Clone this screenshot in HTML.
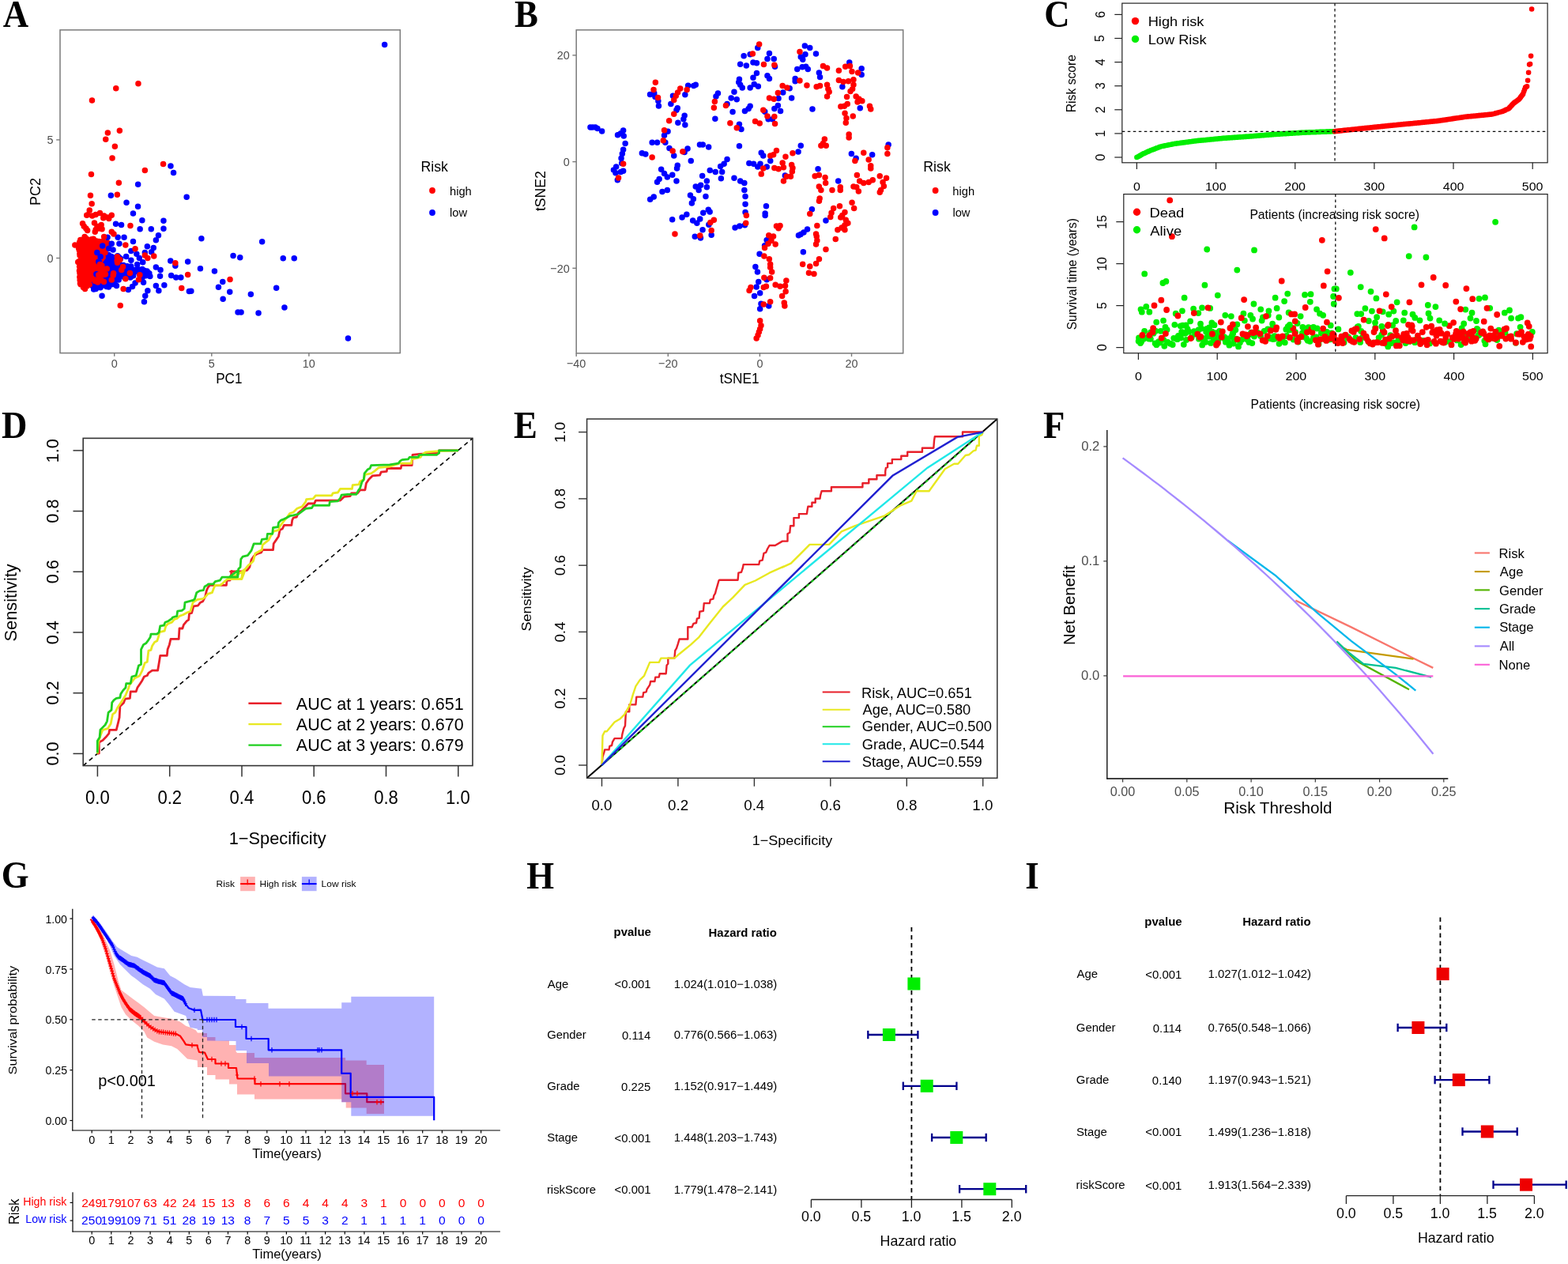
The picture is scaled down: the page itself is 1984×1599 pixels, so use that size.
<!DOCTYPE html>
<html><head><meta charset="utf-8"><title>Figure</title>
<style>html,body{margin:0;padding:0;background:#fff;overflow:hidden;} svg{display:block;} </style>
</head><body>
<svg width="1984" height="1599" viewBox="0 0 1984 1599" font-family="'Liberation Sans', Arial, sans-serif">
<rect width="1984" height="1599" fill="#fff"/>
<text transform="translate(3.65 33.90) scale(0.4480 0.4760)" font-size="100" font-weight="bold" font-family="'Liberation Serif', 'Times New Roman', serif">A</text>
<g id="A-pts">
<path d="M122.3,324.3a3.75,3.75 0 1,0 7.5,0a3.75,3.75 0 1,0 -7.5,0M126.3,351.5a3.75,3.75 0 1,0 7.5,0a3.75,3.75 0 1,0 -7.5,0M121.4,353.7a3.75,3.75 0 1,0 7.5,0a3.75,3.75 0 1,0 -7.5,0M132.3,342.3a3.75,3.75 0 1,0 7.5,0a3.75,3.75 0 1,0 -7.5,0M128.3,360.7a3.75,3.75 0 1,0 7.5,0a3.75,3.75 0 1,0 -7.5,0M145.8,324.5a3.75,3.75 0 1,0 7.5,0a3.75,3.75 0 1,0 -7.5,0M149.4,340.5a3.75,3.75 0 1,0 7.5,0a3.75,3.75 0 1,0 -7.5,0M137.1,355.8a3.75,3.75 0 1,0 7.5,0a3.75,3.75 0 1,0 -7.5,0M164.0,345.4a3.75,3.75 0 1,0 7.5,0a3.75,3.75 0 1,0 -7.5,0M120.2,321.1a3.75,3.75 0 1,0 7.5,0a3.75,3.75 0 1,0 -7.5,0M133.1,326.6a3.75,3.75 0 1,0 7.5,0a3.75,3.75 0 1,0 -7.5,0M176.3,340.6a3.75,3.75 0 1,0 7.5,0a3.75,3.75 0 1,0 -7.5,0M128.8,341.6a3.75,3.75 0 1,0 7.5,0a3.75,3.75 0 1,0 -7.5,0M119.6,354.4a3.75,3.75 0 1,0 7.5,0a3.75,3.75 0 1,0 -7.5,0M145.6,338.0a3.75,3.75 0 1,0 7.5,0a3.75,3.75 0 1,0 -7.5,0M183.1,344.4a3.75,3.75 0 1,0 7.5,0a3.75,3.75 0 1,0 -7.5,0M150.6,341.1a3.75,3.75 0 1,0 7.5,0a3.75,3.75 0 1,0 -7.5,0M120.2,357.7a3.75,3.75 0 1,0 7.5,0a3.75,3.75 0 1,0 -7.5,0M132.3,329.4a3.75,3.75 0 1,0 7.5,0a3.75,3.75 0 1,0 -7.5,0M144.6,351.4a3.75,3.75 0 1,0 7.5,0a3.75,3.75 0 1,0 -7.5,0M136.1,349.8a3.75,3.75 0 1,0 7.5,0a3.75,3.75 0 1,0 -7.5,0M173.2,348.0a3.75,3.75 0 1,0 7.5,0a3.75,3.75 0 1,0 -7.5,0M152.2,337.4a3.75,3.75 0 1,0 7.5,0a3.75,3.75 0 1,0 -7.5,0M137.4,341.8a3.75,3.75 0 1,0 7.5,0a3.75,3.75 0 1,0 -7.5,0M131.3,330.9a3.75,3.75 0 1,0 7.5,0a3.75,3.75 0 1,0 -7.5,0M138.7,348.7a3.75,3.75 0 1,0 7.5,0a3.75,3.75 0 1,0 -7.5,0M128.0,323.4a3.75,3.75 0 1,0 7.5,0a3.75,3.75 0 1,0 -7.5,0M182.3,343.1a3.75,3.75 0 1,0 7.5,0a3.75,3.75 0 1,0 -7.5,0M161.2,351.0a3.75,3.75 0 1,0 7.5,0a3.75,3.75 0 1,0 -7.5,0M173.7,344.7a3.75,3.75 0 1,0 7.5,0a3.75,3.75 0 1,0 -7.5,0M120.2,319.3a3.75,3.75 0 1,0 7.5,0a3.75,3.75 0 1,0 -7.5,0M148.1,347.7a3.75,3.75 0 1,0 7.5,0a3.75,3.75 0 1,0 -7.5,0M138.2,330.5a3.75,3.75 0 1,0 7.5,0a3.75,3.75 0 1,0 -7.5,0M139.4,350.5a3.75,3.75 0 1,0 7.5,0a3.75,3.75 0 1,0 -7.5,0M159.8,345.6a3.75,3.75 0 1,0 7.5,0a3.75,3.75 0 1,0 -7.5,0M134.7,347.9a3.75,3.75 0 1,0 7.5,0a3.75,3.75 0 1,0 -7.5,0M172.8,345.7a3.75,3.75 0 1,0 7.5,0a3.75,3.75 0 1,0 -7.5,0M120.3,354.2a3.75,3.75 0 1,0 7.5,0a3.75,3.75 0 1,0 -7.5,0M178.9,342.3a3.75,3.75 0 1,0 7.5,0a3.75,3.75 0 1,0 -7.5,0M135.6,339.7a3.75,3.75 0 1,0 7.5,0a3.75,3.75 0 1,0 -7.5,0M118.9,351.3a3.75,3.75 0 1,0 7.5,0a3.75,3.75 0 1,0 -7.5,0M123.3,363.8a3.75,3.75 0 1,0 7.5,0a3.75,3.75 0 1,0 -7.5,0M153.2,350.4a3.75,3.75 0 1,0 7.5,0a3.75,3.75 0 1,0 -7.5,0M133.7,363.0a3.75,3.75 0 1,0 7.5,0a3.75,3.75 0 1,0 -7.5,0M136.2,337.7a3.75,3.75 0 1,0 7.5,0a3.75,3.75 0 1,0 -7.5,0M117.5,365.4a3.75,3.75 0 1,0 7.5,0a3.75,3.75 0 1,0 -7.5,0M118.5,361.6a3.75,3.75 0 1,0 7.5,0a3.75,3.75 0 1,0 -7.5,0M150.6,343.0a3.75,3.75 0 1,0 7.5,0a3.75,3.75 0 1,0 -7.5,0M172.2,345.2a3.75,3.75 0 1,0 7.5,0a3.75,3.75 0 1,0 -7.5,0M117.4,357.3a3.75,3.75 0 1,0 7.5,0a3.75,3.75 0 1,0 -7.5,0M130.5,361.2a3.75,3.75 0 1,0 7.5,0a3.75,3.75 0 1,0 -7.5,0M126.8,343.7a3.75,3.75 0 1,0 7.5,0a3.75,3.75 0 1,0 -7.5,0M137.9,344.7a3.75,3.75 0 1,0 7.5,0a3.75,3.75 0 1,0 -7.5,0M148.7,326.9a3.75,3.75 0 1,0 7.5,0a3.75,3.75 0 1,0 -7.5,0M183.4,345.1a3.75,3.75 0 1,0 7.5,0a3.75,3.75 0 1,0 -7.5,0M144.8,334.9a3.75,3.75 0 1,0 7.5,0a3.75,3.75 0 1,0 -7.5,0M156.9,350.0a3.75,3.75 0 1,0 7.5,0a3.75,3.75 0 1,0 -7.5,0M140.0,336.1a3.75,3.75 0 1,0 7.5,0a3.75,3.75 0 1,0 -7.5,0M149.2,341.0a3.75,3.75 0 1,0 7.5,0a3.75,3.75 0 1,0 -7.5,0M165.5,345.0a3.75,3.75 0 1,0 7.5,0a3.75,3.75 0 1,0 -7.5,0M147.4,334.1a3.75,3.75 0 1,0 7.5,0a3.75,3.75 0 1,0 -7.5,0M131.9,334.0a3.75,3.75 0 1,0 7.5,0a3.75,3.75 0 1,0 -7.5,0M126.4,316.3a3.75,3.75 0 1,0 7.5,0a3.75,3.75 0 1,0 -7.5,0M141.0,356.3a3.75,3.75 0 1,0 7.5,0a3.75,3.75 0 1,0 -7.5,0M125.3,353.1a3.75,3.75 0 1,0 7.5,0a3.75,3.75 0 1,0 -7.5,0M115.5,355.6a3.75,3.75 0 1,0 7.5,0a3.75,3.75 0 1,0 -7.5,0M127.0,328.8a3.75,3.75 0 1,0 7.5,0a3.75,3.75 0 1,0 -7.5,0M139.1,331.9a3.75,3.75 0 1,0 7.5,0a3.75,3.75 0 1,0 -7.5,0M132.0,339.6a3.75,3.75 0 1,0 7.5,0a3.75,3.75 0 1,0 -7.5,0M145.0,323.8a3.75,3.75 0 1,0 7.5,0a3.75,3.75 0 1,0 -7.5,0M131.0,362.6a3.75,3.75 0 1,0 7.5,0a3.75,3.75 0 1,0 -7.5,0M123.7,346.9a3.75,3.75 0 1,0 7.5,0a3.75,3.75 0 1,0 -7.5,0M122.9,360.3a3.75,3.75 0 1,0 7.5,0a3.75,3.75 0 1,0 -7.5,0M125.4,329.2a3.75,3.75 0 1,0 7.5,0a3.75,3.75 0 1,0 -7.5,0M122.0,325.3a3.75,3.75 0 1,0 7.5,0a3.75,3.75 0 1,0 -7.5,0M137.1,348.5a3.75,3.75 0 1,0 7.5,0a3.75,3.75 0 1,0 -7.5,0M177.5,344.6a3.75,3.75 0 1,0 7.5,0a3.75,3.75 0 1,0 -7.5,0M125.8,328.9a3.75,3.75 0 1,0 7.5,0a3.75,3.75 0 1,0 -7.5,0M180.8,348.8a3.75,3.75 0 1,0 7.5,0a3.75,3.75 0 1,0 -7.5,0M129.6,347.3a3.75,3.75 0 1,0 7.5,0a3.75,3.75 0 1,0 -7.5,0M114.9,365.9a3.75,3.75 0 1,0 7.5,0a3.75,3.75 0 1,0 -7.5,0M142.5,341.2a3.75,3.75 0 1,0 7.5,0a3.75,3.75 0 1,0 -7.5,0M127.5,356.1a3.75,3.75 0 1,0 7.5,0a3.75,3.75 0 1,0 -7.5,0M129.8,342.3a3.75,3.75 0 1,0 7.5,0a3.75,3.75 0 1,0 -7.5,0M122.5,361.2a3.75,3.75 0 1,0 7.5,0a3.75,3.75 0 1,0 -7.5,0M144.2,353.3a3.75,3.75 0 1,0 7.5,0a3.75,3.75 0 1,0 -7.5,0M151.6,347.6a3.75,3.75 0 1,0 7.5,0a3.75,3.75 0 1,0 -7.5,0M136.1,348.3a3.75,3.75 0 1,0 7.5,0a3.75,3.75 0 1,0 -7.5,0M169.5,340.6a3.75,3.75 0 1,0 7.5,0a3.75,3.75 0 1,0 -7.5,0M161.7,340.8a3.75,3.75 0 1,0 7.5,0a3.75,3.75 0 1,0 -7.5,0M142.5,354.5a3.75,3.75 0 1,0 7.5,0a3.75,3.75 0 1,0 -7.5,0M154.8,351.3a3.75,3.75 0 1,0 7.5,0a3.75,3.75 0 1,0 -7.5,0M122.0,320.8a3.75,3.75 0 1,0 7.5,0a3.75,3.75 0 1,0 -7.5,0M142.0,336.5a3.75,3.75 0 1,0 7.5,0a3.75,3.75 0 1,0 -7.5,0M128.5,355.9a3.75,3.75 0 1,0 7.5,0a3.75,3.75 0 1,0 -7.5,0M113.5,361.8a3.75,3.75 0 1,0 7.5,0a3.75,3.75 0 1,0 -7.5,0M152.6,342.0a3.75,3.75 0 1,0 7.5,0a3.75,3.75 0 1,0 -7.5,0M156.7,341.1a3.75,3.75 0 1,0 7.5,0a3.75,3.75 0 1,0 -7.5,0M128.6,344.5a3.75,3.75 0 1,0 7.5,0a3.75,3.75 0 1,0 -7.5,0M114.7,357.1a3.75,3.75 0 1,0 7.5,0a3.75,3.75 0 1,0 -7.5,0M120.4,350.0a3.75,3.75 0 1,0 7.5,0a3.75,3.75 0 1,0 -7.5,0M136.5,324.3a3.75,3.75 0 1,0 7.5,0a3.75,3.75 0 1,0 -7.5,0M146.4,353.9a3.75,3.75 0 1,0 7.5,0a3.75,3.75 0 1,0 -7.5,0M143.7,353.0a3.75,3.75 0 1,0 7.5,0a3.75,3.75 0 1,0 -7.5,0M138.7,328.7a3.75,3.75 0 1,0 7.5,0a3.75,3.75 0 1,0 -7.5,0M125.9,326.3a3.75,3.75 0 1,0 7.5,0a3.75,3.75 0 1,0 -7.5,0M136.5,330.8a3.75,3.75 0 1,0 7.5,0a3.75,3.75 0 1,0 -7.5,0M185.1,345.7a3.75,3.75 0 1,0 7.5,0a3.75,3.75 0 1,0 -7.5,0M134.8,350.3a3.75,3.75 0 1,0 7.5,0a3.75,3.75 0 1,0 -7.5,0M175.9,344.6a3.75,3.75 0 1,0 7.5,0a3.75,3.75 0 1,0 -7.5,0M138.7,358.3a3.75,3.75 0 1,0 7.5,0a3.75,3.75 0 1,0 -7.5,0M137.8,355.0a3.75,3.75 0 1,0 7.5,0a3.75,3.75 0 1,0 -7.5,0M120.7,323.6a3.75,3.75 0 1,0 7.5,0a3.75,3.75 0 1,0 -7.5,0M132.1,336.8a3.75,3.75 0 1,0 7.5,0a3.75,3.75 0 1,0 -7.5,0M186.1,349.4a3.75,3.75 0 1,0 7.5,0a3.75,3.75 0 1,0 -7.5,0M133.2,333.4a3.75,3.75 0 1,0 7.5,0a3.75,3.75 0 1,0 -7.5,0M114.3,360.4a3.75,3.75 0 1,0 7.5,0a3.75,3.75 0 1,0 -7.5,0M133.4,354.4a3.75,3.75 0 1,0 7.5,0a3.75,3.75 0 1,0 -7.5,0M138.8,325.5a3.75,3.75 0 1,0 7.5,0a3.75,3.75 0 1,0 -7.5,0M132.4,335.6a3.75,3.75 0 1,0 7.5,0a3.75,3.75 0 1,0 -7.5,0M164.9,348.7a3.75,3.75 0 1,0 7.5,0a3.75,3.75 0 1,0 -7.5,0M129.9,351.2a3.75,3.75 0 1,0 7.5,0a3.75,3.75 0 1,0 -7.5,0M139.7,333.5a3.75,3.75 0 1,0 7.5,0a3.75,3.75 0 1,0 -7.5,0M130.8,331.3a3.75,3.75 0 1,0 7.5,0a3.75,3.75 0 1,0 -7.5,0M124.8,314.7a3.75,3.75 0 1,0 7.5,0a3.75,3.75 0 1,0 -7.5,0M124.8,350.0a3.75,3.75 0 1,0 7.5,0a3.75,3.75 0 1,0 -7.5,0M141.5,333.8a3.75,3.75 0 1,0 7.5,0a3.75,3.75 0 1,0 -7.5,0M133.6,339.5a3.75,3.75 0 1,0 7.5,0a3.75,3.75 0 1,0 -7.5,0M129.8,321.1a3.75,3.75 0 1,0 7.5,0a3.75,3.75 0 1,0 -7.5,0M139.5,338.3a3.75,3.75 0 1,0 7.5,0a3.75,3.75 0 1,0 -7.5,0M120.9,348.7a3.75,3.75 0 1,0 7.5,0a3.75,3.75 0 1,0 -7.5,0M126.7,317.6a3.75,3.75 0 1,0 7.5,0a3.75,3.75 0 1,0 -7.5,0M134.7,335.5a3.75,3.75 0 1,0 7.5,0a3.75,3.75 0 1,0 -7.5,0M163.0,342.6a3.75,3.75 0 1,0 7.5,0a3.75,3.75 0 1,0 -7.5,0M138.6,332.3a3.75,3.75 0 1,0 7.5,0a3.75,3.75 0 1,0 -7.5,0M153.9,338.0a3.75,3.75 0 1,0 7.5,0a3.75,3.75 0 1,0 -7.5,0M133.4,326.3a3.75,3.75 0 1,0 7.5,0a3.75,3.75 0 1,0 -7.5,0M178.1,343.3a3.75,3.75 0 1,0 7.5,0a3.75,3.75 0 1,0 -7.5,0M128.4,348.8a3.75,3.75 0 1,0 7.5,0a3.75,3.75 0 1,0 -7.5,0M136.4,343.8a3.75,3.75 0 1,0 7.5,0a3.75,3.75 0 1,0 -7.5,0M157.2,346.2a3.75,3.75 0 1,0 7.5,0a3.75,3.75 0 1,0 -7.5,0M140.2,335.1a3.75,3.75 0 1,0 7.5,0a3.75,3.75 0 1,0 -7.5,0M129.5,357.6a3.75,3.75 0 1,0 7.5,0a3.75,3.75 0 1,0 -7.5,0M132.1,332.1a3.75,3.75 0 1,0 7.5,0a3.75,3.75 0 1,0 -7.5,0M122.9,324.9a3.75,3.75 0 1,0 7.5,0a3.75,3.75 0 1,0 -7.5,0M138.8,325.5a3.75,3.75 0 1,0 7.5,0a3.75,3.75 0 1,0 -7.5,0M146.7,347.8a3.75,3.75 0 1,0 7.5,0a3.75,3.75 0 1,0 -7.5,0M151.0,346.4a3.75,3.75 0 1,0 7.5,0a3.75,3.75 0 1,0 -7.5,0M135.1,360.7a3.75,3.75 0 1,0 7.5,0a3.75,3.75 0 1,0 -7.5,0M132.5,351.4a3.75,3.75 0 1,0 7.5,0a3.75,3.75 0 1,0 -7.5,0M162.6,349.8a3.75,3.75 0 1,0 7.5,0a3.75,3.75 0 1,0 -7.5,0M146.4,343.1a3.75,3.75 0 1,0 7.5,0a3.75,3.75 0 1,0 -7.5,0M136.9,328.1a3.75,3.75 0 1,0 7.5,0a3.75,3.75 0 1,0 -7.5,0M166.8,341.5a3.75,3.75 0 1,0 7.5,0a3.75,3.75 0 1,0 -7.5,0M126.5,326.1a3.75,3.75 0 1,0 7.5,0a3.75,3.75 0 1,0 -7.5,0M133.4,322.2a3.75,3.75 0 1,0 7.5,0a3.75,3.75 0 1,0 -7.5,0M115.8,350.8a3.75,3.75 0 1,0 7.5,0a3.75,3.75 0 1,0 -7.5,0M120.6,359.6a3.75,3.75 0 1,0 7.5,0a3.75,3.75 0 1,0 -7.5,0M134.1,353.8a3.75,3.75 0 1,0 7.5,0a3.75,3.75 0 1,0 -7.5,0M152.5,335.4a3.75,3.75 0 1,0 7.5,0a3.75,3.75 0 1,0 -7.5,0M163.5,346.4a3.75,3.75 0 1,0 7.5,0a3.75,3.75 0 1,0 -7.5,0M111.6,351.3a3.75,3.75 0 1,0 7.5,0a3.75,3.75 0 1,0 -7.5,0M130.3,352.2a3.75,3.75 0 1,0 7.5,0a3.75,3.75 0 1,0 -7.5,0M150.5,338.8a3.75,3.75 0 1,0 7.5,0a3.75,3.75 0 1,0 -7.5,0M137.2,329.3a3.75,3.75 0 1,0 7.5,0a3.75,3.75 0 1,0 -7.5,0M130.1,333.8a3.75,3.75 0 1,0 7.5,0a3.75,3.75 0 1,0 -7.5,0M162.5,342.2a3.75,3.75 0 1,0 7.5,0a3.75,3.75 0 1,0 -7.5,0M121.6,318.4a3.75,3.75 0 1,0 7.5,0a3.75,3.75 0 1,0 -7.5,0M136.6,326.6a3.75,3.75 0 1,0 7.5,0a3.75,3.75 0 1,0 -7.5,0M123.7,359.6a3.75,3.75 0 1,0 7.5,0a3.75,3.75 0 1,0 -7.5,0M145.9,335.0a3.75,3.75 0 1,0 7.5,0a3.75,3.75 0 1,0 -7.5,0M159.5,346.4a3.75,3.75 0 1,0 7.5,0a3.75,3.75 0 1,0 -7.5,0M136.1,353.5a3.75,3.75 0 1,0 7.5,0a3.75,3.75 0 1,0 -7.5,0M132.2,340.5a3.75,3.75 0 1,0 7.5,0a3.75,3.75 0 1,0 -7.5,0M139.2,356.1a3.75,3.75 0 1,0 7.5,0a3.75,3.75 0 1,0 -7.5,0M138.4,332.6a3.75,3.75 0 1,0 7.5,0a3.75,3.75 0 1,0 -7.5,0M136.5,347.2a3.75,3.75 0 1,0 7.5,0a3.75,3.75 0 1,0 -7.5,0M135.7,327.7a3.75,3.75 0 1,0 7.5,0a3.75,3.75 0 1,0 -7.5,0M166.3,342.2a3.75,3.75 0 1,0 7.5,0a3.75,3.75 0 1,0 -7.5,0M135.4,335.9a3.75,3.75 0 1,0 7.5,0a3.75,3.75 0 1,0 -7.5,0M139.6,330.0a3.75,3.75 0 1,0 7.5,0a3.75,3.75 0 1,0 -7.5,0M123.9,360.3a3.75,3.75 0 1,0 7.5,0a3.75,3.75 0 1,0 -7.5,0M133.1,353.5a3.75,3.75 0 1,0 7.5,0a3.75,3.75 0 1,0 -7.5,0M129.3,349.3a3.75,3.75 0 1,0 7.5,0a3.75,3.75 0 1,0 -7.5,0M175.3,346.7a3.75,3.75 0 1,0 7.5,0a3.75,3.75 0 1,0 -7.5,0M147.6,343.4a3.75,3.75 0 1,0 7.5,0a3.75,3.75 0 1,0 -7.5,0M116.8,358.0a3.75,3.75 0 1,0 7.5,0a3.75,3.75 0 1,0 -7.5,0M162.1,337.1a3.75,3.75 0 1,0 7.5,0a3.75,3.75 0 1,0 -7.5,0M138.1,325.0a3.75,3.75 0 1,0 7.5,0a3.75,3.75 0 1,0 -7.5,0M155.1,343.6a3.75,3.75 0 1,0 7.5,0a3.75,3.75 0 1,0 -7.5,0M157.2,336.8a3.75,3.75 0 1,0 7.5,0a3.75,3.75 0 1,0 -7.5,0M154.5,344.8a3.75,3.75 0 1,0 7.5,0a3.75,3.75 0 1,0 -7.5,0M139.5,359.6a3.75,3.75 0 1,0 7.5,0a3.75,3.75 0 1,0 -7.5,0M146.5,325.2a3.75,3.75 0 1,0 7.5,0a3.75,3.75 0 1,0 -7.5,0M174.0,347.8a3.75,3.75 0 1,0 7.5,0a3.75,3.75 0 1,0 -7.5,0M170.6,340.3a3.75,3.75 0 1,0 7.5,0a3.75,3.75 0 1,0 -7.5,0M176.3,351.2a3.75,3.75 0 1,0 7.5,0a3.75,3.75 0 1,0 -7.5,0M127.5,356.4a3.75,3.75 0 1,0 7.5,0a3.75,3.75 0 1,0 -7.5,0M143.6,341.7a3.75,3.75 0 1,0 7.5,0a3.75,3.75 0 1,0 -7.5,0M129.8,347.5a3.75,3.75 0 1,0 7.5,0a3.75,3.75 0 1,0 -7.5,0" fill="#0000ff"/>
<path d="M112.0,337.9a3.75,3.75 0 1,0 7.5,0a3.75,3.75 0 1,0 -7.5,0M114.2,339.7a3.75,3.75 0 1,0 7.5,0a3.75,3.75 0 1,0 -7.5,0M101.2,334.8a3.75,3.75 0 1,0 7.5,0a3.75,3.75 0 1,0 -7.5,0M97.6,321.1a3.75,3.75 0 1,0 7.5,0a3.75,3.75 0 1,0 -7.5,0M97.4,354.3a3.75,3.75 0 1,0 7.5,0a3.75,3.75 0 1,0 -7.5,0M120.1,341.6a3.75,3.75 0 1,0 7.5,0a3.75,3.75 0 1,0 -7.5,0M115.0,305.1a3.75,3.75 0 1,0 7.5,0a3.75,3.75 0 1,0 -7.5,0M101.4,317.0a3.75,3.75 0 1,0 7.5,0a3.75,3.75 0 1,0 -7.5,0M95.0,331.6a3.75,3.75 0 1,0 7.5,0a3.75,3.75 0 1,0 -7.5,0M114.7,343.2a3.75,3.75 0 1,0 7.5,0a3.75,3.75 0 1,0 -7.5,0M113.9,344.7a3.75,3.75 0 1,0 7.5,0a3.75,3.75 0 1,0 -7.5,0M112.2,319.4a3.75,3.75 0 1,0 7.5,0a3.75,3.75 0 1,0 -7.5,0M127.6,347.6a3.75,3.75 0 1,0 7.5,0a3.75,3.75 0 1,0 -7.5,0M106.5,316.2a3.75,3.75 0 1,0 7.5,0a3.75,3.75 0 1,0 -7.5,0M105.4,305.8a3.75,3.75 0 1,0 7.5,0a3.75,3.75 0 1,0 -7.5,0M124.6,327.5a3.75,3.75 0 1,0 7.5,0a3.75,3.75 0 1,0 -7.5,0M96.7,342.5a3.75,3.75 0 1,0 7.5,0a3.75,3.75 0 1,0 -7.5,0M125.1,318.9a3.75,3.75 0 1,0 7.5,0a3.75,3.75 0 1,0 -7.5,0M97.3,323.0a3.75,3.75 0 1,0 7.5,0a3.75,3.75 0 1,0 -7.5,0M98.5,317.3a3.75,3.75 0 1,0 7.5,0a3.75,3.75 0 1,0 -7.5,0M97.8,305.1a3.75,3.75 0 1,0 7.5,0a3.75,3.75 0 1,0 -7.5,0M125.9,312.8a3.75,3.75 0 1,0 7.5,0a3.75,3.75 0 1,0 -7.5,0M116.3,330.5a3.75,3.75 0 1,0 7.5,0a3.75,3.75 0 1,0 -7.5,0M101.4,349.2a3.75,3.75 0 1,0 7.5,0a3.75,3.75 0 1,0 -7.5,0M99.0,343.4a3.75,3.75 0 1,0 7.5,0a3.75,3.75 0 1,0 -7.5,0M98.5,328.8a3.75,3.75 0 1,0 7.5,0a3.75,3.75 0 1,0 -7.5,0M102.3,318.9a3.75,3.75 0 1,0 7.5,0a3.75,3.75 0 1,0 -7.5,0M106.0,359.3a3.75,3.75 0 1,0 7.5,0a3.75,3.75 0 1,0 -7.5,0M102.3,327.0a3.75,3.75 0 1,0 7.5,0a3.75,3.75 0 1,0 -7.5,0M102.4,318.1a3.75,3.75 0 1,0 7.5,0a3.75,3.75 0 1,0 -7.5,0M124.9,322.8a3.75,3.75 0 1,0 7.5,0a3.75,3.75 0 1,0 -7.5,0M105.7,306.0a3.75,3.75 0 1,0 7.5,0a3.75,3.75 0 1,0 -7.5,0M97.4,339.4a3.75,3.75 0 1,0 7.5,0a3.75,3.75 0 1,0 -7.5,0M103.6,340.6a3.75,3.75 0 1,0 7.5,0a3.75,3.75 0 1,0 -7.5,0M108.7,330.9a3.75,3.75 0 1,0 7.5,0a3.75,3.75 0 1,0 -7.5,0M101.1,311.3a3.75,3.75 0 1,0 7.5,0a3.75,3.75 0 1,0 -7.5,0M103.8,313.6a3.75,3.75 0 1,0 7.5,0a3.75,3.75 0 1,0 -7.5,0M101.7,363.6a3.75,3.75 0 1,0 7.5,0a3.75,3.75 0 1,0 -7.5,0M110.7,308.0a3.75,3.75 0 1,0 7.5,0a3.75,3.75 0 1,0 -7.5,0M103.4,347.4a3.75,3.75 0 1,0 7.5,0a3.75,3.75 0 1,0 -7.5,0M104.1,355.3a3.75,3.75 0 1,0 7.5,0a3.75,3.75 0 1,0 -7.5,0M117.8,320.4a3.75,3.75 0 1,0 7.5,0a3.75,3.75 0 1,0 -7.5,0M100.8,348.5a3.75,3.75 0 1,0 7.5,0a3.75,3.75 0 1,0 -7.5,0M96.5,316.2a3.75,3.75 0 1,0 7.5,0a3.75,3.75 0 1,0 -7.5,0M118.5,319.6a3.75,3.75 0 1,0 7.5,0a3.75,3.75 0 1,0 -7.5,0M130.7,314.6a3.75,3.75 0 1,0 7.5,0a3.75,3.75 0 1,0 -7.5,0M111.7,305.1a3.75,3.75 0 1,0 7.5,0a3.75,3.75 0 1,0 -7.5,0M100.9,325.4a3.75,3.75 0 1,0 7.5,0a3.75,3.75 0 1,0 -7.5,0M116.8,309.8a3.75,3.75 0 1,0 7.5,0a3.75,3.75 0 1,0 -7.5,0M108.4,359.7a3.75,3.75 0 1,0 7.5,0a3.75,3.75 0 1,0 -7.5,0M121.6,339.5a3.75,3.75 0 1,0 7.5,0a3.75,3.75 0 1,0 -7.5,0M99.4,303.5a3.75,3.75 0 1,0 7.5,0a3.75,3.75 0 1,0 -7.5,0M113.2,349.1a3.75,3.75 0 1,0 7.5,0a3.75,3.75 0 1,0 -7.5,0M96.8,337.0a3.75,3.75 0 1,0 7.5,0a3.75,3.75 0 1,0 -7.5,0M123.5,347.4a3.75,3.75 0 1,0 7.5,0a3.75,3.75 0 1,0 -7.5,0M107.9,346.2a3.75,3.75 0 1,0 7.5,0a3.75,3.75 0 1,0 -7.5,0M110.6,353.1a3.75,3.75 0 1,0 7.5,0a3.75,3.75 0 1,0 -7.5,0M118.9,326.3a3.75,3.75 0 1,0 7.5,0a3.75,3.75 0 1,0 -7.5,0M117.2,341.1a3.75,3.75 0 1,0 7.5,0a3.75,3.75 0 1,0 -7.5,0M97.0,343.1a3.75,3.75 0 1,0 7.5,0a3.75,3.75 0 1,0 -7.5,0M123.1,326.7a3.75,3.75 0 1,0 7.5,0a3.75,3.75 0 1,0 -7.5,0M123.4,339.3a3.75,3.75 0 1,0 7.5,0a3.75,3.75 0 1,0 -7.5,0M97.1,350.4a3.75,3.75 0 1,0 7.5,0a3.75,3.75 0 1,0 -7.5,0M113.1,316.3a3.75,3.75 0 1,0 7.5,0a3.75,3.75 0 1,0 -7.5,0M121.9,333.8a3.75,3.75 0 1,0 7.5,0a3.75,3.75 0 1,0 -7.5,0M104.1,301.9a3.75,3.75 0 1,0 7.5,0a3.75,3.75 0 1,0 -7.5,0M105.9,345.7a3.75,3.75 0 1,0 7.5,0a3.75,3.75 0 1,0 -7.5,0M101.9,312.3a3.75,3.75 0 1,0 7.5,0a3.75,3.75 0 1,0 -7.5,0M106.9,344.9a3.75,3.75 0 1,0 7.5,0a3.75,3.75 0 1,0 -7.5,0M101.8,329.5a3.75,3.75 0 1,0 7.5,0a3.75,3.75 0 1,0 -7.5,0M117.3,321.9a3.75,3.75 0 1,0 7.5,0a3.75,3.75 0 1,0 -7.5,0M99.2,333.8a3.75,3.75 0 1,0 7.5,0a3.75,3.75 0 1,0 -7.5,0M104.9,312.3a3.75,3.75 0 1,0 7.5,0a3.75,3.75 0 1,0 -7.5,0M111.9,319.2a3.75,3.75 0 1,0 7.5,0a3.75,3.75 0 1,0 -7.5,0M102.4,328.3a3.75,3.75 0 1,0 7.5,0a3.75,3.75 0 1,0 -7.5,0M119.0,333.6a3.75,3.75 0 1,0 7.5,0a3.75,3.75 0 1,0 -7.5,0M106.5,356.3a3.75,3.75 0 1,0 7.5,0a3.75,3.75 0 1,0 -7.5,0M122.3,338.6a3.75,3.75 0 1,0 7.5,0a3.75,3.75 0 1,0 -7.5,0M106.2,353.1a3.75,3.75 0 1,0 7.5,0a3.75,3.75 0 1,0 -7.5,0M112.1,302.8a3.75,3.75 0 1,0 7.5,0a3.75,3.75 0 1,0 -7.5,0M127.2,316.7a3.75,3.75 0 1,0 7.5,0a3.75,3.75 0 1,0 -7.5,0M99.4,304.2a3.75,3.75 0 1,0 7.5,0a3.75,3.75 0 1,0 -7.5,0M119.1,330.5a3.75,3.75 0 1,0 7.5,0a3.75,3.75 0 1,0 -7.5,0M119.1,344.2a3.75,3.75 0 1,0 7.5,0a3.75,3.75 0 1,0 -7.5,0M121.3,314.2a3.75,3.75 0 1,0 7.5,0a3.75,3.75 0 1,0 -7.5,0M112.9,312.9a3.75,3.75 0 1,0 7.5,0a3.75,3.75 0 1,0 -7.5,0M122.5,312.9a3.75,3.75 0 1,0 7.5,0a3.75,3.75 0 1,0 -7.5,0M104.7,323.9a3.75,3.75 0 1,0 7.5,0a3.75,3.75 0 1,0 -7.5,0M121.9,335.3a3.75,3.75 0 1,0 7.5,0a3.75,3.75 0 1,0 -7.5,0M118.5,350.8a3.75,3.75 0 1,0 7.5,0a3.75,3.75 0 1,0 -7.5,0M109.6,353.2a3.75,3.75 0 1,0 7.5,0a3.75,3.75 0 1,0 -7.5,0M130.3,306.9a3.75,3.75 0 1,0 7.5,0a3.75,3.75 0 1,0 -7.5,0M99.0,330.9a3.75,3.75 0 1,0 7.5,0a3.75,3.75 0 1,0 -7.5,0M108.9,338.5a3.75,3.75 0 1,0 7.5,0a3.75,3.75 0 1,0 -7.5,0M120.0,314.6a3.75,3.75 0 1,0 7.5,0a3.75,3.75 0 1,0 -7.5,0M119.6,348.3a3.75,3.75 0 1,0 7.5,0a3.75,3.75 0 1,0 -7.5,0M102.4,360.3a3.75,3.75 0 1,0 7.5,0a3.75,3.75 0 1,0 -7.5,0M115.4,353.1a3.75,3.75 0 1,0 7.5,0a3.75,3.75 0 1,0 -7.5,0M106.7,360.9a3.75,3.75 0 1,0 7.5,0a3.75,3.75 0 1,0 -7.5,0M97.1,330.1a3.75,3.75 0 1,0 7.5,0a3.75,3.75 0 1,0 -7.5,0M115.9,351.6a3.75,3.75 0 1,0 7.5,0a3.75,3.75 0 1,0 -7.5,0M113.4,303.0a3.75,3.75 0 1,0 7.5,0a3.75,3.75 0 1,0 -7.5,0M126.4,305.4a3.75,3.75 0 1,0 7.5,0a3.75,3.75 0 1,0 -7.5,0M126.0,312.5a3.75,3.75 0 1,0 7.5,0a3.75,3.75 0 1,0 -7.5,0M107.3,352.9a3.75,3.75 0 1,0 7.5,0a3.75,3.75 0 1,0 -7.5,0M99.4,310.9a3.75,3.75 0 1,0 7.5,0a3.75,3.75 0 1,0 -7.5,0M114.6,348.7a3.75,3.75 0 1,0 7.5,0a3.75,3.75 0 1,0 -7.5,0M127.6,346.4a3.75,3.75 0 1,0 7.5,0a3.75,3.75 0 1,0 -7.5,0M132.0,306.8a3.75,3.75 0 1,0 7.5,0a3.75,3.75 0 1,0 -7.5,0M102.7,335.7a3.75,3.75 0 1,0 7.5,0a3.75,3.75 0 1,0 -7.5,0M105.5,349.0a3.75,3.75 0 1,0 7.5,0a3.75,3.75 0 1,0 -7.5,0M119.5,335.5a3.75,3.75 0 1,0 7.5,0a3.75,3.75 0 1,0 -7.5,0M106.3,326.2a3.75,3.75 0 1,0 7.5,0a3.75,3.75 0 1,0 -7.5,0M102.2,357.0a3.75,3.75 0 1,0 7.5,0a3.75,3.75 0 1,0 -7.5,0M116.8,314.4a3.75,3.75 0 1,0 7.5,0a3.75,3.75 0 1,0 -7.5,0M115.3,334.2a3.75,3.75 0 1,0 7.5,0a3.75,3.75 0 1,0 -7.5,0M109.9,353.8a3.75,3.75 0 1,0 7.5,0a3.75,3.75 0 1,0 -7.5,0M116.4,333.4a3.75,3.75 0 1,0 7.5,0a3.75,3.75 0 1,0 -7.5,0M121.6,305.5a3.75,3.75 0 1,0 7.5,0a3.75,3.75 0 1,0 -7.5,0M115.5,328.3a3.75,3.75 0 1,0 7.5,0a3.75,3.75 0 1,0 -7.5,0M104.6,332.2a3.75,3.75 0 1,0 7.5,0a3.75,3.75 0 1,0 -7.5,0M98.9,329.6a3.75,3.75 0 1,0 7.5,0a3.75,3.75 0 1,0 -7.5,0M113.0,322.0a3.75,3.75 0 1,0 7.5,0a3.75,3.75 0 1,0 -7.5,0M101.5,341.7a3.75,3.75 0 1,0 7.5,0a3.75,3.75 0 1,0 -7.5,0M131.0,309.7a3.75,3.75 0 1,0 7.5,0a3.75,3.75 0 1,0 -7.5,0M101.6,316.1a3.75,3.75 0 1,0 7.5,0a3.75,3.75 0 1,0 -7.5,0M121.4,322.3a3.75,3.75 0 1,0 7.5,0a3.75,3.75 0 1,0 -7.5,0M108.1,341.9a3.75,3.75 0 1,0 7.5,0a3.75,3.75 0 1,0 -7.5,0M98.0,349.2a3.75,3.75 0 1,0 7.5,0a3.75,3.75 0 1,0 -7.5,0M98.7,334.7a3.75,3.75 0 1,0 7.5,0a3.75,3.75 0 1,0 -7.5,0M103.9,314.1a3.75,3.75 0 1,0 7.5,0a3.75,3.75 0 1,0 -7.5,0M115.1,329.8a3.75,3.75 0 1,0 7.5,0a3.75,3.75 0 1,0 -7.5,0M108.9,328.3a3.75,3.75 0 1,0 7.5,0a3.75,3.75 0 1,0 -7.5,0M115.1,311.6a3.75,3.75 0 1,0 7.5,0a3.75,3.75 0 1,0 -7.5,0M102.0,342.6a3.75,3.75 0 1,0 7.5,0a3.75,3.75 0 1,0 -7.5,0M119.5,335.9a3.75,3.75 0 1,0 7.5,0a3.75,3.75 0 1,0 -7.5,0M128.3,316.4a3.75,3.75 0 1,0 7.5,0a3.75,3.75 0 1,0 -7.5,0M106.5,361.8a3.75,3.75 0 1,0 7.5,0a3.75,3.75 0 1,0 -7.5,0M129.5,310.0a3.75,3.75 0 1,0 7.5,0a3.75,3.75 0 1,0 -7.5,0M103.4,348.9a3.75,3.75 0 1,0 7.5,0a3.75,3.75 0 1,0 -7.5,0M104.2,307.5a3.75,3.75 0 1,0 7.5,0a3.75,3.75 0 1,0 -7.5,0M125.6,309.4a3.75,3.75 0 1,0 7.5,0a3.75,3.75 0 1,0 -7.5,0M110.0,346.2a3.75,3.75 0 1,0 7.5,0a3.75,3.75 0 1,0 -7.5,0M132.8,308.7a3.75,3.75 0 1,0 7.5,0a3.75,3.75 0 1,0 -7.5,0M114.1,350.9a3.75,3.75 0 1,0 7.5,0a3.75,3.75 0 1,0 -7.5,0M114.0,346.2a3.75,3.75 0 1,0 7.5,0a3.75,3.75 0 1,0 -7.5,0M101.4,305.8a3.75,3.75 0 1,0 7.5,0a3.75,3.75 0 1,0 -7.5,0M98.0,303.6a3.75,3.75 0 1,0 7.5,0a3.75,3.75 0 1,0 -7.5,0M116.0,335.0a3.75,3.75 0 1,0 7.5,0a3.75,3.75 0 1,0 -7.5,0M116.7,310.8a3.75,3.75 0 1,0 7.5,0a3.75,3.75 0 1,0 -7.5,0M101.2,314.5a3.75,3.75 0 1,0 7.5,0a3.75,3.75 0 1,0 -7.5,0M131.1,307.4a3.75,3.75 0 1,0 7.5,0a3.75,3.75 0 1,0 -7.5,0M112.4,351.4a3.75,3.75 0 1,0 7.5,0a3.75,3.75 0 1,0 -7.5,0M106.9,331.8a3.75,3.75 0 1,0 7.5,0a3.75,3.75 0 1,0 -7.5,0M114.5,329.4a3.75,3.75 0 1,0 7.5,0a3.75,3.75 0 1,0 -7.5,0M101.1,331.0a3.75,3.75 0 1,0 7.5,0a3.75,3.75 0 1,0 -7.5,0M123.5,327.8a3.75,3.75 0 1,0 7.5,0a3.75,3.75 0 1,0 -7.5,0M101.6,312.0a3.75,3.75 0 1,0 7.5,0a3.75,3.75 0 1,0 -7.5,0M114.4,302.2a3.75,3.75 0 1,0 7.5,0a3.75,3.75 0 1,0 -7.5,0M119.1,327.7a3.75,3.75 0 1,0 7.5,0a3.75,3.75 0 1,0 -7.5,0M117.9,334.3a3.75,3.75 0 1,0 7.5,0a3.75,3.75 0 1,0 -7.5,0M104.2,361.0a3.75,3.75 0 1,0 7.5,0a3.75,3.75 0 1,0 -7.5,0M121.7,351.5a3.75,3.75 0 1,0 7.5,0a3.75,3.75 0 1,0 -7.5,0M124.6,327.8a3.75,3.75 0 1,0 7.5,0a3.75,3.75 0 1,0 -7.5,0M122.9,305.8a3.75,3.75 0 1,0 7.5,0a3.75,3.75 0 1,0 -7.5,0M107.5,331.9a3.75,3.75 0 1,0 7.5,0a3.75,3.75 0 1,0 -7.5,0M119.5,342.1a3.75,3.75 0 1,0 7.5,0a3.75,3.75 0 1,0 -7.5,0M103.1,363.2a3.75,3.75 0 1,0 7.5,0a3.75,3.75 0 1,0 -7.5,0M120.6,323.3a3.75,3.75 0 1,0 7.5,0a3.75,3.75 0 1,0 -7.5,0M120.3,338.6a3.75,3.75 0 1,0 7.5,0a3.75,3.75 0 1,0 -7.5,0M115.2,326.7a3.75,3.75 0 1,0 7.5,0a3.75,3.75 0 1,0 -7.5,0M122.0,351.2a3.75,3.75 0 1,0 7.5,0a3.75,3.75 0 1,0 -7.5,0M118.6,349.7a3.75,3.75 0 1,0 7.5,0a3.75,3.75 0 1,0 -7.5,0M104.1,327.5a3.75,3.75 0 1,0 7.5,0a3.75,3.75 0 1,0 -7.5,0M95.8,314.0a3.75,3.75 0 1,0 7.5,0a3.75,3.75 0 1,0 -7.5,0M108.9,307.6a3.75,3.75 0 1,0 7.5,0a3.75,3.75 0 1,0 -7.5,0M103.9,360.6a3.75,3.75 0 1,0 7.5,0a3.75,3.75 0 1,0 -7.5,0M115.9,334.5a3.75,3.75 0 1,0 7.5,0a3.75,3.75 0 1,0 -7.5,0M126.4,306.2a3.75,3.75 0 1,0 7.5,0a3.75,3.75 0 1,0 -7.5,0M117.8,351.0a3.75,3.75 0 1,0 7.5,0a3.75,3.75 0 1,0 -7.5,0M100.2,332.1a3.75,3.75 0 1,0 7.5,0a3.75,3.75 0 1,0 -7.5,0M100.6,333.7a3.75,3.75 0 1,0 7.5,0a3.75,3.75 0 1,0 -7.5,0M118.4,305.0a3.75,3.75 0 1,0 7.5,0a3.75,3.75 0 1,0 -7.5,0M115.0,340.4a3.75,3.75 0 1,0 7.5,0a3.75,3.75 0 1,0 -7.5,0M108.5,319.9a3.75,3.75 0 1,0 7.5,0a3.75,3.75 0 1,0 -7.5,0M120.2,338.0a3.75,3.75 0 1,0 7.5,0a3.75,3.75 0 1,0 -7.5,0M105.2,348.2a3.75,3.75 0 1,0 7.5,0a3.75,3.75 0 1,0 -7.5,0M105.7,302.1a3.75,3.75 0 1,0 7.5,0a3.75,3.75 0 1,0 -7.5,0M103.6,304.0a3.75,3.75 0 1,0 7.5,0a3.75,3.75 0 1,0 -7.5,0M100.1,350.7a3.75,3.75 0 1,0 7.5,0a3.75,3.75 0 1,0 -7.5,0M109.5,360.1a3.75,3.75 0 1,0 7.5,0a3.75,3.75 0 1,0 -7.5,0M111.1,332.5a3.75,3.75 0 1,0 7.5,0a3.75,3.75 0 1,0 -7.5,0M122.9,331.9a3.75,3.75 0 1,0 7.5,0a3.75,3.75 0 1,0 -7.5,0M118.1,308.7a3.75,3.75 0 1,0 7.5,0a3.75,3.75 0 1,0 -7.5,0M118.9,331.1a3.75,3.75 0 1,0 7.5,0a3.75,3.75 0 1,0 -7.5,0M102.0,304.6a3.75,3.75 0 1,0 7.5,0a3.75,3.75 0 1,0 -7.5,0M115.0,309.3a3.75,3.75 0 1,0 7.5,0a3.75,3.75 0 1,0 -7.5,0M111.6,345.0a3.75,3.75 0 1,0 7.5,0a3.75,3.75 0 1,0 -7.5,0M112.1,318.4a3.75,3.75 0 1,0 7.5,0a3.75,3.75 0 1,0 -7.5,0M117.2,328.7a3.75,3.75 0 1,0 7.5,0a3.75,3.75 0 1,0 -7.5,0M125.1,336.0a3.75,3.75 0 1,0 7.5,0a3.75,3.75 0 1,0 -7.5,0M123.3,316.8a3.75,3.75 0 1,0 7.5,0a3.75,3.75 0 1,0 -7.5,0M98.3,359.8a3.75,3.75 0 1,0 7.5,0a3.75,3.75 0 1,0 -7.5,0M125.4,342.2a3.75,3.75 0 1,0 7.5,0a3.75,3.75 0 1,0 -7.5,0M108.2,319.0a3.75,3.75 0 1,0 7.5,0a3.75,3.75 0 1,0 -7.5,0M121.4,338.3a3.75,3.75 0 1,0 7.5,0a3.75,3.75 0 1,0 -7.5,0M117.6,342.7a3.75,3.75 0 1,0 7.5,0a3.75,3.75 0 1,0 -7.5,0M124.1,313.6a3.75,3.75 0 1,0 7.5,0a3.75,3.75 0 1,0 -7.5,0M103.8,365.5a3.75,3.75 0 1,0 7.5,0a3.75,3.75 0 1,0 -7.5,0M104.7,329.1a3.75,3.75 0 1,0 7.5,0a3.75,3.75 0 1,0 -7.5,0M118.9,307.9a3.75,3.75 0 1,0 7.5,0a3.75,3.75 0 1,0 -7.5,0M115.6,305.9a3.75,3.75 0 1,0 7.5,0a3.75,3.75 0 1,0 -7.5,0M97.2,345.6a3.75,3.75 0 1,0 7.5,0a3.75,3.75 0 1,0 -7.5,0M115.9,342.6a3.75,3.75 0 1,0 7.5,0a3.75,3.75 0 1,0 -7.5,0M108.8,332.6a3.75,3.75 0 1,0 7.5,0a3.75,3.75 0 1,0 -7.5,0M102.2,323.7a3.75,3.75 0 1,0 7.5,0a3.75,3.75 0 1,0 -7.5,0M96.8,309.0a3.75,3.75 0 1,0 7.5,0a3.75,3.75 0 1,0 -7.5,0M126.4,342.1a3.75,3.75 0 1,0 7.5,0a3.75,3.75 0 1,0 -7.5,0M124.7,315.2a3.75,3.75 0 1,0 7.5,0a3.75,3.75 0 1,0 -7.5,0M110.9,318.1a3.75,3.75 0 1,0 7.5,0a3.75,3.75 0 1,0 -7.5,0M126.4,325.4a3.75,3.75 0 1,0 7.5,0a3.75,3.75 0 1,0 -7.5,0M106.9,337.2a3.75,3.75 0 1,0 7.5,0a3.75,3.75 0 1,0 -7.5,0M111.0,325.4a3.75,3.75 0 1,0 7.5,0a3.75,3.75 0 1,0 -7.5,0M97.7,358.6a3.75,3.75 0 1,0 7.5,0a3.75,3.75 0 1,0 -7.5,0M96.9,306.6a3.75,3.75 0 1,0 7.5,0a3.75,3.75 0 1,0 -7.5,0M116.5,333.0a3.75,3.75 0 1,0 7.5,0a3.75,3.75 0 1,0 -7.5,0M121.4,320.8a3.75,3.75 0 1,0 7.5,0a3.75,3.75 0 1,0 -7.5,0M125.0,306.2a3.75,3.75 0 1,0 7.5,0a3.75,3.75 0 1,0 -7.5,0M102.4,344.6a3.75,3.75 0 1,0 7.5,0a3.75,3.75 0 1,0 -7.5,0M97.1,321.1a3.75,3.75 0 1,0 7.5,0a3.75,3.75 0 1,0 -7.5,0M123.0,346.7a3.75,3.75 0 1,0 7.5,0a3.75,3.75 0 1,0 -7.5,0M105.2,310.5a3.75,3.75 0 1,0 7.5,0a3.75,3.75 0 1,0 -7.5,0M108.2,348.8a3.75,3.75 0 1,0 7.5,0a3.75,3.75 0 1,0 -7.5,0M108.5,308.9a3.75,3.75 0 1,0 7.5,0a3.75,3.75 0 1,0 -7.5,0M122.3,338.5a3.75,3.75 0 1,0 7.5,0a3.75,3.75 0 1,0 -7.5,0M126.1,321.2a3.75,3.75 0 1,0 7.5,0a3.75,3.75 0 1,0 -7.5,0M106.6,327.4a3.75,3.75 0 1,0 7.5,0a3.75,3.75 0 1,0 -7.5,0M103.8,324.9a3.75,3.75 0 1,0 7.5,0a3.75,3.75 0 1,0 -7.5,0M108.5,325.0a3.75,3.75 0 1,0 7.5,0a3.75,3.75 0 1,0 -7.5,0M109.7,326.6a3.75,3.75 0 1,0 7.5,0a3.75,3.75 0 1,0 -7.5,0M101.6,338.2a3.75,3.75 0 1,0 7.5,0a3.75,3.75 0 1,0 -7.5,0M100.9,351.0a3.75,3.75 0 1,0 7.5,0a3.75,3.75 0 1,0 -7.5,0M129.2,319.6a3.75,3.75 0 1,0 7.5,0a3.75,3.75 0 1,0 -7.5,0M115.7,338.4a3.75,3.75 0 1,0 7.5,0a3.75,3.75 0 1,0 -7.5,0M126.2,305.4a3.75,3.75 0 1,0 7.5,0a3.75,3.75 0 1,0 -7.5,0M115.8,352.9a3.75,3.75 0 1,0 7.5,0a3.75,3.75 0 1,0 -7.5,0M97.1,306.5a3.75,3.75 0 1,0 7.5,0a3.75,3.75 0 1,0 -7.5,0M97.2,342.8a3.75,3.75 0 1,0 7.5,0a3.75,3.75 0 1,0 -7.5,0M99.6,350.1a3.75,3.75 0 1,0 7.5,0a3.75,3.75 0 1,0 -7.5,0M119.9,317.3a3.75,3.75 0 1,0 7.5,0a3.75,3.75 0 1,0 -7.5,0M102.6,351.4a3.75,3.75 0 1,0 7.5,0a3.75,3.75 0 1,0 -7.5,0M114.8,351.4a3.75,3.75 0 1,0 7.5,0a3.75,3.75 0 1,0 -7.5,0M109.6,323.3a3.75,3.75 0 1,0 7.5,0a3.75,3.75 0 1,0 -7.5,0M113.6,336.4a3.75,3.75 0 1,0 7.5,0a3.75,3.75 0 1,0 -7.5,0M122.8,347.7a3.75,3.75 0 1,0 7.5,0a3.75,3.75 0 1,0 -7.5,0M127.0,344.9a3.75,3.75 0 1,0 7.5,0a3.75,3.75 0 1,0 -7.5,0M114.9,347.8a3.75,3.75 0 1,0 7.5,0a3.75,3.75 0 1,0 -7.5,0M110.7,310.8a3.75,3.75 0 1,0 7.5,0a3.75,3.75 0 1,0 -7.5,0M108.9,312.2a3.75,3.75 0 1,0 7.5,0a3.75,3.75 0 1,0 -7.5,0M102.0,329.1a3.75,3.75 0 1,0 7.5,0a3.75,3.75 0 1,0 -7.5,0" fill="#ff0000"/>
<path d="M125.9,311.1a3.75,3.75 0 1,0 7.5,0a3.75,3.75 0 1,0 -7.5,0M119.1,319.4a3.75,3.75 0 1,0 7.5,0a3.75,3.75 0 1,0 -7.5,0M118.1,346.8a3.75,3.75 0 1,0 7.5,0a3.75,3.75 0 1,0 -7.5,0M121.7,331.8a3.75,3.75 0 1,0 7.5,0a3.75,3.75 0 1,0 -7.5,0M123.4,324.8a3.75,3.75 0 1,0 7.5,0a3.75,3.75 0 1,0 -7.5,0M121.0,331.0a3.75,3.75 0 1,0 7.5,0a3.75,3.75 0 1,0 -7.5,0" fill="#0000ff"/>
<path d="M144.8,332.2a3.75,3.75 0 1,0 7.5,0a3.75,3.75 0 1,0 -7.5,0M144.4,329.7a3.75,3.75 0 1,0 7.5,0a3.75,3.75 0 1,0 -7.5,0M160.6,345.4a3.75,3.75 0 1,0 7.5,0a3.75,3.75 0 1,0 -7.5,0M173.1,347.8a3.75,3.75 0 1,0 7.5,0a3.75,3.75 0 1,0 -7.5,0M139.4,348.2a3.75,3.75 0 1,0 7.5,0a3.75,3.75 0 1,0 -7.5,0M120.9,347.8a3.75,3.75 0 1,0 7.5,0a3.75,3.75 0 1,0 -7.5,0M127.7,356.6a3.75,3.75 0 1,0 7.5,0a3.75,3.75 0 1,0 -7.5,0M150.0,341.5a3.75,3.75 0 1,0 7.5,0a3.75,3.75 0 1,0 -7.5,0M116.5,355.4a3.75,3.75 0 1,0 7.5,0a3.75,3.75 0 1,0 -7.5,0M131.5,340.1a3.75,3.75 0 1,0 7.5,0a3.75,3.75 0 1,0 -7.5,0M148.1,328.5a3.75,3.75 0 1,0 7.5,0a3.75,3.75 0 1,0 -7.5,0M151.8,337.5a3.75,3.75 0 1,0 7.5,0a3.75,3.75 0 1,0 -7.5,0M139.8,345.8a3.75,3.75 0 1,0 7.5,0a3.75,3.75 0 1,0 -7.5,0M119.9,357.0a3.75,3.75 0 1,0 7.5,0a3.75,3.75 0 1,0 -7.5,0" fill="#ff0000"/>
<path d="M482.9,56.6a3.75,3.75 0 1,0 7.5,0a3.75,3.75 0 1,0 -7.5,0M212.2,209.9a3.75,3.75 0 1,0 7.5,0a3.75,3.75 0 1,0 -7.5,0M215.8,218.6a3.75,3.75 0 1,0 7.5,0a3.75,3.75 0 1,0 -7.5,0M170.9,233.2a3.75,3.75 0 1,0 7.5,0a3.75,3.75 0 1,0 -7.5,0M136.6,247.2a3.75,3.75 0 1,0 7.5,0a3.75,3.75 0 1,0 -7.5,0M232.4,249.2a3.75,3.75 0 1,0 7.5,0a3.75,3.75 0 1,0 -7.5,0M156.3,256.2a3.75,3.75 0 1,0 7.5,0a3.75,3.75 0 1,0 -7.5,0M251.1,301.7a3.75,3.75 0 1,0 7.5,0a3.75,3.75 0 1,0 -7.5,0M327.9,305.7a3.75,3.75 0 1,0 7.5,0a3.75,3.75 0 1,0 -7.5,0M291.3,323.4a3.75,3.75 0 1,0 7.5,0a3.75,3.75 0 1,0 -7.5,0M300.0,325.7a3.75,3.75 0 1,0 7.5,0a3.75,3.75 0 1,0 -7.5,0M354.5,326.7a3.75,3.75 0 1,0 7.5,0a3.75,3.75 0 1,0 -7.5,0M368.5,326.7a3.75,3.75 0 1,0 7.5,0a3.75,3.75 0 1,0 -7.5,0M249.7,339.7a3.75,3.75 0 1,0 7.5,0a3.75,3.75 0 1,0 -7.5,0M267.7,343.0a3.75,3.75 0 1,0 7.5,0a3.75,3.75 0 1,0 -7.5,0M278.0,356.6a3.75,3.75 0 1,0 7.5,0a3.75,3.75 0 1,0 -7.5,0M272.7,363.3a3.75,3.75 0 1,0 7.5,0a3.75,3.75 0 1,0 -7.5,0M287.0,369.3a3.75,3.75 0 1,0 7.5,0a3.75,3.75 0 1,0 -7.5,0M278.4,378.2a3.75,3.75 0 1,0 7.5,0a3.75,3.75 0 1,0 -7.5,0M313.6,372.3a3.75,3.75 0 1,0 7.5,0a3.75,3.75 0 1,0 -7.5,0M345.9,364.3a3.75,3.75 0 1,0 7.5,0a3.75,3.75 0 1,0 -7.5,0M356.2,388.9a3.75,3.75 0 1,0 7.5,0a3.75,3.75 0 1,0 -7.5,0M238.1,368.3a3.75,3.75 0 1,0 7.5,0a3.75,3.75 0 1,0 -7.5,0M297.3,394.9a3.75,3.75 0 1,0 7.5,0a3.75,3.75 0 1,0 -7.5,0M301.3,394.9a3.75,3.75 0 1,0 7.5,0a3.75,3.75 0 1,0 -7.5,0M323.3,395.9a3.75,3.75 0 1,0 7.5,0a3.75,3.75 0 1,0 -7.5,0M436.7,428.1a3.75,3.75 0 1,0 7.5,0a3.75,3.75 0 1,0 -7.5,0M170.8,261.3a3.75,3.75 0 1,0 7.5,0a3.75,3.75 0 1,0 -7.5,0M164.7,270.1a3.75,3.75 0 1,0 7.5,0a3.75,3.75 0 1,0 -7.5,0M176.1,278.8a3.75,3.75 0 1,0 7.5,0a3.75,3.75 0 1,0 -7.5,0M203.2,279.3a3.75,3.75 0 1,0 7.5,0a3.75,3.75 0 1,0 -7.5,0M142.8,283.2a3.75,3.75 0 1,0 7.5,0a3.75,3.75 0 1,0 -7.5,0M149.8,284.5a3.75,3.75 0 1,0 7.5,0a3.75,3.75 0 1,0 -7.5,0M173.4,289.8a3.75,3.75 0 1,0 7.5,0a3.75,3.75 0 1,0 -7.5,0M187.5,289.8a3.75,3.75 0 1,0 7.5,0a3.75,3.75 0 1,0 -7.5,0M203.2,289.3a3.75,3.75 0 1,0 7.5,0a3.75,3.75 0 1,0 -7.5,0M196.7,297.7a3.75,3.75 0 1,0 7.5,0a3.75,3.75 0 1,0 -7.5,0M193.6,303.8a3.75,3.75 0 1,0 7.5,0a3.75,3.75 0 1,0 -7.5,0M145.4,300.3a3.75,3.75 0 1,0 7.5,0a3.75,3.75 0 1,0 -7.5,0M153.3,300.3a3.75,3.75 0 1,0 7.5,0a3.75,3.75 0 1,0 -7.5,0M164.7,305.5a3.75,3.75 0 1,0 7.5,0a3.75,3.75 0 1,0 -7.5,0M147.2,308.2a3.75,3.75 0 1,0 7.5,0a3.75,3.75 0 1,0 -7.5,0M182.6,311.7a3.75,3.75 0 1,0 7.5,0a3.75,3.75 0 1,0 -7.5,0M190.5,313.4a3.75,3.75 0 1,0 7.5,0a3.75,3.75 0 1,0 -7.5,0M162.1,317.4a3.75,3.75 0 1,0 7.5,0a3.75,3.75 0 1,0 -7.5,0M179.6,319.5a3.75,3.75 0 1,0 7.5,0a3.75,3.75 0 1,0 -7.5,0M187.9,318.7a3.75,3.75 0 1,0 7.5,0a3.75,3.75 0 1,0 -7.5,0M155.9,324.4a3.75,3.75 0 1,0 7.5,0a3.75,3.75 0 1,0 -7.5,0M162.1,329.2a3.75,3.75 0 1,0 7.5,0a3.75,3.75 0 1,0 -7.5,0M212.0,330.1a3.75,3.75 0 1,0 7.5,0a3.75,3.75 0 1,0 -7.5,0M218.1,336.2a3.75,3.75 0 1,0 7.5,0a3.75,3.75 0 1,0 -7.5,0M233.9,330.9a3.75,3.75 0 1,0 7.5,0a3.75,3.75 0 1,0 -7.5,0M193.6,337.9a3.75,3.75 0 1,0 7.5,0a3.75,3.75 0 1,0 -7.5,0M199.3,341.4a3.75,3.75 0 1,0 7.5,0a3.75,3.75 0 1,0 -7.5,0M198.8,349.3a3.75,3.75 0 1,0 7.5,0a3.75,3.75 0 1,0 -7.5,0M212.9,348.4a3.75,3.75 0 1,0 7.5,0a3.75,3.75 0 1,0 -7.5,0M219.0,351.1a3.75,3.75 0 1,0 7.5,0a3.75,3.75 0 1,0 -7.5,0M225.1,351.1a3.75,3.75 0 1,0 7.5,0a3.75,3.75 0 1,0 -7.5,0M204.1,360.7a3.75,3.75 0 1,0 7.5,0a3.75,3.75 0 1,0 -7.5,0M193.6,361.6a3.75,3.75 0 1,0 7.5,0a3.75,3.75 0 1,0 -7.5,0M197.1,367.7a3.75,3.75 0 1,0 7.5,0a3.75,3.75 0 1,0 -7.5,0M183.1,367.7a3.75,3.75 0 1,0 7.5,0a3.75,3.75 0 1,0 -7.5,0M180.0,374.3a3.75,3.75 0 1,0 7.5,0a3.75,3.75 0 1,0 -7.5,0M178.7,381.7a3.75,3.75 0 1,0 7.5,0a3.75,3.75 0 1,0 -7.5,0M167.3,358.1a3.75,3.75 0 1,0 7.5,0a3.75,3.75 0 1,0 -7.5,0M158.6,366.4a3.75,3.75 0 1,0 7.5,0a3.75,3.75 0 1,0 -7.5,0M163.8,362.5a3.75,3.75 0 1,0 7.5,0a3.75,3.75 0 1,0 -7.5,0M125.3,374.3a3.75,3.75 0 1,0 7.5,0a3.75,3.75 0 1,0 -7.5,0M143.7,361.6a3.75,3.75 0 1,0 7.5,0a3.75,3.75 0 1,0 -7.5,0M177.8,357.2a3.75,3.75 0 1,0 7.5,0a3.75,3.75 0 1,0 -7.5,0M235.6,368.6a3.75,3.75 0 1,0 7.5,0a3.75,3.75 0 1,0 -7.5,0M132.3,300.3a3.75,3.75 0 1,0 7.5,0a3.75,3.75 0 1,0 -7.5,0M137.5,308.2a3.75,3.75 0 1,0 7.5,0a3.75,3.75 0 1,0 -7.5,0M139.3,316.0a3.75,3.75 0 1,0 7.5,0a3.75,3.75 0 1,0 -7.5,0M134.0,314.3a3.75,3.75 0 1,0 7.5,0a3.75,3.75 0 1,0 -7.5,0M169.1,321.3a3.75,3.75 0 1,0 7.5,0a3.75,3.75 0 1,0 -7.5,0M172.6,326.5a3.75,3.75 0 1,0 7.5,0a3.75,3.75 0 1,0 -7.5,0M177.0,331.8a3.75,3.75 0 1,0 7.5,0a3.75,3.75 0 1,0 -7.5,0M169.9,334.4a3.75,3.75 0 1,0 7.5,0a3.75,3.75 0 1,0 -7.5,0" fill="#0000ff"/>
<path d="M112.7,127.1a3.75,3.75 0 1,0 7.5,0a3.75,3.75 0 1,0 -7.5,0M143.0,111.8a3.75,3.75 0 1,0 7.5,0a3.75,3.75 0 1,0 -7.5,0M171.2,105.8a3.75,3.75 0 1,0 7.5,0a3.75,3.75 0 1,0 -7.5,0M132.6,168.0a3.75,3.75 0 1,0 7.5,0a3.75,3.75 0 1,0 -7.5,0M147.6,165.3a3.75,3.75 0 1,0 7.5,0a3.75,3.75 0 1,0 -7.5,0M130.0,176.3a3.75,3.75 0 1,0 7.5,0a3.75,3.75 0 1,0 -7.5,0M141.6,185.3a3.75,3.75 0 1,0 7.5,0a3.75,3.75 0 1,0 -7.5,0M138.3,199.9a3.75,3.75 0 1,0 7.5,0a3.75,3.75 0 1,0 -7.5,0M202.8,207.6a3.75,3.75 0 1,0 7.5,0a3.75,3.75 0 1,0 -7.5,0M179.6,215.6a3.75,3.75 0 1,0 7.5,0a3.75,3.75 0 1,0 -7.5,0M111.7,220.6a3.75,3.75 0 1,0 7.5,0a3.75,3.75 0 1,0 -7.5,0M146.6,231.2a3.75,3.75 0 1,0 7.5,0a3.75,3.75 0 1,0 -7.5,0M144.6,246.2a3.75,3.75 0 1,0 7.5,0a3.75,3.75 0 1,0 -7.5,0M110.7,247.2a3.75,3.75 0 1,0 7.5,0a3.75,3.75 0 1,0 -7.5,0M112.4,257.8a3.75,3.75 0 1,0 7.5,0a3.75,3.75 0 1,0 -7.5,0M287.3,353.6a3.75,3.75 0 1,0 7.5,0a3.75,3.75 0 1,0 -7.5,0M109.5,266.1a3.75,3.75 0 1,0 7.5,0a3.75,3.75 0 1,0 -7.5,0M107.8,271.4a3.75,3.75 0 1,0 7.5,0a3.75,3.75 0 1,0 -7.5,0M117.4,271.4a3.75,3.75 0 1,0 7.5,0a3.75,3.75 0 1,0 -7.5,0M122.7,269.6a3.75,3.75 0 1,0 7.5,0a3.75,3.75 0 1,0 -7.5,0M127.9,273.1a3.75,3.75 0 1,0 7.5,0a3.75,3.75 0 1,0 -7.5,0M127.0,275.8a3.75,3.75 0 1,0 7.5,0a3.75,3.75 0 1,0 -7.5,0M134.0,276.6a3.75,3.75 0 1,0 7.5,0a3.75,3.75 0 1,0 -7.5,0M137.5,272.3a3.75,3.75 0 1,0 7.5,0a3.75,3.75 0 1,0 -7.5,0M100.8,282.8a3.75,3.75 0 1,0 7.5,0a3.75,3.75 0 1,0 -7.5,0M115.7,281.9a3.75,3.75 0 1,0 7.5,0a3.75,3.75 0 1,0 -7.5,0M124.4,284.5a3.75,3.75 0 1,0 7.5,0a3.75,3.75 0 1,0 -7.5,0M105.1,288.9a3.75,3.75 0 1,0 7.5,0a3.75,3.75 0 1,0 -7.5,0M117.4,290.6a3.75,3.75 0 1,0 7.5,0a3.75,3.75 0 1,0 -7.5,0M116.5,293.3a3.75,3.75 0 1,0 7.5,0a3.75,3.75 0 1,0 -7.5,0M125.3,289.8a3.75,3.75 0 1,0 7.5,0a3.75,3.75 0 1,0 -7.5,0M137.5,293.3a3.75,3.75 0 1,0 7.5,0a3.75,3.75 0 1,0 -7.5,0M140.2,295.9a3.75,3.75 0 1,0 7.5,0a3.75,3.75 0 1,0 -7.5,0M161.2,285.4a3.75,3.75 0 1,0 7.5,0a3.75,3.75 0 1,0 -7.5,0M103.4,299.4a3.75,3.75 0 1,0 7.5,0a3.75,3.75 0 1,0 -7.5,0M127.9,299.4a3.75,3.75 0 1,0 7.5,0a3.75,3.75 0 1,0 -7.5,0M91.1,309.9a3.75,3.75 0 1,0 7.5,0a3.75,3.75 0 1,0 -7.5,0M155.1,309.9a3.75,3.75 0 1,0 7.5,0a3.75,3.75 0 1,0 -7.5,0M167.3,314.7a3.75,3.75 0 1,0 7.5,0a3.75,3.75 0 1,0 -7.5,0M144.6,324.8a3.75,3.75 0 1,0 7.5,0a3.75,3.75 0 1,0 -7.5,0M179.6,323.0a3.75,3.75 0 1,0 7.5,0a3.75,3.75 0 1,0 -7.5,0M183.1,326.5a3.75,3.75 0 1,0 7.5,0a3.75,3.75 0 1,0 -7.5,0M191.0,323.9a3.75,3.75 0 1,0 7.5,0a3.75,3.75 0 1,0 -7.5,0M218.1,332.7a3.75,3.75 0 1,0 7.5,0a3.75,3.75 0 1,0 -7.5,0M233.9,347.6a3.75,3.75 0 1,0 7.5,0a3.75,3.75 0 1,0 -7.5,0M226.0,364.6a3.75,3.75 0 1,0 7.5,0a3.75,3.75 0 1,0 -7.5,0M152.4,365.5a3.75,3.75 0 1,0 7.5,0a3.75,3.75 0 1,0 -7.5,0M148.5,386.5a3.75,3.75 0 1,0 7.5,0a3.75,3.75 0 1,0 -7.5,0M155.1,352.8a3.75,3.75 0 1,0 7.5,0a3.75,3.75 0 1,0 -7.5,0M171.7,353.7a3.75,3.75 0 1,0 7.5,0a3.75,3.75 0 1,0 -7.5,0M124.4,354.6a3.75,3.75 0 1,0 7.5,0a3.75,3.75 0 1,0 -7.5,0M137.5,354.1a3.75,3.75 0 1,0 7.5,0a3.75,3.75 0 1,0 -7.5,0M129.7,347.1a3.75,3.75 0 1,0 7.5,0a3.75,3.75 0 1,0 -7.5,0M122.7,334.4a3.75,3.75 0 1,0 7.5,0a3.75,3.75 0 1,0 -7.5,0M106.0,272.3a3.75,3.75 0 1,0 7.5,0a3.75,3.75 0 1,0 -7.5,0M113.0,273.1a3.75,3.75 0 1,0 7.5,0a3.75,3.75 0 1,0 -7.5,0M132.3,274.9a3.75,3.75 0 1,0 7.5,0a3.75,3.75 0 1,0 -7.5,0M102.5,286.3a3.75,3.75 0 1,0 7.5,0a3.75,3.75 0 1,0 -7.5,0M106.9,291.5a3.75,3.75 0 1,0 7.5,0a3.75,3.75 0 1,0 -7.5,0M121.8,288.9a3.75,3.75 0 1,0 7.5,0a3.75,3.75 0 1,0 -7.5,0M119.2,286.3a3.75,3.75 0 1,0 7.5,0a3.75,3.75 0 1,0 -7.5,0" fill="#ff0000"/>
</g>
<rect x="76.0" y="37.9" width="430.3" height="408.7" fill="none" stroke="#7a7a7a" stroke-width="1.5"/>
<line x1="71.2" y1="326.5" x2="76.0" y2="326.5" stroke="#7a7a7a" stroke-width="1.4"/>
<text transform="translate(59.55 331.73) scale(0.1440 0.1520)" font-size="100" fill="#4d4d4d">0</text>
<line x1="71.2" y1="176.9" x2="76.0" y2="176.9" stroke="#7a7a7a" stroke-width="1.4"/>
<text transform="translate(59.58 182.05) scale(0.1440 0.1520)" font-size="100" fill="#4d4d4d">5</text>
<line x1="144.7" y1="446.6" x2="144.7" y2="450.8" stroke="#7a7a7a" stroke-width="1.4"/>
<text transform="translate(140.69 464.90) scale(0.1440 0.1520)" font-size="100" fill="#4d4d4d">0</text>
<line x1="267.8" y1="446.6" x2="267.8" y2="450.8" stroke="#7a7a7a" stroke-width="1.4"/>
<text transform="translate(263.80 464.90) scale(0.1440 0.1520)" font-size="100" fill="#4d4d4d">5</text>
<line x1="390.9" y1="446.6" x2="390.9" y2="450.8" stroke="#7a7a7a" stroke-width="1.4"/>
<text transform="translate(382.64 464.90) scale(0.1440 0.1520)" font-size="100" fill="#4d4d4d">10</text>
<text transform="translate(273.17 485.20) scale(0.1710 0.1790)" font-size="100">PC1</text>
<text transform="translate(51.43 260.00) rotate(-90) scale(0.1800 0.1900)" font-size="100">PC2</text>
<text transform="translate(532.54 216.70) scale(0.1770 0.1810)" font-size="100">Risk</text>
<circle cx="547.0" cy="241.0" r="3.9" fill="#ff0000"/>
<circle cx="547.0" cy="269.0" r="3.9" fill="#0000ff"/>
<text transform="translate(568.97 246.50) scale(0.1470 0.1420)" font-size="100">high</text>
<text transform="translate(569.01 273.50) scale(0.1470 0.1420)" font-size="100">low</text>
<text transform="translate(651.12 33.90) scale(0.4480 0.4760)" font-size="100" font-weight="bold" font-family="'Liberation Serif', 'Times New Roman', serif">B</text>
<g id="B-pts">
<path d="M937.4,70.7a3.75,3.75 0 1,0 7.5,0a3.75,3.75 0 1,0 -7.5,0M932.9,81.3a3.75,3.75 0 1,0 7.5,0a3.75,3.75 0 1,0 -7.5,0M940.6,82.9a3.75,3.75 0 1,0 7.5,0a3.75,3.75 0 1,0 -7.5,0M931.7,100.2a3.75,3.75 0 1,0 7.5,0a3.75,3.75 0 1,0 -7.5,0M931.0,104.0a3.75,3.75 0 1,0 7.5,0a3.75,3.75 0 1,0 -7.5,0M935.5,111.1a3.75,3.75 0 1,0 7.5,0a3.75,3.75 0 1,0 -7.5,0M932.9,107.2a3.75,3.75 0 1,0 7.5,0a3.75,3.75 0 1,0 -7.5,0M904.7,118.1a3.75,3.75 0 1,0 7.5,0a3.75,3.75 0 1,0 -7.5,0M902.2,122.0a3.75,3.75 0 1,0 7.5,0a3.75,3.75 0 1,0 -7.5,0M925.2,116.2a3.75,3.75 0 1,0 7.5,0a3.75,3.75 0 1,0 -7.5,0M921.4,123.9a3.75,3.75 0 1,0 7.5,0a3.75,3.75 0 1,0 -7.5,0M928.5,125.8a3.75,3.75 0 1,0 7.5,0a3.75,3.75 0 1,0 -7.5,0M916.3,131.6a3.75,3.75 0 1,0 7.5,0a3.75,3.75 0 1,0 -7.5,0M923.3,141.5a3.75,3.75 0 1,0 7.5,0a3.75,3.75 0 1,0 -7.5,0M938.7,140.6a3.75,3.75 0 1,0 7.5,0a3.75,3.75 0 1,0 -7.5,0M901.1,150.2a3.75,3.75 0 1,0 7.5,0a3.75,3.75 0 1,0 -7.5,0M931.7,157.2a3.75,3.75 0 1,0 7.5,0a3.75,3.75 0 1,0 -7.5,0M934.2,163.6a3.75,3.75 0 1,0 7.5,0a3.75,3.75 0 1,0 -7.5,0M931.7,184.8a3.75,3.75 0 1,0 7.5,0a3.75,3.75 0 1,0 -7.5,0M866.9,108.3a3.75,3.75 0 1,0 7.5,0a3.75,3.75 0 1,0 -7.5,0M876.5,107.2a3.75,3.75 0 1,0 7.5,0a3.75,3.75 0 1,0 -7.5,0M874.0,108.5a3.75,3.75 0 1,0 7.5,0a3.75,3.75 0 1,0 -7.5,0M863.1,119.7a3.75,3.75 0 1,0 7.5,0a3.75,3.75 0 1,0 -7.5,0M847.7,121.3a3.75,3.75 0 1,0 7.5,0a3.75,3.75 0 1,0 -7.5,0M845.1,131.6a3.75,3.75 0 1,0 7.5,0a3.75,3.75 0 1,0 -7.5,0M853.5,136.7a3.75,3.75 0 1,0 7.5,0a3.75,3.75 0 1,0 -7.5,0M852.2,139.3a3.75,3.75 0 1,0 7.5,0a3.75,3.75 0 1,0 -7.5,0M862.4,146.3a3.75,3.75 0 1,0 7.5,0a3.75,3.75 0 1,0 -7.5,0M861.1,150.8a3.75,3.75 0 1,0 7.5,0a3.75,3.75 0 1,0 -7.5,0M863.1,157.9a3.75,3.75 0 1,0 7.5,0a3.75,3.75 0 1,0 -7.5,0M854.1,155.3a3.75,3.75 0 1,0 7.5,0a3.75,3.75 0 1,0 -7.5,0M818.8,119.4a3.75,3.75 0 1,0 7.5,0a3.75,3.75 0 1,0 -7.5,0M824.0,118.1a3.75,3.75 0 1,0 7.5,0a3.75,3.75 0 1,0 -7.5,0M825.2,122.6a3.75,3.75 0 1,0 7.5,0a3.75,3.75 0 1,0 -7.5,0M829.1,127.7a3.75,3.75 0 1,0 7.5,0a3.75,3.75 0 1,0 -7.5,0M829.7,133.9a3.75,3.75 0 1,0 7.5,0a3.75,3.75 0 1,0 -7.5,0M745.8,161.1a3.75,3.75 0 1,0 7.5,0a3.75,3.75 0 1,0 -7.5,0M749.6,161.1a3.75,3.75 0 1,0 7.5,0a3.75,3.75 0 1,0 -7.5,0M752.2,162.4a3.75,3.75 0 1,0 7.5,0a3.75,3.75 0 1,0 -7.5,0M757.9,165.9a3.75,3.75 0 1,0 7.5,0a3.75,3.75 0 1,0 -7.5,0M743.2,161.1a3.75,3.75 0 1,0 7.5,0a3.75,3.75 0 1,0 -7.5,0M777.8,170.7a3.75,3.75 0 1,0 7.5,0a3.75,3.75 0 1,0 -7.5,0M784.9,164.9a3.75,3.75 0 1,0 7.5,0a3.75,3.75 0 1,0 -7.5,0M785.5,172.0a3.75,3.75 0 1,0 7.5,0a3.75,3.75 0 1,0 -7.5,0M781.7,168.8a3.75,3.75 0 1,0 7.5,0a3.75,3.75 0 1,0 -7.5,0M787.4,181.6a3.75,3.75 0 1,0 7.5,0a3.75,3.75 0 1,0 -7.5,0M784.9,189.3a3.75,3.75 0 1,0 7.5,0a3.75,3.75 0 1,0 -7.5,0M783.6,194.4a3.75,3.75 0 1,0 7.5,0a3.75,3.75 0 1,0 -7.5,0M782.3,200.2a3.75,3.75 0 1,0 7.5,0a3.75,3.75 0 1,0 -7.5,0M782.9,206.6a3.75,3.75 0 1,0 7.5,0a3.75,3.75 0 1,0 -7.5,0M775.9,211.1a3.75,3.75 0 1,0 7.5,0a3.75,3.75 0 1,0 -7.5,0M772.7,214.9a3.75,3.75 0 1,0 7.5,0a3.75,3.75 0 1,0 -7.5,0M775.2,218.8a3.75,3.75 0 1,0 7.5,0a3.75,3.75 0 1,0 -7.5,0M781.7,217.5a3.75,3.75 0 1,0 7.5,0a3.75,3.75 0 1,0 -7.5,0M784.9,216.2a3.75,3.75 0 1,0 7.5,0a3.75,3.75 0 1,0 -7.5,0M777.6,227.7a3.75,3.75 0 1,0 7.5,0a3.75,3.75 0 1,0 -7.5,0M841.3,166.2a3.75,3.75 0 1,0 7.5,0a3.75,3.75 0 1,0 -7.5,0M836.8,171.3a3.75,3.75 0 1,0 7.5,0a3.75,3.75 0 1,0 -7.5,0M838.1,180.3a3.75,3.75 0 1,0 7.5,0a3.75,3.75 0 1,0 -7.5,0M821.4,180.3a3.75,3.75 0 1,0 7.5,0a3.75,3.75 0 1,0 -7.5,0M827.8,180.3a3.75,3.75 0 1,0 7.5,0a3.75,3.75 0 1,0 -7.5,0M843.2,187.4a3.75,3.75 0 1,0 7.5,0a3.75,3.75 0 1,0 -7.5,0M849.0,197.0a3.75,3.75 0 1,0 7.5,0a3.75,3.75 0 1,0 -7.5,0M866.3,188.0a3.75,3.75 0 1,0 7.5,0a3.75,3.75 0 1,0 -7.5,0M862.4,192.5a3.75,3.75 0 1,0 7.5,0a3.75,3.75 0 1,0 -7.5,0M808.6,193.8a3.75,3.75 0 1,0 7.5,0a3.75,3.75 0 1,0 -7.5,0M813.1,195.1a3.75,3.75 0 1,0 7.5,0a3.75,3.75 0 1,0 -7.5,0M881.7,182.9a3.75,3.75 0 1,0 7.5,0a3.75,3.75 0 1,0 -7.5,0M885.5,182.9a3.75,3.75 0 1,0 7.5,0a3.75,3.75 0 1,0 -7.5,0M892.9,186.1a3.75,3.75 0 1,0 7.5,0a3.75,3.75 0 1,0 -7.5,0M870.5,203.4a3.75,3.75 0 1,0 7.5,0a3.75,3.75 0 1,0 -7.5,0M853.5,209.2a3.75,3.75 0 1,0 7.5,0a3.75,3.75 0 1,0 -7.5,0M852.8,213.0a3.75,3.75 0 1,0 7.5,0a3.75,3.75 0 1,0 -7.5,0M832.9,214.3a3.75,3.75 0 1,0 7.5,0a3.75,3.75 0 1,0 -7.5,0M836.8,219.4a3.75,3.75 0 1,0 7.5,0a3.75,3.75 0 1,0 -7.5,0M840.6,223.9a3.75,3.75 0 1,0 7.5,0a3.75,3.75 0 1,0 -7.5,0M847.0,221.3a3.75,3.75 0 1,0 7.5,0a3.75,3.75 0 1,0 -7.5,0M830.4,226.5a3.75,3.75 0 1,0 7.5,0a3.75,3.75 0 1,0 -7.5,0M827.8,230.3a3.75,3.75 0 1,0 7.5,0a3.75,3.75 0 1,0 -7.5,0M852.2,229.0a3.75,3.75 0 1,0 7.5,0a3.75,3.75 0 1,0 -7.5,0M884.9,222.6a3.75,3.75 0 1,0 7.5,0a3.75,3.75 0 1,0 -7.5,0M894.5,215.6a3.75,3.75 0 1,0 7.5,0a3.75,3.75 0 1,0 -7.5,0M901.5,217.5a3.75,3.75 0 1,0 7.5,0a3.75,3.75 0 1,0 -7.5,0M907.9,210.4a3.75,3.75 0 1,0 7.5,0a3.75,3.75 0 1,0 -7.5,0M912.4,207.2a3.75,3.75 0 1,0 7.5,0a3.75,3.75 0 1,0 -7.5,0M916.3,201.5a3.75,3.75 0 1,0 7.5,0a3.75,3.75 0 1,0 -7.5,0M909.9,217.5a3.75,3.75 0 1,0 7.5,0a3.75,3.75 0 1,0 -7.5,0M908.6,225.8a3.75,3.75 0 1,0 7.5,0a3.75,3.75 0 1,0 -7.5,0M925.2,225.2a3.75,3.75 0 1,0 7.5,0a3.75,3.75 0 1,0 -7.5,0M932.9,229.0a3.75,3.75 0 1,0 7.5,0a3.75,3.75 0 1,0 -7.5,0M938.1,231.6a3.75,3.75 0 1,0 7.5,0a3.75,3.75 0 1,0 -7.5,0M890.6,229.0a3.75,3.75 0 1,0 7.5,0a3.75,3.75 0 1,0 -7.5,0M890.6,236.7a3.75,3.75 0 1,0 7.5,0a3.75,3.75 0 1,0 -7.5,0M882.9,234.2a3.75,3.75 0 1,0 7.5,0a3.75,3.75 0 1,0 -7.5,0M876.5,236.1a3.75,3.75 0 1,0 7.5,0a3.75,3.75 0 1,0 -7.5,0M880.4,240.6a3.75,3.75 0 1,0 7.5,0a3.75,3.75 0 1,0 -7.5,0M938.1,240.6a3.75,3.75 0 1,0 7.5,0a3.75,3.75 0 1,0 -7.5,0M840.6,240.6a3.75,3.75 0 1,0 7.5,0a3.75,3.75 0 1,0 -7.5,0M834.2,242.5a3.75,3.75 0 1,0 7.5,0a3.75,3.75 0 1,0 -7.5,0M955.0,60.4a3.75,3.75 0 1,0 7.5,0a3.75,3.75 0 1,0 -7.5,0M945.4,68.8a3.75,3.75 0 1,0 7.5,0a3.75,3.75 0 1,0 -7.5,0M949.2,79.0a3.75,3.75 0 1,0 7.5,0a3.75,3.75 0 1,0 -7.5,0M953.7,79.7a3.75,3.75 0 1,0 7.5,0a3.75,3.75 0 1,0 -7.5,0M969.7,67.5a3.75,3.75 0 1,0 7.5,0a3.75,3.75 0 1,0 -7.5,0M967.2,74.5a3.75,3.75 0 1,0 7.5,0a3.75,3.75 0 1,0 -7.5,0M975.5,74.5a3.75,3.75 0 1,0 7.5,0a3.75,3.75 0 1,0 -7.5,0M976.8,84.2a3.75,3.75 0 1,0 7.5,0a3.75,3.75 0 1,0 -7.5,0M953.7,92.5a3.75,3.75 0 1,0 7.5,0a3.75,3.75 0 1,0 -7.5,0M949.2,98.3a3.75,3.75 0 1,0 7.5,0a3.75,3.75 0 1,0 -7.5,0M967.2,95.7a3.75,3.75 0 1,0 7.5,0a3.75,3.75 0 1,0 -7.5,0M969.7,99.6a3.75,3.75 0 1,0 7.5,0a3.75,3.75 0 1,0 -7.5,0M945.4,111.1a3.75,3.75 0 1,0 7.5,0a3.75,3.75 0 1,0 -7.5,0M950.5,106.6a3.75,3.75 0 1,0 7.5,0a3.75,3.75 0 1,0 -7.5,0M955.6,109.2a3.75,3.75 0 1,0 7.5,0a3.75,3.75 0 1,0 -7.5,0M1014.6,57.9a3.75,3.75 0 1,0 7.5,0a3.75,3.75 0 1,0 -7.5,0M1021.0,60.4a3.75,3.75 0 1,0 7.5,0a3.75,3.75 0 1,0 -7.5,0M1028.7,68.1a3.75,3.75 0 1,0 7.5,0a3.75,3.75 0 1,0 -7.5,0M1015.2,68.8a3.75,3.75 0 1,0 7.5,0a3.75,3.75 0 1,0 -7.5,0M1009.5,72.0a3.75,3.75 0 1,0 7.5,0a3.75,3.75 0 1,0 -7.5,0M1012.0,75.2a3.75,3.75 0 1,0 7.5,0a3.75,3.75 0 1,0 -7.5,0M1005.0,87.4a3.75,3.75 0 1,0 7.5,0a3.75,3.75 0 1,0 -7.5,0M1011.4,84.8a3.75,3.75 0 1,0 7.5,0a3.75,3.75 0 1,0 -7.5,0M1015.9,84.2a3.75,3.75 0 1,0 7.5,0a3.75,3.75 0 1,0 -7.5,0M1018.5,87.4a3.75,3.75 0 1,0 7.5,0a3.75,3.75 0 1,0 -7.5,0M1002.4,99.6a3.75,3.75 0 1,0 7.5,0a3.75,3.75 0 1,0 -7.5,0M1002.4,102.8a3.75,3.75 0 1,0 7.5,0a3.75,3.75 0 1,0 -7.5,0M1032.6,91.9a3.75,3.75 0 1,0 7.5,0a3.75,3.75 0 1,0 -7.5,0M1033.8,97.6a3.75,3.75 0 1,0 7.5,0a3.75,3.75 0 1,0 -7.5,0M995.4,111.7a3.75,3.75 0 1,0 7.5,0a3.75,3.75 0 1,0 -7.5,0M987.0,116.9a3.75,3.75 0 1,0 7.5,0a3.75,3.75 0 1,0 -7.5,0M981.3,124.6a3.75,3.75 0 1,0 7.5,0a3.75,3.75 0 1,0 -7.5,0M997.9,123.9a3.75,3.75 0 1,0 7.5,0a3.75,3.75 0 1,0 -7.5,0M1071.0,79.0a3.75,3.75 0 1,0 7.5,0a3.75,3.75 0 1,0 -7.5,0M1086.4,86.7a3.75,3.75 0 1,0 7.5,0a3.75,3.75 0 1,0 -7.5,0M1086.4,94.4a3.75,3.75 0 1,0 7.5,0a3.75,3.75 0 1,0 -7.5,0M1062.1,109.8a3.75,3.75 0 1,0 7.5,0a3.75,3.75 0 1,0 -7.5,0M945.4,134.2a3.75,3.75 0 1,0 7.5,0a3.75,3.75 0 1,0 -7.5,0M943.4,137.4a3.75,3.75 0 1,0 7.5,0a3.75,3.75 0 1,0 -7.5,0M976.1,137.4a3.75,3.75 0 1,0 7.5,0a3.75,3.75 0 1,0 -7.5,0M980.6,133.5a3.75,3.75 0 1,0 7.5,0a3.75,3.75 0 1,0 -7.5,0M983.8,140.6a3.75,3.75 0 1,0 7.5,0a3.75,3.75 0 1,0 -7.5,0M964.0,141.2a3.75,3.75 0 1,0 7.5,0a3.75,3.75 0 1,0 -7.5,0M968.4,150.8a3.75,3.75 0 1,0 7.5,0a3.75,3.75 0 1,0 -7.5,0M973.6,150.8a3.75,3.75 0 1,0 7.5,0a3.75,3.75 0 1,0 -7.5,0M1024.2,138.0a3.75,3.75 0 1,0 7.5,0a3.75,3.75 0 1,0 -7.5,0M1084.5,136.7a3.75,3.75 0 1,0 7.5,0a3.75,3.75 0 1,0 -7.5,0M1009.5,184.2a3.75,3.75 0 1,0 7.5,0a3.75,3.75 0 1,0 -7.5,0M1006.3,191.9a3.75,3.75 0 1,0 7.5,0a3.75,3.75 0 1,0 -7.5,0M959.5,193.2a3.75,3.75 0 1,0 7.5,0a3.75,3.75 0 1,0 -7.5,0M962.0,197.0a3.75,3.75 0 1,0 7.5,0a3.75,3.75 0 1,0 -7.5,0M971.0,203.4a3.75,3.75 0 1,0 7.5,0a3.75,3.75 0 1,0 -7.5,0M944.1,206.6a3.75,3.75 0 1,0 7.5,0a3.75,3.75 0 1,0 -7.5,0M949.8,207.3a3.75,3.75 0 1,0 7.5,0a3.75,3.75 0 1,0 -7.5,0M955.0,211.1a3.75,3.75 0 1,0 7.5,0a3.75,3.75 0 1,0 -7.5,0M958.2,207.3a3.75,3.75 0 1,0 7.5,0a3.75,3.75 0 1,0 -7.5,0M966.5,211.1a3.75,3.75 0 1,0 7.5,0a3.75,3.75 0 1,0 -7.5,0M989.6,222.0a3.75,3.75 0 1,0 7.5,0a3.75,3.75 0 1,0 -7.5,0M1031.3,213.7a3.75,3.75 0 1,0 7.5,0a3.75,3.75 0 1,0 -7.5,0M1056.9,229.1a3.75,3.75 0 1,0 7.5,0a3.75,3.75 0 1,0 -7.5,0M1073.6,194.5a3.75,3.75 0 1,0 7.5,0a3.75,3.75 0 1,0 -7.5,0M1079.4,200.2a3.75,3.75 0 1,0 7.5,0a3.75,3.75 0 1,0 -7.5,0M1099.9,195.7a3.75,3.75 0 1,0 7.5,0a3.75,3.75 0 1,0 -7.5,0M1120.4,182.9a3.75,3.75 0 1,0 7.5,0a3.75,3.75 0 1,0 -7.5,0M818.9,252.3a3.75,3.75 0 1,0 7.5,0a3.75,3.75 0 1,0 -7.5,0M823.5,249.1a3.75,3.75 0 1,0 7.5,0a3.75,3.75 0 1,0 -7.5,0M869.7,247.1a3.75,3.75 0 1,0 7.5,0a3.75,3.75 0 1,0 -7.5,0M873.6,251.7a3.75,3.75 0 1,0 7.5,0a3.75,3.75 0 1,0 -7.5,0M871.6,256.9a3.75,3.75 0 1,0 7.5,0a3.75,3.75 0 1,0 -7.5,0M889.2,248.4a3.75,3.75 0 1,0 7.5,0a3.75,3.75 0 1,0 -7.5,0M846.9,277.7a3.75,3.75 0 1,0 7.5,0a3.75,3.75 0 1,0 -7.5,0M859.3,275.1a3.75,3.75 0 1,0 7.5,0a3.75,3.75 0 1,0 -7.5,0M865.1,271.2a3.75,3.75 0 1,0 7.5,0a3.75,3.75 0 1,0 -7.5,0M872.9,279.0a3.75,3.75 0 1,0 7.5,0a3.75,3.75 0 1,0 -7.5,0M878.1,282.2a3.75,3.75 0 1,0 7.5,0a3.75,3.75 0 1,0 -7.5,0M882.0,277.0a3.75,3.75 0 1,0 7.5,0a3.75,3.75 0 1,0 -7.5,0M886.0,269.2a3.75,3.75 0 1,0 7.5,0a3.75,3.75 0 1,0 -7.5,0M892.5,265.3a3.75,3.75 0 1,0 7.5,0a3.75,3.75 0 1,0 -7.5,0M894.4,267.9a3.75,3.75 0 1,0 7.5,0a3.75,3.75 0 1,0 -7.5,0M893.1,284.2a3.75,3.75 0 1,0 7.5,0a3.75,3.75 0 1,0 -7.5,0M885.3,290.7a3.75,3.75 0 1,0 7.5,0a3.75,3.75 0 1,0 -7.5,0M875.5,299.2a3.75,3.75 0 1,0 7.5,0a3.75,3.75 0 1,0 -7.5,0M882.7,301.1a3.75,3.75 0 1,0 7.5,0a3.75,3.75 0 1,0 -7.5,0M896.4,297.2a3.75,3.75 0 1,0 7.5,0a3.75,3.75 0 1,0 -7.5,0M926.3,288.1a3.75,3.75 0 1,0 7.5,0a3.75,3.75 0 1,0 -7.5,0M932.1,286.1a3.75,3.75 0 1,0 7.5,0a3.75,3.75 0 1,0 -7.5,0M938.7,284.8a3.75,3.75 0 1,0 7.5,0a3.75,3.75 0 1,0 -7.5,0M939.3,248.4a3.75,3.75 0 1,0 7.5,0a3.75,3.75 0 1,0 -7.5,0M939.3,258.2a3.75,3.75 0 1,0 7.5,0a3.75,3.75 0 1,0 -7.5,0M939.3,268.6a3.75,3.75 0 1,0 7.5,0a3.75,3.75 0 1,0 -7.5,0M965.7,260.8a3.75,3.75 0 1,0 7.5,0a3.75,3.75 0 1,0 -7.5,0M964.4,269.9a3.75,3.75 0 1,0 7.5,0a3.75,3.75 0 1,0 -7.5,0M964.4,272.5a3.75,3.75 0 1,0 7.5,0a3.75,3.75 0 1,0 -7.5,0M1023.6,264.7a3.75,3.75 0 1,0 7.5,0a3.75,3.75 0 1,0 -7.5,0M1041.2,279.0a3.75,3.75 0 1,0 7.5,0a3.75,3.75 0 1,0 -7.5,0M1017.8,290.0a3.75,3.75 0 1,0 7.5,0a3.75,3.75 0 1,0 -7.5,0M1013.2,293.9a3.75,3.75 0 1,0 7.5,0a3.75,3.75 0 1,0 -7.5,0M1006.7,297.8a3.75,3.75 0 1,0 7.5,0a3.75,3.75 0 1,0 -7.5,0M1009.3,296.5a3.75,3.75 0 1,0 7.5,0a3.75,3.75 0 1,0 -7.5,0M966.4,303.7a3.75,3.75 0 1,0 7.5,0a3.75,3.75 0 1,0 -7.5,0M963.8,310.8a3.75,3.75 0 1,0 7.5,0a3.75,3.75 0 1,0 -7.5,0M957.3,321.3a3.75,3.75 0 1,0 7.5,0a3.75,3.75 0 1,0 -7.5,0M1012.6,318.7a3.75,3.75 0 1,0 7.5,0a3.75,3.75 0 1,0 -7.5,0M952.1,337.5a3.75,3.75 0 1,0 7.5,0a3.75,3.75 0 1,0 -7.5,0M954.7,344.0a3.75,3.75 0 1,0 7.5,0a3.75,3.75 0 1,0 -7.5,0M956.0,356.4a3.75,3.75 0 1,0 7.5,0a3.75,3.75 0 1,0 -7.5,0M966.4,353.8a3.75,3.75 0 1,0 7.5,0a3.75,3.75 0 1,0 -7.5,0M953.4,362.9a3.75,3.75 0 1,0 7.5,0a3.75,3.75 0 1,0 -7.5,0M957.9,370.7a3.75,3.75 0 1,0 7.5,0a3.75,3.75 0 1,0 -7.5,0M950.8,374.6a3.75,3.75 0 1,0 7.5,0a3.75,3.75 0 1,0 -7.5,0M959.2,384.3a3.75,3.75 0 1,0 7.5,0a3.75,3.75 0 1,0 -7.5,0M969.0,386.9a3.75,3.75 0 1,0 7.5,0a3.75,3.75 0 1,0 -7.5,0M957.9,390.8a3.75,3.75 0 1,0 7.5,0a3.75,3.75 0 1,0 -7.5,0" fill="#0000ff"/>
<path d="M825.6,104.3a3.75,3.75 0 1,0 7.5,0a3.75,3.75 0 1,0 -7.5,0M823.3,113.6a3.75,3.75 0 1,0 7.5,0a3.75,3.75 0 1,0 -7.5,0M828.8,123.6a3.75,3.75 0 1,0 7.5,0a3.75,3.75 0 1,0 -7.5,0M849.0,126.5a3.75,3.75 0 1,0 7.5,0a3.75,3.75 0 1,0 -7.5,0M853.8,117.1a3.75,3.75 0 1,0 7.5,0a3.75,3.75 0 1,0 -7.5,0M857.0,112.1a3.75,3.75 0 1,0 7.5,0a3.75,3.75 0 1,0 -7.5,0M865.4,113.6a3.75,3.75 0 1,0 7.5,0a3.75,3.75 0 1,0 -7.5,0M849.0,144.2a3.75,3.75 0 1,0 7.5,0a3.75,3.75 0 1,0 -7.5,0M842.9,152.7a3.75,3.75 0 1,0 7.5,0a3.75,3.75 0 1,0 -7.5,0M836.8,164.7a3.75,3.75 0 1,0 7.5,0a3.75,3.75 0 1,0 -7.5,0M835.5,177.7a3.75,3.75 0 1,0 7.5,0a3.75,3.75 0 1,0 -7.5,0M847.4,190.9a3.75,3.75 0 1,0 7.5,0a3.75,3.75 0 1,0 -7.5,0M860.1,191.8a3.75,3.75 0 1,0 7.5,0a3.75,3.75 0 1,0 -7.5,0M821.4,198.9a3.75,3.75 0 1,0 7.5,0a3.75,3.75 0 1,0 -7.5,0M784.9,207.2a3.75,3.75 0 1,0 7.5,0a3.75,3.75 0 1,0 -7.5,0M778.8,224.9a3.75,3.75 0 1,0 7.5,0a3.75,3.75 0 1,0 -7.5,0M900.6,128.4a3.75,3.75 0 1,0 7.5,0a3.75,3.75 0 1,0 -7.5,0M899.6,136.2a3.75,3.75 0 1,0 7.5,0a3.75,3.75 0 1,0 -7.5,0M914.7,133.5a3.75,3.75 0 1,0 7.5,0a3.75,3.75 0 1,0 -7.5,0M920.1,155.7a3.75,3.75 0 1,0 7.5,0a3.75,3.75 0 1,0 -7.5,0M928.5,161.7a3.75,3.75 0 1,0 7.5,0a3.75,3.75 0 1,0 -7.5,0M851.5,121.3a3.75,3.75 0 1,0 7.5,0a3.75,3.75 0 1,0 -7.5,0M956.9,56.0a3.75,3.75 0 1,0 7.5,0a3.75,3.75 0 1,0 -7.5,0M948.6,68.1a3.75,3.75 0 1,0 7.5,0a3.75,3.75 0 1,0 -7.5,0M962.7,81.6a3.75,3.75 0 1,0 7.5,0a3.75,3.75 0 1,0 -7.5,0M976.1,82.2a3.75,3.75 0 1,0 7.5,0a3.75,3.75 0 1,0 -7.5,0M1008.2,65.6a3.75,3.75 0 1,0 7.5,0a3.75,3.75 0 1,0 -7.5,0M1008.2,102.1a3.75,3.75 0 1,0 7.5,0a3.75,3.75 0 1,0 -7.5,0M1017.2,107.9a3.75,3.75 0 1,0 7.5,0a3.75,3.75 0 1,0 -7.5,0M986.4,108.5a3.75,3.75 0 1,0 7.5,0a3.75,3.75 0 1,0 -7.5,0M992.2,111.1a3.75,3.75 0 1,0 7.5,0a3.75,3.75 0 1,0 -7.5,0M980.6,117.5a3.75,3.75 0 1,0 7.5,0a3.75,3.75 0 1,0 -7.5,0M969.7,123.9a3.75,3.75 0 1,0 7.5,0a3.75,3.75 0 1,0 -7.5,0M975.5,125.2a3.75,3.75 0 1,0 7.5,0a3.75,3.75 0 1,0 -7.5,0M962.0,139.3a3.75,3.75 0 1,0 7.5,0a3.75,3.75 0 1,0 -7.5,0M967.2,147.0a3.75,3.75 0 1,0 7.5,0a3.75,3.75 0 1,0 -7.5,0M976.1,147.6a3.75,3.75 0 1,0 7.5,0a3.75,3.75 0 1,0 -7.5,0M976.8,156.6a3.75,3.75 0 1,0 7.5,0a3.75,3.75 0 1,0 -7.5,0M951.8,153.4a3.75,3.75 0 1,0 7.5,0a3.75,3.75 0 1,0 -7.5,0M957.5,156.0a3.75,3.75 0 1,0 7.5,0a3.75,3.75 0 1,0 -7.5,0M1037.7,83.5a3.75,3.75 0 1,0 7.5,0a3.75,3.75 0 1,0 -7.5,0M1042.8,86.1a3.75,3.75 0 1,0 7.5,0a3.75,3.75 0 1,0 -7.5,0M1057.6,89.3a3.75,3.75 0 1,0 7.5,0a3.75,3.75 0 1,0 -7.5,0M1065.9,84.2a3.75,3.75 0 1,0 7.5,0a3.75,3.75 0 1,0 -7.5,0M1071.7,83.5a3.75,3.75 0 1,0 7.5,0a3.75,3.75 0 1,0 -7.5,0M1074.2,90.6a3.75,3.75 0 1,0 7.5,0a3.75,3.75 0 1,0 -7.5,0M1081.9,91.9a3.75,3.75 0 1,0 7.5,0a3.75,3.75 0 1,0 -7.5,0M1057.6,101.5a3.75,3.75 0 1,0 7.5,0a3.75,3.75 0 1,0 -7.5,0M1063.3,103.4a3.75,3.75 0 1,0 7.5,0a3.75,3.75 0 1,0 -7.5,0M1069.7,102.8a3.75,3.75 0 1,0 7.5,0a3.75,3.75 0 1,0 -7.5,0M1076.2,100.8a3.75,3.75 0 1,0 7.5,0a3.75,3.75 0 1,0 -7.5,0M1076.2,107.2a3.75,3.75 0 1,0 7.5,0a3.75,3.75 0 1,0 -7.5,0M1074.9,112.4a3.75,3.75 0 1,0 7.5,0a3.75,3.75 0 1,0 -7.5,0M1072.3,115.6a3.75,3.75 0 1,0 7.5,0a3.75,3.75 0 1,0 -7.5,0M1029.4,109.8a3.75,3.75 0 1,0 7.5,0a3.75,3.75 0 1,0 -7.5,0M1033.8,108.5a3.75,3.75 0 1,0 7.5,0a3.75,3.75 0 1,0 -7.5,0M1042.8,107.2a3.75,3.75 0 1,0 7.5,0a3.75,3.75 0 1,0 -7.5,0M1044.1,112.4a3.75,3.75 0 1,0 7.5,0a3.75,3.75 0 1,0 -7.5,0M1045.4,116.2a3.75,3.75 0 1,0 7.5,0a3.75,3.75 0 1,0 -7.5,0M1042.8,122.0a3.75,3.75 0 1,0 7.5,0a3.75,3.75 0 1,0 -7.5,0M1067.8,122.6a3.75,3.75 0 1,0 7.5,0a3.75,3.75 0 1,0 -7.5,0M1079.4,122.0a3.75,3.75 0 1,0 7.5,0a3.75,3.75 0 1,0 -7.5,0M1083.2,125.2a3.75,3.75 0 1,0 7.5,0a3.75,3.75 0 1,0 -7.5,0M1087.1,127.8a3.75,3.75 0 1,0 7.5,0a3.75,3.75 0 1,0 -7.5,0M1081.3,129.0a3.75,3.75 0 1,0 7.5,0a3.75,3.75 0 1,0 -7.5,0M1068.5,131.6a3.75,3.75 0 1,0 7.5,0a3.75,3.75 0 1,0 -7.5,0M1060.1,134.8a3.75,3.75 0 1,0 7.5,0a3.75,3.75 0 1,0 -7.5,0M1064.6,134.2a3.75,3.75 0 1,0 7.5,0a3.75,3.75 0 1,0 -7.5,0M1065.3,143.2a3.75,3.75 0 1,0 7.5,0a3.75,3.75 0 1,0 -7.5,0M1067.2,149.6a3.75,3.75 0 1,0 7.5,0a3.75,3.75 0 1,0 -7.5,0M1066.5,155.3a3.75,3.75 0 1,0 7.5,0a3.75,3.75 0 1,0 -7.5,0M1075.5,147.0a3.75,3.75 0 1,0 7.5,0a3.75,3.75 0 1,0 -7.5,0M1096.7,134.2a3.75,3.75 0 1,0 7.5,0a3.75,3.75 0 1,0 -7.5,0M1098.0,138.0a3.75,3.75 0 1,0 7.5,0a3.75,3.75 0 1,0 -7.5,0M1070.4,170.1a3.75,3.75 0 1,0 7.5,0a3.75,3.75 0 1,0 -7.5,0M1070.4,173.9a3.75,3.75 0 1,0 7.5,0a3.75,3.75 0 1,0 -7.5,0M1039.6,175.9a3.75,3.75 0 1,0 7.5,0a3.75,3.75 0 1,0 -7.5,0M1037.7,181.6a3.75,3.75 0 1,0 7.5,0a3.75,3.75 0 1,0 -7.5,0M1041.5,184.2a3.75,3.75 0 1,0 7.5,0a3.75,3.75 0 1,0 -7.5,0M1035.1,184.2a3.75,3.75 0 1,0 7.5,0a3.75,3.75 0 1,0 -7.5,0M1119.1,186.8a3.75,3.75 0 1,0 7.5,0a3.75,3.75 0 1,0 -7.5,0M1119.1,194.5a3.75,3.75 0 1,0 7.5,0a3.75,3.75 0 1,0 -7.5,0M1089.0,193.2a3.75,3.75 0 1,0 7.5,0a3.75,3.75 0 1,0 -7.5,0M1078.1,203.4a3.75,3.75 0 1,0 7.5,0a3.75,3.75 0 1,0 -7.5,0M1095.4,202.1a3.75,3.75 0 1,0 7.5,0a3.75,3.75 0 1,0 -7.5,0M1098.0,209.8a3.75,3.75 0 1,0 7.5,0a3.75,3.75 0 1,0 -7.5,0M1098.0,213.0a3.75,3.75 0 1,0 7.5,0a3.75,3.75 0 1,0 -7.5,0M978.7,190.6a3.75,3.75 0 1,0 7.5,0a3.75,3.75 0 1,0 -7.5,0M974.9,195.7a3.75,3.75 0 1,0 7.5,0a3.75,3.75 0 1,0 -7.5,0M971.0,197.0a3.75,3.75 0 1,0 7.5,0a3.75,3.75 0 1,0 -7.5,0M990.2,198.3a3.75,3.75 0 1,0 7.5,0a3.75,3.75 0 1,0 -7.5,0M999.2,193.8a3.75,3.75 0 1,0 7.5,0a3.75,3.75 0 1,0 -7.5,0M986.4,206.0a3.75,3.75 0 1,0 7.5,0a3.75,3.75 0 1,0 -7.5,0M987.7,211.8a3.75,3.75 0 1,0 7.5,0a3.75,3.75 0 1,0 -7.5,0M997.9,208.6a3.75,3.75 0 1,0 7.5,0a3.75,3.75 0 1,0 -7.5,0M999.2,212.4a3.75,3.75 0 1,0 7.5,0a3.75,3.75 0 1,0 -7.5,0M998.6,216.9a3.75,3.75 0 1,0 7.5,0a3.75,3.75 0 1,0 -7.5,0M996.7,223.3a3.75,3.75 0 1,0 7.5,0a3.75,3.75 0 1,0 -7.5,0M991.5,223.3a3.75,3.75 0 1,0 7.5,0a3.75,3.75 0 1,0 -7.5,0M987.7,229.1a3.75,3.75 0 1,0 7.5,0a3.75,3.75 0 1,0 -7.5,0M976.1,212.4a3.75,3.75 0 1,0 7.5,0a3.75,3.75 0 1,0 -7.5,0M981.3,213.7a3.75,3.75 0 1,0 7.5,0a3.75,3.75 0 1,0 -7.5,0M962.0,213.0a3.75,3.75 0 1,0 7.5,0a3.75,3.75 0 1,0 -7.5,0M959.5,220.1a3.75,3.75 0 1,0 7.5,0a3.75,3.75 0 1,0 -7.5,0M1027.4,222.7a3.75,3.75 0 1,0 7.5,0a3.75,3.75 0 1,0 -7.5,0M1032.6,221.4a3.75,3.75 0 1,0 7.5,0a3.75,3.75 0 1,0 -7.5,0M1040.3,224.6a3.75,3.75 0 1,0 7.5,0a3.75,3.75 0 1,0 -7.5,0M1040.9,231.6a3.75,3.75 0 1,0 7.5,0a3.75,3.75 0 1,0 -7.5,0M1032.6,236.1a3.75,3.75 0 1,0 7.5,0a3.75,3.75 0 1,0 -7.5,0M1035.1,240.6a3.75,3.75 0 1,0 7.5,0a3.75,3.75 0 1,0 -7.5,0M1049.2,240.6a3.75,3.75 0 1,0 7.5,0a3.75,3.75 0 1,0 -7.5,0M1059.5,236.8a3.75,3.75 0 1,0 7.5,0a3.75,3.75 0 1,0 -7.5,0M1080.6,221.4a3.75,3.75 0 1,0 7.5,0a3.75,3.75 0 1,0 -7.5,0M1083.9,229.1a3.75,3.75 0 1,0 7.5,0a3.75,3.75 0 1,0 -7.5,0M1089.0,231.6a3.75,3.75 0 1,0 7.5,0a3.75,3.75 0 1,0 -7.5,0M1095.4,230.4a3.75,3.75 0 1,0 7.5,0a3.75,3.75 0 1,0 -7.5,0M1100.5,227.8a3.75,3.75 0 1,0 7.5,0a3.75,3.75 0 1,0 -7.5,0M1109.5,222.7a3.75,3.75 0 1,0 7.5,0a3.75,3.75 0 1,0 -7.5,0M1117.8,225.2a3.75,3.75 0 1,0 7.5,0a3.75,3.75 0 1,0 -7.5,0M1113.3,230.4a3.75,3.75 0 1,0 7.5,0a3.75,3.75 0 1,0 -7.5,0M1114.6,235.5a3.75,3.75 0 1,0 7.5,0a3.75,3.75 0 1,0 -7.5,0M1110.8,240.6a3.75,3.75 0 1,0 7.5,0a3.75,3.75 0 1,0 -7.5,0M1076.2,236.1a3.75,3.75 0 1,0 7.5,0a3.75,3.75 0 1,0 -7.5,0M1082.6,241.9a3.75,3.75 0 1,0 7.5,0a3.75,3.75 0 1,0 -7.5,0M1080.0,236.8a3.75,3.75 0 1,0 7.5,0a3.75,3.75 0 1,0 -7.5,0M1059.5,240.6a3.75,3.75 0 1,0 7.5,0a3.75,3.75 0 1,0 -7.5,0M1109.5,243.2a3.75,3.75 0 1,0 7.5,0a3.75,3.75 0 1,0 -7.5,0M850.2,295.9a3.75,3.75 0 1,0 7.5,0a3.75,3.75 0 1,0 -7.5,0M895.1,281.6a3.75,3.75 0 1,0 7.5,0a3.75,3.75 0 1,0 -7.5,0M899.6,278.3a3.75,3.75 0 1,0 7.5,0a3.75,3.75 0 1,0 -7.5,0M896.4,291.4a3.75,3.75 0 1,0 7.5,0a3.75,3.75 0 1,0 -7.5,0M882.0,297.9a3.75,3.75 0 1,0 7.5,0a3.75,3.75 0 1,0 -7.5,0M940.6,272.5a3.75,3.75 0 1,0 7.5,0a3.75,3.75 0 1,0 -7.5,0M940.0,282.2a3.75,3.75 0 1,0 7.5,0a3.75,3.75 0 1,0 -7.5,0M978.7,286.1a3.75,3.75 0 1,0 7.5,0a3.75,3.75 0 1,0 -7.5,0M983.3,285.5a3.75,3.75 0 1,0 7.5,0a3.75,3.75 0 1,0 -7.5,0M981.3,288.7a3.75,3.75 0 1,0 7.5,0a3.75,3.75 0 1,0 -7.5,0M969.0,297.8a3.75,3.75 0 1,0 7.5,0a3.75,3.75 0 1,0 -7.5,0M974.8,299.1a3.75,3.75 0 1,0 7.5,0a3.75,3.75 0 1,0 -7.5,0M972.2,304.3a3.75,3.75 0 1,0 7.5,0a3.75,3.75 0 1,0 -7.5,0M977.4,308.9a3.75,3.75 0 1,0 7.5,0a3.75,3.75 0 1,0 -7.5,0M968.3,308.2a3.75,3.75 0 1,0 7.5,0a3.75,3.75 0 1,0 -7.5,0M963.8,313.4a3.75,3.75 0 1,0 7.5,0a3.75,3.75 0 1,0 -7.5,0M963.1,323.9a3.75,3.75 0 1,0 7.5,0a3.75,3.75 0 1,0 -7.5,0M969.6,327.8a3.75,3.75 0 1,0 7.5,0a3.75,3.75 0 1,0 -7.5,0M970.9,334.3a3.75,3.75 0 1,0 7.5,0a3.75,3.75 0 1,0 -7.5,0M970.9,338.2a3.75,3.75 0 1,0 7.5,0a3.75,3.75 0 1,0 -7.5,0M972.9,344.0a3.75,3.75 0 1,0 7.5,0a3.75,3.75 0 1,0 -7.5,0M963.1,351.2a3.75,3.75 0 1,0 7.5,0a3.75,3.75 0 1,0 -7.5,0M970.9,351.8a3.75,3.75 0 1,0 7.5,0a3.75,3.75 0 1,0 -7.5,0M946.2,363.5a3.75,3.75 0 1,0 7.5,0a3.75,3.75 0 1,0 -7.5,0M944.3,367.4a3.75,3.75 0 1,0 7.5,0a3.75,3.75 0 1,0 -7.5,0M962.5,363.5a3.75,3.75 0 1,0 7.5,0a3.75,3.75 0 1,0 -7.5,0M965.7,362.2a3.75,3.75 0 1,0 7.5,0a3.75,3.75 0 1,0 -7.5,0M977.4,360.3a3.75,3.75 0 1,0 7.5,0a3.75,3.75 0 1,0 -7.5,0M983.3,362.2a3.75,3.75 0 1,0 7.5,0a3.75,3.75 0 1,0 -7.5,0M991.1,355.1a3.75,3.75 0 1,0 7.5,0a3.75,3.75 0 1,0 -7.5,0M989.8,361.6a3.75,3.75 0 1,0 7.5,0a3.75,3.75 0 1,0 -7.5,0M990.4,368.7a3.75,3.75 0 1,0 7.5,0a3.75,3.75 0 1,0 -7.5,0M985.9,374.6a3.75,3.75 0 1,0 7.5,0a3.75,3.75 0 1,0 -7.5,0M988.5,383.0a3.75,3.75 0 1,0 7.5,0a3.75,3.75 0 1,0 -7.5,0M989.1,386.9a3.75,3.75 0 1,0 7.5,0a3.75,3.75 0 1,0 -7.5,0M970.9,381.7a3.75,3.75 0 1,0 7.5,0a3.75,3.75 0 1,0 -7.5,0M962.5,385.0a3.75,3.75 0 1,0 7.5,0a3.75,3.75 0 1,0 -7.5,0M957.9,405.8a3.75,3.75 0 1,0 7.5,0a3.75,3.75 0 1,0 -7.5,0M959.2,411.7a3.75,3.75 0 1,0 7.5,0a3.75,3.75 0 1,0 -7.5,0M957.9,416.2a3.75,3.75 0 1,0 7.5,0a3.75,3.75 0 1,0 -7.5,0M956.6,420.1a3.75,3.75 0 1,0 7.5,0a3.75,3.75 0 1,0 -7.5,0M955.3,424.0a3.75,3.75 0 1,0 7.5,0a3.75,3.75 0 1,0 -7.5,0M953.4,427.9a3.75,3.75 0 1,0 7.5,0a3.75,3.75 0 1,0 -7.5,0M1033.4,251.0a3.75,3.75 0 1,0 7.5,0a3.75,3.75 0 1,0 -7.5,0M1032.7,254.3a3.75,3.75 0 1,0 7.5,0a3.75,3.75 0 1,0 -7.5,0M1021.0,270.5a3.75,3.75 0 1,0 7.5,0a3.75,3.75 0 1,0 -7.5,0M1074.3,256.2a3.75,3.75 0 1,0 7.5,0a3.75,3.75 0 1,0 -7.5,0M1076.9,263.4a3.75,3.75 0 1,0 7.5,0a3.75,3.75 0 1,0 -7.5,0M1058.7,260.8a3.75,3.75 0 1,0 7.5,0a3.75,3.75 0 1,0 -7.5,0M1050.9,263.4a3.75,3.75 0 1,0 7.5,0a3.75,3.75 0 1,0 -7.5,0M1048.3,269.2a3.75,3.75 0 1,0 7.5,0a3.75,3.75 0 1,0 -7.5,0M1047.0,274.4a3.75,3.75 0 1,0 7.5,0a3.75,3.75 0 1,0 -7.5,0M1065.2,268.6a3.75,3.75 0 1,0 7.5,0a3.75,3.75 0 1,0 -7.5,0M1062.0,272.5a3.75,3.75 0 1,0 7.5,0a3.75,3.75 0 1,0 -7.5,0M1060.0,275.1a3.75,3.75 0 1,0 7.5,0a3.75,3.75 0 1,0 -7.5,0M1066.5,278.3a3.75,3.75 0 1,0 7.5,0a3.75,3.75 0 1,0 -7.5,0M1069.1,282.2a3.75,3.75 0 1,0 7.5,0a3.75,3.75 0 1,0 -7.5,0M1065.2,284.8a3.75,3.75 0 1,0 7.5,0a3.75,3.75 0 1,0 -7.5,0M1061.3,288.1a3.75,3.75 0 1,0 7.5,0a3.75,3.75 0 1,0 -7.5,0M1056.1,290.7a3.75,3.75 0 1,0 7.5,0a3.75,3.75 0 1,0 -7.5,0M1065.2,290.7a3.75,3.75 0 1,0 7.5,0a3.75,3.75 0 1,0 -7.5,0M1030.1,285.5a3.75,3.75 0 1,0 7.5,0a3.75,3.75 0 1,0 -7.5,0M1028.8,295.9a3.75,3.75 0 1,0 7.5,0a3.75,3.75 0 1,0 -7.5,0M1029.5,299.1a3.75,3.75 0 1,0 7.5,0a3.75,3.75 0 1,0 -7.5,0M1030.1,304.3a3.75,3.75 0 1,0 7.5,0a3.75,3.75 0 1,0 -7.5,0M1028.8,308.9a3.75,3.75 0 1,0 7.5,0a3.75,3.75 0 1,0 -7.5,0M1053.5,302.4a3.75,3.75 0 1,0 7.5,0a3.75,3.75 0 1,0 -7.5,0M1041.2,315.4a3.75,3.75 0 1,0 7.5,0a3.75,3.75 0 1,0 -7.5,0M1032.7,327.8a3.75,3.75 0 1,0 7.5,0a3.75,3.75 0 1,0 -7.5,0M1028.8,333.6a3.75,3.75 0 1,0 7.5,0a3.75,3.75 0 1,0 -7.5,0M1011.9,334.3a3.75,3.75 0 1,0 7.5,0a3.75,3.75 0 1,0 -7.5,0M1021.0,336.9a3.75,3.75 0 1,0 7.5,0a3.75,3.75 0 1,0 -7.5,0M1019.7,345.3a3.75,3.75 0 1,0 7.5,0a3.75,3.75 0 1,0 -7.5,0M1026.2,346.6a3.75,3.75 0 1,0 7.5,0a3.75,3.75 0 1,0 -7.5,0" fill="#ff0000"/>
</g>
<rect x="729.2" y="37.9" width="413.5" height="409.0" fill="none" stroke="#7a7a7a" stroke-width="1.5"/>
<line x1="724.4" y1="339.3" x2="729.2" y2="339.3" stroke="#7a7a7a" stroke-width="1.4"/>
<text transform="translate(696.33 344.53) scale(0.1440 0.1520)" font-size="100" fill="#4d4d4d">−20</text>
<line x1="724.4" y1="204.6" x2="729.2" y2="204.6" stroke="#7a7a7a" stroke-width="1.4"/>
<text transform="translate(712.75 209.82) scale(0.1440 0.1520)" font-size="100" fill="#4d4d4d">0</text>
<line x1="724.4" y1="69.9" x2="729.2" y2="69.9" stroke="#7a7a7a" stroke-width="1.4"/>
<text transform="translate(704.76 75.12) scale(0.1440 0.1520)" font-size="100" fill="#4d4d4d">20</text>
<line x1="729.2" y1="446.9" x2="729.2" y2="451.1" stroke="#7a7a7a" stroke-width="1.4"/>
<text transform="translate(716.91 465.40) scale(0.1440 0.1520)" font-size="100" fill="#4d4d4d">−40</text>
<line x1="845.3" y1="446.9" x2="845.3" y2="451.1" stroke="#7a7a7a" stroke-width="1.4"/>
<text transform="translate(833.01 465.40) scale(0.1440 0.1520)" font-size="100" fill="#4d4d4d">−20</text>
<line x1="961.4" y1="446.9" x2="961.4" y2="451.1" stroke="#7a7a7a" stroke-width="1.4"/>
<text transform="translate(957.39 465.40) scale(0.1440 0.1520)" font-size="100" fill="#4d4d4d">0</text>
<line x1="1077.5" y1="446.9" x2="1077.5" y2="451.1" stroke="#7a7a7a" stroke-width="1.4"/>
<text transform="translate(1069.42 465.40) scale(0.1440 0.1520)" font-size="100" fill="#4d4d4d">20</text>
<text transform="translate(910.78 485.40) scale(0.1730 0.1810)" font-size="100">tSNE1</text>
<text transform="translate(689.69 267.12) rotate(-90) scale(0.1760 0.1860)" font-size="100">tSNE2</text>
<text transform="translate(1168.34 216.70) scale(0.1770 0.1810)" font-size="100">Risk</text>
<circle cx="1183.6" cy="241.0" r="3.9" fill="#ff0000"/>
<circle cx="1183.6" cy="269.0" r="3.9" fill="#0000ff"/>
<text transform="translate(1205.37 246.50) scale(0.1470 0.1420)" font-size="100">high</text>
<text transform="translate(1205.41 273.50) scale(0.1470 0.1420)" font-size="100">low</text>
<text transform="translate(1321.36 33.90) scale(0.4480 0.4760)" font-size="100" font-weight="bold" font-family="'Liberation Serif', 'Times New Roman', serif">C</text>
<g id="C1-pts">
<path d="M1435.1,199.0a3.3,3.3 0 1,0 6.6,0a3.3,3.3 0 1,0 -6.6,0M1436.1,198.5a3.3,3.3 0 1,0 6.6,0a3.3,3.3 0 1,0 -6.6,0M1437.1,198.0a3.3,3.3 0 1,0 6.6,0a3.3,3.3 0 1,0 -6.6,0M1438.1,197.5a3.3,3.3 0 1,0 6.6,0a3.3,3.3 0 1,0 -6.6,0M1439.1,196.9a3.3,3.3 0 1,0 6.6,0a3.3,3.3 0 1,0 -6.6,0M1440.1,196.3a3.3,3.3 0 1,0 6.6,0a3.3,3.3 0 1,0 -6.6,0M1441.1,195.7a3.3,3.3 0 1,0 6.6,0a3.3,3.3 0 1,0 -6.6,0M1442.1,195.1a3.3,3.3 0 1,0 6.6,0a3.3,3.3 0 1,0 -6.6,0M1443.1,194.6a3.3,3.3 0 1,0 6.6,0a3.3,3.3 0 1,0 -6.6,0M1444.1,194.1a3.3,3.3 0 1,0 6.6,0a3.3,3.3 0 1,0 -6.6,0M1445.1,193.7a3.3,3.3 0 1,0 6.6,0a3.3,3.3 0 1,0 -6.6,0M1446.1,193.2a3.3,3.3 0 1,0 6.6,0a3.3,3.3 0 1,0 -6.6,0M1447.1,192.8a3.3,3.3 0 1,0 6.6,0a3.3,3.3 0 1,0 -6.6,0M1448.1,192.3a3.3,3.3 0 1,0 6.6,0a3.3,3.3 0 1,0 -6.6,0M1449.1,191.9a3.3,3.3 0 1,0 6.6,0a3.3,3.3 0 1,0 -6.6,0M1450.1,191.4a3.3,3.3 0 1,0 6.6,0a3.3,3.3 0 1,0 -6.6,0M1451.1,191.0a3.3,3.3 0 1,0 6.6,0a3.3,3.3 0 1,0 -6.6,0M1452.1,190.5a3.3,3.3 0 1,0 6.6,0a3.3,3.3 0 1,0 -6.6,0M1453.1,190.1a3.3,3.3 0 1,0 6.6,0a3.3,3.3 0 1,0 -6.6,0M1454.1,189.7a3.3,3.3 0 1,0 6.6,0a3.3,3.3 0 1,0 -6.6,0M1455.1,189.4a3.3,3.3 0 1,0 6.6,0a3.3,3.3 0 1,0 -6.6,0M1456.1,189.0a3.3,3.3 0 1,0 6.6,0a3.3,3.3 0 1,0 -6.6,0M1457.1,188.6a3.3,3.3 0 1,0 6.6,0a3.3,3.3 0 1,0 -6.6,0M1458.1,188.2a3.3,3.3 0 1,0 6.6,0a3.3,3.3 0 1,0 -6.6,0M1459.1,187.8a3.3,3.3 0 1,0 6.6,0a3.3,3.3 0 1,0 -6.6,0M1460.1,187.4a3.3,3.3 0 1,0 6.6,0a3.3,3.3 0 1,0 -6.6,0M1461.1,187.1a3.3,3.3 0 1,0 6.6,0a3.3,3.3 0 1,0 -6.6,0M1462.1,186.7a3.3,3.3 0 1,0 6.6,0a3.3,3.3 0 1,0 -6.6,0M1463.1,186.3a3.3,3.3 0 1,0 6.6,0a3.3,3.3 0 1,0 -6.6,0M1464.1,185.9a3.3,3.3 0 1,0 6.6,0a3.3,3.3 0 1,0 -6.6,0M1465.1,185.5a3.3,3.3 0 1,0 6.6,0a3.3,3.3 0 1,0 -6.6,0M1466.1,185.2a3.3,3.3 0 1,0 6.6,0a3.3,3.3 0 1,0 -6.6,0M1467.1,185.0a3.3,3.3 0 1,0 6.6,0a3.3,3.3 0 1,0 -6.6,0M1468.1,184.8a3.3,3.3 0 1,0 6.6,0a3.3,3.3 0 1,0 -6.6,0M1469.2,184.6a3.3,3.3 0 1,0 6.6,0a3.3,3.3 0 1,0 -6.6,0M1470.2,184.4a3.3,3.3 0 1,0 6.6,0a3.3,3.3 0 1,0 -6.6,0M1471.2,184.2a3.3,3.3 0 1,0 6.6,0a3.3,3.3 0 1,0 -6.6,0M1472.2,184.0a3.3,3.3 0 1,0 6.6,0a3.3,3.3 0 1,0 -6.6,0M1473.2,183.8a3.3,3.3 0 1,0 6.6,0a3.3,3.3 0 1,0 -6.6,0M1474.2,183.6a3.3,3.3 0 1,0 6.6,0a3.3,3.3 0 1,0 -6.6,0M1475.2,183.4a3.3,3.3 0 1,0 6.6,0a3.3,3.3 0 1,0 -6.6,0M1476.2,183.2a3.3,3.3 0 1,0 6.6,0a3.3,3.3 0 1,0 -6.6,0M1477.2,183.0a3.3,3.3 0 1,0 6.6,0a3.3,3.3 0 1,0 -6.6,0M1478.2,182.8a3.3,3.3 0 1,0 6.6,0a3.3,3.3 0 1,0 -6.6,0M1479.2,182.6a3.3,3.3 0 1,0 6.6,0a3.3,3.3 0 1,0 -6.6,0M1480.2,182.4a3.3,3.3 0 1,0 6.6,0a3.3,3.3 0 1,0 -6.6,0M1481.2,182.2a3.3,3.3 0 1,0 6.6,0a3.3,3.3 0 1,0 -6.6,0M1482.2,182.0a3.3,3.3 0 1,0 6.6,0a3.3,3.3 0 1,0 -6.6,0M1483.2,181.8a3.3,3.3 0 1,0 6.6,0a3.3,3.3 0 1,0 -6.6,0M1484.2,181.7a3.3,3.3 0 1,0 6.6,0a3.3,3.3 0 1,0 -6.6,0M1485.2,181.6a3.3,3.3 0 1,0 6.6,0a3.3,3.3 0 1,0 -6.6,0M1486.2,181.4a3.3,3.3 0 1,0 6.6,0a3.3,3.3 0 1,0 -6.6,0M1487.2,181.3a3.3,3.3 0 1,0 6.6,0a3.3,3.3 0 1,0 -6.6,0M1488.2,181.2a3.3,3.3 0 1,0 6.6,0a3.3,3.3 0 1,0 -6.6,0M1489.2,181.0a3.3,3.3 0 1,0 6.6,0a3.3,3.3 0 1,0 -6.6,0M1490.2,180.9a3.3,3.3 0 1,0 6.6,0a3.3,3.3 0 1,0 -6.6,0M1491.2,180.8a3.3,3.3 0 1,0 6.6,0a3.3,3.3 0 1,0 -6.6,0M1492.2,180.6a3.3,3.3 0 1,0 6.6,0a3.3,3.3 0 1,0 -6.6,0M1493.2,180.5a3.3,3.3 0 1,0 6.6,0a3.3,3.3 0 1,0 -6.6,0M1494.2,180.4a3.3,3.3 0 1,0 6.6,0a3.3,3.3 0 1,0 -6.6,0M1495.2,180.2a3.3,3.3 0 1,0 6.6,0a3.3,3.3 0 1,0 -6.6,0M1496.2,180.1a3.3,3.3 0 1,0 6.6,0a3.3,3.3 0 1,0 -6.6,0M1497.2,180.0a3.3,3.3 0 1,0 6.6,0a3.3,3.3 0 1,0 -6.6,0M1498.2,179.8a3.3,3.3 0 1,0 6.6,0a3.3,3.3 0 1,0 -6.6,0M1499.2,179.7a3.3,3.3 0 1,0 6.6,0a3.3,3.3 0 1,0 -6.6,0M1500.2,179.6a3.3,3.3 0 1,0 6.6,0a3.3,3.3 0 1,0 -6.6,0M1501.2,179.4a3.3,3.3 0 1,0 6.6,0a3.3,3.3 0 1,0 -6.6,0M1502.2,179.3a3.3,3.3 0 1,0 6.6,0a3.3,3.3 0 1,0 -6.6,0M1503.2,179.2a3.3,3.3 0 1,0 6.6,0a3.3,3.3 0 1,0 -6.6,0M1504.2,179.0a3.3,3.3 0 1,0 6.6,0a3.3,3.3 0 1,0 -6.6,0M1505.2,178.9a3.3,3.3 0 1,0 6.6,0a3.3,3.3 0 1,0 -6.6,0M1506.2,178.8a3.3,3.3 0 1,0 6.6,0a3.3,3.3 0 1,0 -6.6,0M1507.2,178.6a3.3,3.3 0 1,0 6.6,0a3.3,3.3 0 1,0 -6.6,0M1508.2,178.5a3.3,3.3 0 1,0 6.6,0a3.3,3.3 0 1,0 -6.6,0M1509.2,178.4a3.3,3.3 0 1,0 6.6,0a3.3,3.3 0 1,0 -6.6,0M1510.2,178.2a3.3,3.3 0 1,0 6.6,0a3.3,3.3 0 1,0 -6.6,0M1511.2,178.1a3.3,3.3 0 1,0 6.6,0a3.3,3.3 0 1,0 -6.6,0M1512.2,178.0a3.3,3.3 0 1,0 6.6,0a3.3,3.3 0 1,0 -6.6,0M1513.2,177.9a3.3,3.3 0 1,0 6.6,0a3.3,3.3 0 1,0 -6.6,0M1514.2,177.8a3.3,3.3 0 1,0 6.6,0a3.3,3.3 0 1,0 -6.6,0M1515.2,177.7a3.3,3.3 0 1,0 6.6,0a3.3,3.3 0 1,0 -6.6,0M1516.2,177.6a3.3,3.3 0 1,0 6.6,0a3.3,3.3 0 1,0 -6.6,0M1517.2,177.5a3.3,3.3 0 1,0 6.6,0a3.3,3.3 0 1,0 -6.6,0M1518.2,177.5a3.3,3.3 0 1,0 6.6,0a3.3,3.3 0 1,0 -6.6,0M1519.2,177.4a3.3,3.3 0 1,0 6.6,0a3.3,3.3 0 1,0 -6.6,0M1520.2,177.3a3.3,3.3 0 1,0 6.6,0a3.3,3.3 0 1,0 -6.6,0M1521.2,177.2a3.3,3.3 0 1,0 6.6,0a3.3,3.3 0 1,0 -6.6,0M1522.2,177.1a3.3,3.3 0 1,0 6.6,0a3.3,3.3 0 1,0 -6.6,0M1523.2,177.0a3.3,3.3 0 1,0 6.6,0a3.3,3.3 0 1,0 -6.6,0M1524.2,176.9a3.3,3.3 0 1,0 6.6,0a3.3,3.3 0 1,0 -6.6,0M1525.2,176.8a3.3,3.3 0 1,0 6.6,0a3.3,3.3 0 1,0 -6.6,0M1526.2,176.7a3.3,3.3 0 1,0 6.6,0a3.3,3.3 0 1,0 -6.6,0M1527.2,176.6a3.3,3.3 0 1,0 6.6,0a3.3,3.3 0 1,0 -6.6,0M1528.2,176.5a3.3,3.3 0 1,0 6.6,0a3.3,3.3 0 1,0 -6.6,0M1529.2,176.4a3.3,3.3 0 1,0 6.6,0a3.3,3.3 0 1,0 -6.6,0M1530.2,176.3a3.3,3.3 0 1,0 6.6,0a3.3,3.3 0 1,0 -6.6,0M1531.2,176.2a3.3,3.3 0 1,0 6.6,0a3.3,3.3 0 1,0 -6.6,0M1532.2,176.1a3.3,3.3 0 1,0 6.6,0a3.3,3.3 0 1,0 -6.6,0M1533.2,176.0a3.3,3.3 0 1,0 6.6,0a3.3,3.3 0 1,0 -6.6,0M1534.2,175.9a3.3,3.3 0 1,0 6.6,0a3.3,3.3 0 1,0 -6.6,0M1535.3,175.8a3.3,3.3 0 1,0 6.6,0a3.3,3.3 0 1,0 -6.6,0M1536.3,175.7a3.3,3.3 0 1,0 6.6,0a3.3,3.3 0 1,0 -6.6,0M1537.3,175.6a3.3,3.3 0 1,0 6.6,0a3.3,3.3 0 1,0 -6.6,0M1538.3,175.5a3.3,3.3 0 1,0 6.6,0a3.3,3.3 0 1,0 -6.6,0M1539.3,175.4a3.3,3.3 0 1,0 6.6,0a3.3,3.3 0 1,0 -6.6,0M1540.3,175.3a3.3,3.3 0 1,0 6.6,0a3.3,3.3 0 1,0 -6.6,0M1541.3,175.2a3.3,3.3 0 1,0 6.6,0a3.3,3.3 0 1,0 -6.6,0M1542.3,175.1a3.3,3.3 0 1,0 6.6,0a3.3,3.3 0 1,0 -6.6,0M1543.3,175.0a3.3,3.3 0 1,0 6.6,0a3.3,3.3 0 1,0 -6.6,0M1544.3,174.9a3.3,3.3 0 1,0 6.6,0a3.3,3.3 0 1,0 -6.6,0M1545.3,174.8a3.3,3.3 0 1,0 6.6,0a3.3,3.3 0 1,0 -6.6,0M1546.3,174.8a3.3,3.3 0 1,0 6.6,0a3.3,3.3 0 1,0 -6.6,0M1547.3,174.7a3.3,3.3 0 1,0 6.6,0a3.3,3.3 0 1,0 -6.6,0M1548.3,174.6a3.3,3.3 0 1,0 6.6,0a3.3,3.3 0 1,0 -6.6,0M1549.3,174.6a3.3,3.3 0 1,0 6.6,0a3.3,3.3 0 1,0 -6.6,0M1550.3,174.5a3.3,3.3 0 1,0 6.6,0a3.3,3.3 0 1,0 -6.6,0M1551.3,174.4a3.3,3.3 0 1,0 6.6,0a3.3,3.3 0 1,0 -6.6,0M1552.3,174.4a3.3,3.3 0 1,0 6.6,0a3.3,3.3 0 1,0 -6.6,0M1553.3,174.3a3.3,3.3 0 1,0 6.6,0a3.3,3.3 0 1,0 -6.6,0M1554.3,174.2a3.3,3.3 0 1,0 6.6,0a3.3,3.3 0 1,0 -6.6,0M1555.3,174.1a3.3,3.3 0 1,0 6.6,0a3.3,3.3 0 1,0 -6.6,0M1556.3,174.1a3.3,3.3 0 1,0 6.6,0a3.3,3.3 0 1,0 -6.6,0M1557.3,174.0a3.3,3.3 0 1,0 6.6,0a3.3,3.3 0 1,0 -6.6,0M1558.3,173.9a3.3,3.3 0 1,0 6.6,0a3.3,3.3 0 1,0 -6.6,0M1559.3,173.9a3.3,3.3 0 1,0 6.6,0a3.3,3.3 0 1,0 -6.6,0M1560.3,173.8a3.3,3.3 0 1,0 6.6,0a3.3,3.3 0 1,0 -6.6,0M1561.3,173.7a3.3,3.3 0 1,0 6.6,0a3.3,3.3 0 1,0 -6.6,0M1562.3,173.6a3.3,3.3 0 1,0 6.6,0a3.3,3.3 0 1,0 -6.6,0M1563.3,173.6a3.3,3.3 0 1,0 6.6,0a3.3,3.3 0 1,0 -6.6,0M1564.3,173.5a3.3,3.3 0 1,0 6.6,0a3.3,3.3 0 1,0 -6.6,0M1565.3,173.4a3.3,3.3 0 1,0 6.6,0a3.3,3.3 0 1,0 -6.6,0M1566.3,173.4a3.3,3.3 0 1,0 6.6,0a3.3,3.3 0 1,0 -6.6,0M1567.3,173.3a3.3,3.3 0 1,0 6.6,0a3.3,3.3 0 1,0 -6.6,0M1568.3,173.2a3.3,3.3 0 1,0 6.6,0a3.3,3.3 0 1,0 -6.6,0M1569.3,173.1a3.3,3.3 0 1,0 6.6,0a3.3,3.3 0 1,0 -6.6,0M1570.3,173.1a3.3,3.3 0 1,0 6.6,0a3.3,3.3 0 1,0 -6.6,0M1571.3,173.0a3.3,3.3 0 1,0 6.6,0a3.3,3.3 0 1,0 -6.6,0M1572.3,172.9a3.3,3.3 0 1,0 6.6,0a3.3,3.3 0 1,0 -6.6,0M1573.3,172.9a3.3,3.3 0 1,0 6.6,0a3.3,3.3 0 1,0 -6.6,0M1574.3,172.8a3.3,3.3 0 1,0 6.6,0a3.3,3.3 0 1,0 -6.6,0M1575.3,172.7a3.3,3.3 0 1,0 6.6,0a3.3,3.3 0 1,0 -6.6,0M1576.3,172.7a3.3,3.3 0 1,0 6.6,0a3.3,3.3 0 1,0 -6.6,0M1577.3,172.6a3.3,3.3 0 1,0 6.6,0a3.3,3.3 0 1,0 -6.6,0M1578.3,172.5a3.3,3.3 0 1,0 6.6,0a3.3,3.3 0 1,0 -6.6,0M1579.3,172.4a3.3,3.3 0 1,0 6.6,0a3.3,3.3 0 1,0 -6.6,0M1580.3,172.4a3.3,3.3 0 1,0 6.6,0a3.3,3.3 0 1,0 -6.6,0M1581.3,172.3a3.3,3.3 0 1,0 6.6,0a3.3,3.3 0 1,0 -6.6,0M1582.3,172.2a3.3,3.3 0 1,0 6.6,0a3.3,3.3 0 1,0 -6.6,0M1583.3,172.1a3.3,3.3 0 1,0 6.6,0a3.3,3.3 0 1,0 -6.6,0M1584.3,172.0a3.3,3.3 0 1,0 6.6,0a3.3,3.3 0 1,0 -6.6,0M1585.3,172.0a3.3,3.3 0 1,0 6.6,0a3.3,3.3 0 1,0 -6.6,0M1586.3,171.9a3.3,3.3 0 1,0 6.6,0a3.3,3.3 0 1,0 -6.6,0M1587.3,171.8a3.3,3.3 0 1,0 6.6,0a3.3,3.3 0 1,0 -6.6,0M1588.3,171.7a3.3,3.3 0 1,0 6.6,0a3.3,3.3 0 1,0 -6.6,0M1589.3,171.6a3.3,3.3 0 1,0 6.6,0a3.3,3.3 0 1,0 -6.6,0M1590.3,171.6a3.3,3.3 0 1,0 6.6,0a3.3,3.3 0 1,0 -6.6,0M1591.3,171.5a3.3,3.3 0 1,0 6.6,0a3.3,3.3 0 1,0 -6.6,0M1592.3,171.4a3.3,3.3 0 1,0 6.6,0a3.3,3.3 0 1,0 -6.6,0M1593.3,171.3a3.3,3.3 0 1,0 6.6,0a3.3,3.3 0 1,0 -6.6,0M1594.3,171.2a3.3,3.3 0 1,0 6.6,0a3.3,3.3 0 1,0 -6.6,0M1595.3,171.2a3.3,3.3 0 1,0 6.6,0a3.3,3.3 0 1,0 -6.6,0M1596.3,171.1a3.3,3.3 0 1,0 6.6,0a3.3,3.3 0 1,0 -6.6,0M1597.3,171.0a3.3,3.3 0 1,0 6.6,0a3.3,3.3 0 1,0 -6.6,0M1598.3,170.9a3.3,3.3 0 1,0 6.6,0a3.3,3.3 0 1,0 -6.6,0M1599.3,170.8a3.3,3.3 0 1,0 6.6,0a3.3,3.3 0 1,0 -6.6,0M1600.3,170.8a3.3,3.3 0 1,0 6.6,0a3.3,3.3 0 1,0 -6.6,0M1601.3,170.7a3.3,3.3 0 1,0 6.6,0a3.3,3.3 0 1,0 -6.6,0M1602.4,170.6a3.3,3.3 0 1,0 6.6,0a3.3,3.3 0 1,0 -6.6,0M1603.4,170.5a3.3,3.3 0 1,0 6.6,0a3.3,3.3 0 1,0 -6.6,0M1604.4,170.4a3.3,3.3 0 1,0 6.6,0a3.3,3.3 0 1,0 -6.6,0M1605.4,170.4a3.3,3.3 0 1,0 6.6,0a3.3,3.3 0 1,0 -6.6,0M1606.4,170.3a3.3,3.3 0 1,0 6.6,0a3.3,3.3 0 1,0 -6.6,0M1607.4,170.2a3.3,3.3 0 1,0 6.6,0a3.3,3.3 0 1,0 -6.6,0M1608.4,170.1a3.3,3.3 0 1,0 6.6,0a3.3,3.3 0 1,0 -6.6,0M1609.4,170.0a3.3,3.3 0 1,0 6.6,0a3.3,3.3 0 1,0 -6.6,0M1610.4,170.0a3.3,3.3 0 1,0 6.6,0a3.3,3.3 0 1,0 -6.6,0M1611.4,169.9a3.3,3.3 0 1,0 6.6,0a3.3,3.3 0 1,0 -6.6,0M1612.4,169.8a3.3,3.3 0 1,0 6.6,0a3.3,3.3 0 1,0 -6.6,0M1613.4,169.7a3.3,3.3 0 1,0 6.6,0a3.3,3.3 0 1,0 -6.6,0M1614.4,169.7a3.3,3.3 0 1,0 6.6,0a3.3,3.3 0 1,0 -6.6,0M1615.4,169.6a3.3,3.3 0 1,0 6.6,0a3.3,3.3 0 1,0 -6.6,0M1616.4,169.6a3.3,3.3 0 1,0 6.6,0a3.3,3.3 0 1,0 -6.6,0M1617.4,169.5a3.3,3.3 0 1,0 6.6,0a3.3,3.3 0 1,0 -6.6,0M1618.4,169.4a3.3,3.3 0 1,0 6.6,0a3.3,3.3 0 1,0 -6.6,0M1619.4,169.4a3.3,3.3 0 1,0 6.6,0a3.3,3.3 0 1,0 -6.6,0M1620.4,169.3a3.3,3.3 0 1,0 6.6,0a3.3,3.3 0 1,0 -6.6,0M1621.4,169.2a3.3,3.3 0 1,0 6.6,0a3.3,3.3 0 1,0 -6.6,0M1622.4,169.2a3.3,3.3 0 1,0 6.6,0a3.3,3.3 0 1,0 -6.6,0M1623.4,169.1a3.3,3.3 0 1,0 6.6,0a3.3,3.3 0 1,0 -6.6,0M1624.4,169.1a3.3,3.3 0 1,0 6.6,0a3.3,3.3 0 1,0 -6.6,0M1625.4,169.0a3.3,3.3 0 1,0 6.6,0a3.3,3.3 0 1,0 -6.6,0M1626.4,168.9a3.3,3.3 0 1,0 6.6,0a3.3,3.3 0 1,0 -6.6,0M1627.4,168.9a3.3,3.3 0 1,0 6.6,0a3.3,3.3 0 1,0 -6.6,0M1628.4,168.8a3.3,3.3 0 1,0 6.6,0a3.3,3.3 0 1,0 -6.6,0M1629.4,168.7a3.3,3.3 0 1,0 6.6,0a3.3,3.3 0 1,0 -6.6,0M1630.4,168.7a3.3,3.3 0 1,0 6.6,0a3.3,3.3 0 1,0 -6.6,0M1631.4,168.6a3.3,3.3 0 1,0 6.6,0a3.3,3.3 0 1,0 -6.6,0M1632.4,168.6a3.3,3.3 0 1,0 6.6,0a3.3,3.3 0 1,0 -6.6,0M1633.4,168.5a3.3,3.3 0 1,0 6.6,0a3.3,3.3 0 1,0 -6.6,0M1634.4,168.4a3.3,3.3 0 1,0 6.6,0a3.3,3.3 0 1,0 -6.6,0M1635.4,168.4a3.3,3.3 0 1,0 6.6,0a3.3,3.3 0 1,0 -6.6,0M1636.4,168.3a3.3,3.3 0 1,0 6.6,0a3.3,3.3 0 1,0 -6.6,0M1637.4,168.3a3.3,3.3 0 1,0 6.6,0a3.3,3.3 0 1,0 -6.6,0M1638.4,168.2a3.3,3.3 0 1,0 6.6,0a3.3,3.3 0 1,0 -6.6,0M1639.4,168.1a3.3,3.3 0 1,0 6.6,0a3.3,3.3 0 1,0 -6.6,0M1640.4,168.1a3.3,3.3 0 1,0 6.6,0a3.3,3.3 0 1,0 -6.6,0M1641.4,168.0a3.3,3.3 0 1,0 6.6,0a3.3,3.3 0 1,0 -6.6,0M1642.4,167.9a3.3,3.3 0 1,0 6.6,0a3.3,3.3 0 1,0 -6.6,0M1643.4,167.9a3.3,3.3 0 1,0 6.6,0a3.3,3.3 0 1,0 -6.6,0M1644.4,167.8a3.3,3.3 0 1,0 6.6,0a3.3,3.3 0 1,0 -6.6,0M1645.4,167.8a3.3,3.3 0 1,0 6.6,0a3.3,3.3 0 1,0 -6.6,0M1646.4,167.7a3.3,3.3 0 1,0 6.6,0a3.3,3.3 0 1,0 -6.6,0M1647.4,167.7a3.3,3.3 0 1,0 6.6,0a3.3,3.3 0 1,0 -6.6,0M1648.4,167.6a3.3,3.3 0 1,0 6.6,0a3.3,3.3 0 1,0 -6.6,0M1649.4,167.6a3.3,3.3 0 1,0 6.6,0a3.3,3.3 0 1,0 -6.6,0M1650.4,167.5a3.3,3.3 0 1,0 6.6,0a3.3,3.3 0 1,0 -6.6,0M1651.4,167.5a3.3,3.3 0 1,0 6.6,0a3.3,3.3 0 1,0 -6.6,0M1652.4,167.5a3.3,3.3 0 1,0 6.6,0a3.3,3.3 0 1,0 -6.6,0M1653.4,167.4a3.3,3.3 0 1,0 6.6,0a3.3,3.3 0 1,0 -6.6,0M1654.4,167.4a3.3,3.3 0 1,0 6.6,0a3.3,3.3 0 1,0 -6.6,0M1655.4,167.3a3.3,3.3 0 1,0 6.6,0a3.3,3.3 0 1,0 -6.6,0M1656.4,167.3a3.3,3.3 0 1,0 6.6,0a3.3,3.3 0 1,0 -6.6,0M1657.4,167.3a3.3,3.3 0 1,0 6.6,0a3.3,3.3 0 1,0 -6.6,0M1658.4,167.2a3.3,3.3 0 1,0 6.6,0a3.3,3.3 0 1,0 -6.6,0M1659.4,167.2a3.3,3.3 0 1,0 6.6,0a3.3,3.3 0 1,0 -6.6,0M1660.4,167.2a3.3,3.3 0 1,0 6.6,0a3.3,3.3 0 1,0 -6.6,0M1661.4,167.1a3.3,3.3 0 1,0 6.6,0a3.3,3.3 0 1,0 -6.6,0M1662.4,167.1a3.3,3.3 0 1,0 6.6,0a3.3,3.3 0 1,0 -6.6,0M1663.4,167.0a3.3,3.3 0 1,0 6.6,0a3.3,3.3 0 1,0 -6.6,0M1664.4,167.0a3.3,3.3 0 1,0 6.6,0a3.3,3.3 0 1,0 -6.6,0M1665.4,167.0a3.3,3.3 0 1,0 6.6,0a3.3,3.3 0 1,0 -6.6,0M1666.4,166.9a3.3,3.3 0 1,0 6.6,0a3.3,3.3 0 1,0 -6.6,0M1667.4,166.9a3.3,3.3 0 1,0 6.6,0a3.3,3.3 0 1,0 -6.6,0M1668.4,166.8a3.3,3.3 0 1,0 6.6,0a3.3,3.3 0 1,0 -6.6,0M1669.5,166.8a3.3,3.3 0 1,0 6.6,0a3.3,3.3 0 1,0 -6.6,0M1670.5,166.8a3.3,3.3 0 1,0 6.6,0a3.3,3.3 0 1,0 -6.6,0M1671.5,166.7a3.3,3.3 0 1,0 6.6,0a3.3,3.3 0 1,0 -6.6,0M1672.5,166.7a3.3,3.3 0 1,0 6.6,0a3.3,3.3 0 1,0 -6.6,0M1673.5,166.7a3.3,3.3 0 1,0 6.6,0a3.3,3.3 0 1,0 -6.6,0M1674.5,166.6a3.3,3.3 0 1,0 6.6,0a3.3,3.3 0 1,0 -6.6,0M1675.5,166.6a3.3,3.3 0 1,0 6.6,0a3.3,3.3 0 1,0 -6.6,0M1676.5,166.5a3.3,3.3 0 1,0 6.6,0a3.3,3.3 0 1,0 -6.6,0M1677.5,166.5a3.3,3.3 0 1,0 6.6,0a3.3,3.3 0 1,0 -6.6,0M1678.5,166.5a3.3,3.3 0 1,0 6.6,0a3.3,3.3 0 1,0 -6.6,0M1679.5,166.4a3.3,3.3 0 1,0 6.6,0a3.3,3.3 0 1,0 -6.6,0M1680.5,166.4a3.3,3.3 0 1,0 6.6,0a3.3,3.3 0 1,0 -6.6,0M1681.5,166.3a3.3,3.3 0 1,0 6.6,0a3.3,3.3 0 1,0 -6.6,0M1682.5,166.3a3.3,3.3 0 1,0 6.6,0a3.3,3.3 0 1,0 -6.6,0M1683.5,166.3a3.3,3.3 0 1,0 6.6,0a3.3,3.3 0 1,0 -6.6,0M1684.5,166.2a3.3,3.3 0 1,0 6.6,0a3.3,3.3 0 1,0 -6.6,0" fill="#00ee00"/>
<path d="M1685.5,166.2a3.3,3.3 0 1,0 6.6,0a3.3,3.3 0 1,0 -6.6,0M1686.5,166.1a3.3,3.3 0 1,0 6.6,0a3.3,3.3 0 1,0 -6.6,0M1687.5,166.0a3.3,3.3 0 1,0 6.6,0a3.3,3.3 0 1,0 -6.6,0M1688.5,165.9a3.3,3.3 0 1,0 6.6,0a3.3,3.3 0 1,0 -6.6,0M1689.5,165.8a3.3,3.3 0 1,0 6.6,0a3.3,3.3 0 1,0 -6.6,0M1690.5,165.7a3.3,3.3 0 1,0 6.6,0a3.3,3.3 0 1,0 -6.6,0M1691.5,165.6a3.3,3.3 0 1,0 6.6,0a3.3,3.3 0 1,0 -6.6,0M1692.5,165.5a3.3,3.3 0 1,0 6.6,0a3.3,3.3 0 1,0 -6.6,0M1693.5,165.4a3.3,3.3 0 1,0 6.6,0a3.3,3.3 0 1,0 -6.6,0M1694.5,165.2a3.3,3.3 0 1,0 6.6,0a3.3,3.3 0 1,0 -6.6,0M1695.5,165.1a3.3,3.3 0 1,0 6.6,0a3.3,3.3 0 1,0 -6.6,0M1696.5,165.0a3.3,3.3 0 1,0 6.6,0a3.3,3.3 0 1,0 -6.6,0M1697.5,164.9a3.3,3.3 0 1,0 6.6,0a3.3,3.3 0 1,0 -6.6,0M1698.5,164.8a3.3,3.3 0 1,0 6.6,0a3.3,3.3 0 1,0 -6.6,0M1699.5,164.7a3.3,3.3 0 1,0 6.6,0a3.3,3.3 0 1,0 -6.6,0M1700.5,164.6a3.3,3.3 0 1,0 6.6,0a3.3,3.3 0 1,0 -6.6,0M1701.5,164.5a3.3,3.3 0 1,0 6.6,0a3.3,3.3 0 1,0 -6.6,0M1702.5,164.4a3.3,3.3 0 1,0 6.6,0a3.3,3.3 0 1,0 -6.6,0M1703.5,164.3a3.3,3.3 0 1,0 6.6,0a3.3,3.3 0 1,0 -6.6,0M1704.5,164.2a3.3,3.3 0 1,0 6.6,0a3.3,3.3 0 1,0 -6.6,0M1705.5,164.1a3.3,3.3 0 1,0 6.6,0a3.3,3.3 0 1,0 -6.6,0M1706.5,164.0a3.3,3.3 0 1,0 6.6,0a3.3,3.3 0 1,0 -6.6,0M1707.5,163.9a3.3,3.3 0 1,0 6.6,0a3.3,3.3 0 1,0 -6.6,0M1708.5,163.8a3.3,3.3 0 1,0 6.6,0a3.3,3.3 0 1,0 -6.6,0M1709.5,163.7a3.3,3.3 0 1,0 6.6,0a3.3,3.3 0 1,0 -6.6,0M1710.5,163.6a3.3,3.3 0 1,0 6.6,0a3.3,3.3 0 1,0 -6.6,0M1711.5,163.5a3.3,3.3 0 1,0 6.6,0a3.3,3.3 0 1,0 -6.6,0M1712.5,163.4a3.3,3.3 0 1,0 6.6,0a3.3,3.3 0 1,0 -6.6,0M1713.5,163.2a3.3,3.3 0 1,0 6.6,0a3.3,3.3 0 1,0 -6.6,0M1714.5,163.1a3.3,3.3 0 1,0 6.6,0a3.3,3.3 0 1,0 -6.6,0M1715.5,163.0a3.3,3.3 0 1,0 6.6,0a3.3,3.3 0 1,0 -6.6,0M1716.5,162.9a3.3,3.3 0 1,0 6.6,0a3.3,3.3 0 1,0 -6.6,0M1717.5,162.8a3.3,3.3 0 1,0 6.6,0a3.3,3.3 0 1,0 -6.6,0M1718.5,162.7a3.3,3.3 0 1,0 6.6,0a3.3,3.3 0 1,0 -6.6,0M1719.5,162.6a3.3,3.3 0 1,0 6.6,0a3.3,3.3 0 1,0 -6.6,0M1720.5,162.5a3.3,3.3 0 1,0 6.6,0a3.3,3.3 0 1,0 -6.6,0M1721.5,162.4a3.3,3.3 0 1,0 6.6,0a3.3,3.3 0 1,0 -6.6,0M1722.5,162.3a3.3,3.3 0 1,0 6.6,0a3.3,3.3 0 1,0 -6.6,0M1723.5,162.2a3.3,3.3 0 1,0 6.6,0a3.3,3.3 0 1,0 -6.6,0M1724.5,162.1a3.3,3.3 0 1,0 6.6,0a3.3,3.3 0 1,0 -6.6,0M1725.5,162.0a3.3,3.3 0 1,0 6.6,0a3.3,3.3 0 1,0 -6.6,0M1726.5,161.9a3.3,3.3 0 1,0 6.6,0a3.3,3.3 0 1,0 -6.6,0M1727.5,161.8a3.3,3.3 0 1,0 6.6,0a3.3,3.3 0 1,0 -6.6,0M1728.5,161.7a3.3,3.3 0 1,0 6.6,0a3.3,3.3 0 1,0 -6.6,0M1729.5,161.6a3.3,3.3 0 1,0 6.6,0a3.3,3.3 0 1,0 -6.6,0M1730.5,161.5a3.3,3.3 0 1,0 6.6,0a3.3,3.3 0 1,0 -6.6,0M1731.5,161.4a3.3,3.3 0 1,0 6.6,0a3.3,3.3 0 1,0 -6.6,0M1732.5,161.3a3.3,3.3 0 1,0 6.6,0a3.3,3.3 0 1,0 -6.6,0M1733.5,161.1a3.3,3.3 0 1,0 6.6,0a3.3,3.3 0 1,0 -6.6,0M1734.5,161.0a3.3,3.3 0 1,0 6.6,0a3.3,3.3 0 1,0 -6.6,0M1735.6,160.9a3.3,3.3 0 1,0 6.6,0a3.3,3.3 0 1,0 -6.6,0M1736.6,160.8a3.3,3.3 0 1,0 6.6,0a3.3,3.3 0 1,0 -6.6,0M1737.6,160.7a3.3,3.3 0 1,0 6.6,0a3.3,3.3 0 1,0 -6.6,0M1738.6,160.6a3.3,3.3 0 1,0 6.6,0a3.3,3.3 0 1,0 -6.6,0M1739.6,160.5a3.3,3.3 0 1,0 6.6,0a3.3,3.3 0 1,0 -6.6,0M1740.6,160.4a3.3,3.3 0 1,0 6.6,0a3.3,3.3 0 1,0 -6.6,0M1741.6,160.3a3.3,3.3 0 1,0 6.6,0a3.3,3.3 0 1,0 -6.6,0M1742.6,160.2a3.3,3.3 0 1,0 6.6,0a3.3,3.3 0 1,0 -6.6,0M1743.6,160.1a3.3,3.3 0 1,0 6.6,0a3.3,3.3 0 1,0 -6.6,0M1744.6,160.0a3.3,3.3 0 1,0 6.6,0a3.3,3.3 0 1,0 -6.6,0M1745.6,159.9a3.3,3.3 0 1,0 6.6,0a3.3,3.3 0 1,0 -6.6,0M1746.6,159.8a3.3,3.3 0 1,0 6.6,0a3.3,3.3 0 1,0 -6.6,0M1747.6,159.7a3.3,3.3 0 1,0 6.6,0a3.3,3.3 0 1,0 -6.6,0M1748.6,159.6a3.3,3.3 0 1,0 6.6,0a3.3,3.3 0 1,0 -6.6,0M1749.6,159.5a3.3,3.3 0 1,0 6.6,0a3.3,3.3 0 1,0 -6.6,0M1750.6,159.4a3.3,3.3 0 1,0 6.6,0a3.3,3.3 0 1,0 -6.6,0M1751.6,159.3a3.3,3.3 0 1,0 6.6,0a3.3,3.3 0 1,0 -6.6,0M1752.6,159.2a3.3,3.3 0 1,0 6.6,0a3.3,3.3 0 1,0 -6.6,0M1753.6,159.1a3.3,3.3 0 1,0 6.6,0a3.3,3.3 0 1,0 -6.6,0M1754.6,159.0a3.3,3.3 0 1,0 6.6,0a3.3,3.3 0 1,0 -6.6,0M1755.6,158.9a3.3,3.3 0 1,0 6.6,0a3.3,3.3 0 1,0 -6.6,0M1756.6,158.8a3.3,3.3 0 1,0 6.6,0a3.3,3.3 0 1,0 -6.6,0M1757.6,158.7a3.3,3.3 0 1,0 6.6,0a3.3,3.3 0 1,0 -6.6,0M1758.6,158.6a3.3,3.3 0 1,0 6.6,0a3.3,3.3 0 1,0 -6.6,0M1759.6,158.5a3.3,3.3 0 1,0 6.6,0a3.3,3.3 0 1,0 -6.6,0M1760.6,158.4a3.3,3.3 0 1,0 6.6,0a3.3,3.3 0 1,0 -6.6,0M1761.6,158.3a3.3,3.3 0 1,0 6.6,0a3.3,3.3 0 1,0 -6.6,0M1762.6,158.2a3.3,3.3 0 1,0 6.6,0a3.3,3.3 0 1,0 -6.6,0M1763.6,158.1a3.3,3.3 0 1,0 6.6,0a3.3,3.3 0 1,0 -6.6,0M1764.6,158.0a3.3,3.3 0 1,0 6.6,0a3.3,3.3 0 1,0 -6.6,0M1765.6,157.9a3.3,3.3 0 1,0 6.6,0a3.3,3.3 0 1,0 -6.6,0M1766.6,157.8a3.3,3.3 0 1,0 6.6,0a3.3,3.3 0 1,0 -6.6,0M1767.6,157.7a3.3,3.3 0 1,0 6.6,0a3.3,3.3 0 1,0 -6.6,0M1768.6,157.6a3.3,3.3 0 1,0 6.6,0a3.3,3.3 0 1,0 -6.6,0M1769.6,157.5a3.3,3.3 0 1,0 6.6,0a3.3,3.3 0 1,0 -6.6,0M1770.6,157.4a3.3,3.3 0 1,0 6.6,0a3.3,3.3 0 1,0 -6.6,0M1771.6,157.3a3.3,3.3 0 1,0 6.6,0a3.3,3.3 0 1,0 -6.6,0M1772.6,157.2a3.3,3.3 0 1,0 6.6,0a3.3,3.3 0 1,0 -6.6,0M1773.6,157.1a3.3,3.3 0 1,0 6.6,0a3.3,3.3 0 1,0 -6.6,0M1774.6,157.0a3.3,3.3 0 1,0 6.6,0a3.3,3.3 0 1,0 -6.6,0M1775.6,156.9a3.3,3.3 0 1,0 6.6,0a3.3,3.3 0 1,0 -6.6,0M1776.6,156.8a3.3,3.3 0 1,0 6.6,0a3.3,3.3 0 1,0 -6.6,0M1777.6,156.7a3.3,3.3 0 1,0 6.6,0a3.3,3.3 0 1,0 -6.6,0M1778.6,156.6a3.3,3.3 0 1,0 6.6,0a3.3,3.3 0 1,0 -6.6,0M1779.6,156.6a3.3,3.3 0 1,0 6.6,0a3.3,3.3 0 1,0 -6.6,0M1780.6,156.5a3.3,3.3 0 1,0 6.6,0a3.3,3.3 0 1,0 -6.6,0M1781.6,156.4a3.3,3.3 0 1,0 6.6,0a3.3,3.3 0 1,0 -6.6,0M1782.6,156.3a3.3,3.3 0 1,0 6.6,0a3.3,3.3 0 1,0 -6.6,0M1783.6,156.2a3.3,3.3 0 1,0 6.6,0a3.3,3.3 0 1,0 -6.6,0M1784.6,156.1a3.3,3.3 0 1,0 6.6,0a3.3,3.3 0 1,0 -6.6,0M1785.6,156.0a3.3,3.3 0 1,0 6.6,0a3.3,3.3 0 1,0 -6.6,0M1786.6,155.9a3.3,3.3 0 1,0 6.6,0a3.3,3.3 0 1,0 -6.6,0M1787.6,155.8a3.3,3.3 0 1,0 6.6,0a3.3,3.3 0 1,0 -6.6,0M1788.6,155.7a3.3,3.3 0 1,0 6.6,0a3.3,3.3 0 1,0 -6.6,0M1789.6,155.6a3.3,3.3 0 1,0 6.6,0a3.3,3.3 0 1,0 -6.6,0M1790.6,155.5a3.3,3.3 0 1,0 6.6,0a3.3,3.3 0 1,0 -6.6,0M1791.6,155.4a3.3,3.3 0 1,0 6.6,0a3.3,3.3 0 1,0 -6.6,0M1792.6,155.3a3.3,3.3 0 1,0 6.6,0a3.3,3.3 0 1,0 -6.6,0M1793.6,155.2a3.3,3.3 0 1,0 6.6,0a3.3,3.3 0 1,0 -6.6,0M1794.6,155.1a3.3,3.3 0 1,0 6.6,0a3.3,3.3 0 1,0 -6.6,0M1795.6,155.0a3.3,3.3 0 1,0 6.6,0a3.3,3.3 0 1,0 -6.6,0M1796.6,154.9a3.3,3.3 0 1,0 6.6,0a3.3,3.3 0 1,0 -6.6,0M1797.6,154.8a3.3,3.3 0 1,0 6.6,0a3.3,3.3 0 1,0 -6.6,0M1798.6,154.7a3.3,3.3 0 1,0 6.6,0a3.3,3.3 0 1,0 -6.6,0M1799.6,154.6a3.3,3.3 0 1,0 6.6,0a3.3,3.3 0 1,0 -6.6,0M1800.6,154.5a3.3,3.3 0 1,0 6.6,0a3.3,3.3 0 1,0 -6.6,0M1801.6,154.4a3.3,3.3 0 1,0 6.6,0a3.3,3.3 0 1,0 -6.6,0M1802.7,154.3a3.3,3.3 0 1,0 6.6,0a3.3,3.3 0 1,0 -6.6,0M1803.7,154.2a3.3,3.3 0 1,0 6.6,0a3.3,3.3 0 1,0 -6.6,0M1804.7,154.1a3.3,3.3 0 1,0 6.6,0a3.3,3.3 0 1,0 -6.6,0M1805.7,154.0a3.3,3.3 0 1,0 6.6,0a3.3,3.3 0 1,0 -6.6,0M1806.7,153.9a3.3,3.3 0 1,0 6.6,0a3.3,3.3 0 1,0 -6.6,0M1807.7,153.8a3.3,3.3 0 1,0 6.6,0a3.3,3.3 0 1,0 -6.6,0M1808.7,153.7a3.3,3.3 0 1,0 6.6,0a3.3,3.3 0 1,0 -6.6,0M1809.7,153.6a3.3,3.3 0 1,0 6.6,0a3.3,3.3 0 1,0 -6.6,0M1810.7,153.5a3.3,3.3 0 1,0 6.6,0a3.3,3.3 0 1,0 -6.6,0M1811.7,153.4a3.3,3.3 0 1,0 6.6,0a3.3,3.3 0 1,0 -6.6,0M1812.7,153.3a3.3,3.3 0 1,0 6.6,0a3.3,3.3 0 1,0 -6.6,0M1813.7,153.2a3.3,3.3 0 1,0 6.6,0a3.3,3.3 0 1,0 -6.6,0M1814.7,153.1a3.3,3.3 0 1,0 6.6,0a3.3,3.3 0 1,0 -6.6,0M1815.7,153.0a3.3,3.3 0 1,0 6.6,0a3.3,3.3 0 1,0 -6.6,0M1816.7,152.9a3.3,3.3 0 1,0 6.6,0a3.3,3.3 0 1,0 -6.6,0M1817.7,152.8a3.3,3.3 0 1,0 6.6,0a3.3,3.3 0 1,0 -6.6,0M1818.7,152.6a3.3,3.3 0 1,0 6.6,0a3.3,3.3 0 1,0 -6.6,0M1819.7,152.5a3.3,3.3 0 1,0 6.6,0a3.3,3.3 0 1,0 -6.6,0M1820.7,152.3a3.3,3.3 0 1,0 6.6,0a3.3,3.3 0 1,0 -6.6,0M1821.7,152.2a3.3,3.3 0 1,0 6.6,0a3.3,3.3 0 1,0 -6.6,0M1822.7,152.0a3.3,3.3 0 1,0 6.6,0a3.3,3.3 0 1,0 -6.6,0M1823.7,151.9a3.3,3.3 0 1,0 6.6,0a3.3,3.3 0 1,0 -6.6,0M1824.7,151.7a3.3,3.3 0 1,0 6.6,0a3.3,3.3 0 1,0 -6.6,0M1825.7,151.6a3.3,3.3 0 1,0 6.6,0a3.3,3.3 0 1,0 -6.6,0M1826.7,151.4a3.3,3.3 0 1,0 6.6,0a3.3,3.3 0 1,0 -6.6,0M1827.7,151.3a3.3,3.3 0 1,0 6.6,0a3.3,3.3 0 1,0 -6.6,0M1828.7,151.1a3.3,3.3 0 1,0 6.6,0a3.3,3.3 0 1,0 -6.6,0M1829.7,151.0a3.3,3.3 0 1,0 6.6,0a3.3,3.3 0 1,0 -6.6,0M1830.7,150.8a3.3,3.3 0 1,0 6.6,0a3.3,3.3 0 1,0 -6.6,0M1831.7,150.7a3.3,3.3 0 1,0 6.6,0a3.3,3.3 0 1,0 -6.6,0M1832.7,150.5a3.3,3.3 0 1,0 6.6,0a3.3,3.3 0 1,0 -6.6,0M1833.7,150.4a3.3,3.3 0 1,0 6.6,0a3.3,3.3 0 1,0 -6.6,0M1834.7,150.2a3.3,3.3 0 1,0 6.6,0a3.3,3.3 0 1,0 -6.6,0M1835.7,150.1a3.3,3.3 0 1,0 6.6,0a3.3,3.3 0 1,0 -6.6,0M1836.7,149.9a3.3,3.3 0 1,0 6.6,0a3.3,3.3 0 1,0 -6.6,0M1837.7,149.8a3.3,3.3 0 1,0 6.6,0a3.3,3.3 0 1,0 -6.6,0M1838.7,149.6a3.3,3.3 0 1,0 6.6,0a3.3,3.3 0 1,0 -6.6,0M1839.7,149.5a3.3,3.3 0 1,0 6.6,0a3.3,3.3 0 1,0 -6.6,0M1840.7,149.3a3.3,3.3 0 1,0 6.6,0a3.3,3.3 0 1,0 -6.6,0M1841.7,149.2a3.3,3.3 0 1,0 6.6,0a3.3,3.3 0 1,0 -6.6,0M1842.7,149.0a3.3,3.3 0 1,0 6.6,0a3.3,3.3 0 1,0 -6.6,0M1843.7,148.9a3.3,3.3 0 1,0 6.6,0a3.3,3.3 0 1,0 -6.6,0M1844.7,148.7a3.3,3.3 0 1,0 6.6,0a3.3,3.3 0 1,0 -6.6,0M1845.7,148.6a3.3,3.3 0 1,0 6.6,0a3.3,3.3 0 1,0 -6.6,0M1846.7,148.4a3.3,3.3 0 1,0 6.6,0a3.3,3.3 0 1,0 -6.6,0M1847.7,148.3a3.3,3.3 0 1,0 6.6,0a3.3,3.3 0 1,0 -6.6,0M1848.7,148.1a3.3,3.3 0 1,0 6.6,0a3.3,3.3 0 1,0 -6.6,0M1849.7,148.0a3.3,3.3 0 1,0 6.6,0a3.3,3.3 0 1,0 -6.6,0M1850.7,147.8a3.3,3.3 0 1,0 6.6,0a3.3,3.3 0 1,0 -6.6,0M1851.7,147.7a3.3,3.3 0 1,0 6.6,0a3.3,3.3 0 1,0 -6.6,0M1852.7,147.6a3.3,3.3 0 1,0 6.6,0a3.3,3.3 0 1,0 -6.6,0M1853.7,147.5a3.3,3.3 0 1,0 6.6,0a3.3,3.3 0 1,0 -6.6,0M1854.7,147.4a3.3,3.3 0 1,0 6.6,0a3.3,3.3 0 1,0 -6.6,0M1855.7,147.3a3.3,3.3 0 1,0 6.6,0a3.3,3.3 0 1,0 -6.6,0M1856.7,147.2a3.3,3.3 0 1,0 6.6,0a3.3,3.3 0 1,0 -6.6,0M1857.7,147.1a3.3,3.3 0 1,0 6.6,0a3.3,3.3 0 1,0 -6.6,0M1858.7,147.1a3.3,3.3 0 1,0 6.6,0a3.3,3.3 0 1,0 -6.6,0M1859.7,147.0a3.3,3.3 0 1,0 6.6,0a3.3,3.3 0 1,0 -6.6,0M1860.7,146.9a3.3,3.3 0 1,0 6.6,0a3.3,3.3 0 1,0 -6.6,0M1861.7,146.8a3.3,3.3 0 1,0 6.6,0a3.3,3.3 0 1,0 -6.6,0M1862.7,146.7a3.3,3.3 0 1,0 6.6,0a3.3,3.3 0 1,0 -6.6,0M1863.7,146.6a3.3,3.3 0 1,0 6.6,0a3.3,3.3 0 1,0 -6.6,0M1864.7,146.5a3.3,3.3 0 1,0 6.6,0a3.3,3.3 0 1,0 -6.6,0M1865.7,146.4a3.3,3.3 0 1,0 6.6,0a3.3,3.3 0 1,0 -6.6,0M1866.7,146.3a3.3,3.3 0 1,0 6.6,0a3.3,3.3 0 1,0 -6.6,0M1867.7,146.2a3.3,3.3 0 1,0 6.6,0a3.3,3.3 0 1,0 -6.6,0M1868.7,146.1a3.3,3.3 0 1,0 6.6,0a3.3,3.3 0 1,0 -6.6,0M1869.8,146.0a3.3,3.3 0 1,0 6.6,0a3.3,3.3 0 1,0 -6.6,0M1870.8,145.9a3.3,3.3 0 1,0 6.6,0a3.3,3.3 0 1,0 -6.6,0M1871.8,145.8a3.3,3.3 0 1,0 6.6,0a3.3,3.3 0 1,0 -6.6,0M1872.8,145.7a3.3,3.3 0 1,0 6.6,0a3.3,3.3 0 1,0 -6.6,0M1873.8,145.6a3.3,3.3 0 1,0 6.6,0a3.3,3.3 0 1,0 -6.6,0M1874.8,145.5a3.3,3.3 0 1,0 6.6,0a3.3,3.3 0 1,0 -6.6,0M1875.8,145.4a3.3,3.3 0 1,0 6.6,0a3.3,3.3 0 1,0 -6.6,0M1876.8,145.3a3.3,3.3 0 1,0 6.6,0a3.3,3.3 0 1,0 -6.6,0M1877.8,145.2a3.3,3.3 0 1,0 6.6,0a3.3,3.3 0 1,0 -6.6,0M1878.8,145.1a3.3,3.3 0 1,0 6.6,0a3.3,3.3 0 1,0 -6.6,0M1879.8,145.0a3.3,3.3 0 1,0 6.6,0a3.3,3.3 0 1,0 -6.6,0M1880.8,144.9a3.3,3.3 0 1,0 6.6,0a3.3,3.3 0 1,0 -6.6,0M1881.8,144.8a3.3,3.3 0 1,0 6.6,0a3.3,3.3 0 1,0 -6.6,0M1882.8,144.7a3.3,3.3 0 1,0 6.6,0a3.3,3.3 0 1,0 -6.6,0M1883.8,144.6a3.3,3.3 0 1,0 6.6,0a3.3,3.3 0 1,0 -6.6,0M1884.8,144.5a3.3,3.3 0 1,0 6.6,0a3.3,3.3 0 1,0 -6.6,0M1885.8,144.2a3.3,3.3 0 1,0 6.6,0a3.3,3.3 0 1,0 -6.6,0M1886.8,144.0a3.3,3.3 0 1,0 6.6,0a3.3,3.3 0 1,0 -6.6,0M1887.8,143.7a3.3,3.3 0 1,0 6.6,0a3.3,3.3 0 1,0 -6.6,0M1888.8,143.4a3.3,3.3 0 1,0 6.6,0a3.3,3.3 0 1,0 -6.6,0M1889.8,143.1a3.3,3.3 0 1,0 6.6,0a3.3,3.3 0 1,0 -6.6,0M1890.8,142.9a3.3,3.3 0 1,0 6.6,0a3.3,3.3 0 1,0 -6.6,0M1891.8,142.6a3.3,3.3 0 1,0 6.6,0a3.3,3.3 0 1,0 -6.6,0M1892.8,142.3a3.3,3.3 0 1,0 6.6,0a3.3,3.3 0 1,0 -6.6,0M1893.8,142.0a3.3,3.3 0 1,0 6.6,0a3.3,3.3 0 1,0 -6.6,0M1894.8,141.7a3.3,3.3 0 1,0 6.6,0a3.3,3.3 0 1,0 -6.6,0M1895.8,141.5a3.3,3.3 0 1,0 6.6,0a3.3,3.3 0 1,0 -6.6,0M1896.8,141.2a3.3,3.3 0 1,0 6.6,0a3.3,3.3 0 1,0 -6.6,0M1897.8,140.9a3.3,3.3 0 1,0 6.6,0a3.3,3.3 0 1,0 -6.6,0M1898.8,140.5a3.3,3.3 0 1,0 6.6,0a3.3,3.3 0 1,0 -6.6,0M1899.8,140.0a3.3,3.3 0 1,0 6.6,0a3.3,3.3 0 1,0 -6.6,0M1900.8,139.6a3.3,3.3 0 1,0 6.6,0a3.3,3.3 0 1,0 -6.6,0M1901.8,139.1a3.3,3.3 0 1,0 6.6,0a3.3,3.3 0 1,0 -6.6,0M1902.8,138.6a3.3,3.3 0 1,0 6.6,0a3.3,3.3 0 1,0 -6.6,0M1903.8,138.2a3.3,3.3 0 1,0 6.6,0a3.3,3.3 0 1,0 -6.6,0M1904.8,137.7a3.3,3.3 0 1,0 6.6,0a3.3,3.3 0 1,0 -6.6,0M1905.8,137.3a3.3,3.3 0 1,0 6.6,0a3.3,3.3 0 1,0 -6.6,0M1906.8,136.2a3.3,3.3 0 1,0 6.6,0a3.3,3.3 0 1,0 -6.6,0M1907.8,135.1a3.3,3.3 0 1,0 6.6,0a3.3,3.3 0 1,0 -6.6,0M1908.8,134.0a3.3,3.3 0 1,0 6.6,0a3.3,3.3 0 1,0 -6.6,0M1909.8,132.9a3.3,3.3 0 1,0 6.6,0a3.3,3.3 0 1,0 -6.6,0M1910.8,131.8a3.3,3.3 0 1,0 6.6,0a3.3,3.3 0 1,0 -6.6,0M1911.8,130.7a3.3,3.3 0 1,0 6.6,0a3.3,3.3 0 1,0 -6.6,0M1912.8,129.9a3.3,3.3 0 1,0 6.6,0a3.3,3.3 0 1,0 -6.6,0M1913.8,129.2a3.3,3.3 0 1,0 6.6,0a3.3,3.3 0 1,0 -6.6,0M1914.8,128.5a3.3,3.3 0 1,0 6.6,0a3.3,3.3 0 1,0 -6.6,0M1915.8,127.7a3.3,3.3 0 1,0 6.6,0a3.3,3.3 0 1,0 -6.6,0M1916.8,127.0a3.3,3.3 0 1,0 6.6,0a3.3,3.3 0 1,0 -6.6,0M1917.8,126.3a3.3,3.3 0 1,0 6.6,0a3.3,3.3 0 1,0 -6.6,0M1918.8,125.6a3.3,3.3 0 1,0 6.6,0a3.3,3.3 0 1,0 -6.6,0M1919.8,124.2a3.3,3.3 0 1,0 6.6,0a3.3,3.3 0 1,0 -6.6,0M1920.8,122.9a3.3,3.3 0 1,0 6.6,0a3.3,3.3 0 1,0 -6.6,0M1921.8,121.6a3.3,3.3 0 1,0 6.6,0a3.3,3.3 0 1,0 -6.6,0M1922.8,120.3a3.3,3.3 0 1,0 6.6,0a3.3,3.3 0 1,0 -6.6,0M1923.8,118.9a3.3,3.3 0 1,0 6.6,0a3.3,3.3 0 1,0 -6.6,0M1924.8,116.1a3.3,3.3 0 1,0 6.6,0a3.3,3.3 0 1,0 -6.6,0M1925.8,113.3a3.3,3.3 0 1,0 6.6,0a3.3,3.3 0 1,0 -6.6,0M1926.8,110.5a3.3,3.3 0 1,0 6.6,0a3.3,3.3 0 1,0 -6.6,0M1927.8,109.9a3.3,3.3 0 1,0 6.6,0a3.3,3.3 0 1,0 -6.6,0M1928.8,109.3a3.3,3.3 0 1,0 6.6,0a3.3,3.3 0 1,0 -6.6,0M1929.8,101.8a3.3,3.3 0 1,0 6.6,0a3.3,3.3 0 1,0 -6.6,0M1930.8,91.7a3.3,3.3 0 1,0 6.6,0a3.3,3.3 0 1,0 -6.6,0M1931.8,81.6a3.3,3.3 0 1,0 6.6,0a3.3,3.3 0 1,0 -6.6,0M1932.8,81.0a3.3,3.3 0 1,0 6.6,0a3.3,3.3 0 1,0 -6.6,0M1933.8,70.8a3.3,3.3 0 1,0 6.6,0a3.3,3.3 0 1,0 -6.6,0M1934.8,11.5a3.3,3.3 0 1,0 6.6,0a3.3,3.3 0 1,0 -6.6,0" fill="#ff0000"/>
</g>
<line x1="1689.0" y1="4.1" x2="1689.0" y2="205.8" stroke="#000" stroke-width="1.2" stroke-dasharray="3.5,3.5"/>
<line x1="1419.8" y1="166.4" x2="1958.1" y2="166.4" stroke="#000" stroke-width="1.2" stroke-dasharray="3.5,3.5"/>
<rect x="1419.8" y="4.1" width="538.3" height="201.7" fill="none" stroke="#222" stroke-width="1.2"/>
<line x1="1438.4" y1="205.8" x2="1438.4" y2="214.1" stroke="#222" stroke-width="1.2"/>
<text transform="translate(1433.94 240.50) scale(0.1600 0.1540)" font-size="100">0</text>
<line x1="1538.6" y1="205.8" x2="1538.6" y2="214.1" stroke="#222" stroke-width="1.2"/>
<text transform="translate(1524.91 240.50) scale(0.1600 0.1540)" font-size="100">100</text>
<line x1="1638.7" y1="205.8" x2="1638.7" y2="214.1" stroke="#222" stroke-width="1.2"/>
<text transform="translate(1625.26 240.50) scale(0.1600 0.1540)" font-size="100">200</text>
<line x1="1738.9" y1="205.8" x2="1738.9" y2="214.1" stroke="#222" stroke-width="1.2"/>
<text transform="translate(1725.51 240.50) scale(0.1600 0.1540)" font-size="100">300</text>
<line x1="1839.0" y1="205.8" x2="1839.0" y2="214.1" stroke="#222" stroke-width="1.2"/>
<text transform="translate(1825.78 240.50) scale(0.1600 0.1540)" font-size="100">400</text>
<line x1="1939.2" y1="205.8" x2="1939.2" y2="214.1" stroke="#222" stroke-width="1.2"/>
<text transform="translate(1925.79 240.50) scale(0.1600 0.1540)" font-size="100">500</text>
<line x1="1410.3" y1="199.0" x2="1419.8" y2="199.0" stroke="#222" stroke-width="1.2"/>
<text transform="translate(1397.50 203.40) rotate(-90) scale(0.1580 0.1630)" font-size="100">0</text>
<line x1="1410.3" y1="168.9" x2="1419.8" y2="168.9" stroke="#222" stroke-width="1.2"/>
<text transform="translate(1397.50 173.50) rotate(-90) scale(0.1580 0.1630)" font-size="100">1</text>
<line x1="1410.3" y1="138.8" x2="1419.8" y2="138.8" stroke="#222" stroke-width="1.2"/>
<text transform="translate(1397.58 143.18) rotate(-90) scale(0.1580 0.1630)" font-size="100">2</text>
<line x1="1410.3" y1="108.7" x2="1419.8" y2="108.7" stroke="#222" stroke-width="1.2"/>
<text transform="translate(1397.50 113.04) rotate(-90) scale(0.1580 0.1630)" font-size="100">3</text>
<line x1="1410.3" y1="78.6" x2="1419.8" y2="78.6" stroke="#222" stroke-width="1.2"/>
<text transform="translate(1397.50 82.94) rotate(-90) scale(0.1580 0.1630)" font-size="100">4</text>
<line x1="1410.3" y1="48.5" x2="1419.8" y2="48.5" stroke="#222" stroke-width="1.2"/>
<text transform="translate(1397.42 52.88) rotate(-90) scale(0.1580 0.1630)" font-size="100">5</text>
<line x1="1410.3" y1="18.4" x2="1419.8" y2="18.4" stroke="#222" stroke-width="1.2"/>
<text transform="translate(1397.50 22.84) rotate(-90) scale(0.1580 0.1630)" font-size="100">6</text>
<text transform="translate(1360.88 142.25) rotate(-90) scale(0.1570 0.1590)" font-size="100">Risk score</text>
<circle cx="1436.5" cy="26.6" r="4.7" fill="#ff0000"/>
<text transform="translate(1452.70 33.30) scale(0.1820 0.1740)" font-size="100">High risk</text>
<circle cx="1436.5" cy="49.4" r="4.7" fill="#00ee00"/>
<text transform="translate(1452.70 55.50) scale(0.1820 0.1740)" font-size="100">Low Risk</text>
<g id="C2-pts">
<path d="M1436.7,431.6a3.9,3.9 0 1,0 7.8,0a3.9,3.9 0 1,0 -7.8,0M1437.1,427.5a3.9,3.9 0 1,0 7.8,0a3.9,3.9 0 1,0 -7.8,0M1439.1,434.0a3.9,3.9 0 1,0 7.8,0a3.9,3.9 0 1,0 -7.8,0M1440.2,432.3a3.9,3.9 0 1,0 7.8,0a3.9,3.9 0 1,0 -7.8,0M1443.1,428.7a3.9,3.9 0 1,0 7.8,0a3.9,3.9 0 1,0 -7.8,0M1444.2,418.9a3.9,3.9 0 1,0 7.8,0a3.9,3.9 0 1,0 -7.8,0M1445.5,427.4a3.9,3.9 0 1,0 7.8,0a3.9,3.9 0 1,0 -7.8,0M1448.3,426.5a3.9,3.9 0 1,0 7.8,0a3.9,3.9 0 1,0 -7.8,0M1449.8,428.6a3.9,3.9 0 1,0 7.8,0a3.9,3.9 0 1,0 -7.8,0M1452.0,428.8a3.9,3.9 0 1,0 7.8,0a3.9,3.9 0 1,0 -7.8,0M1452.1,420.4a3.9,3.9 0 1,0 7.8,0a3.9,3.9 0 1,0 -7.8,0M1455.6,421.7a3.9,3.9 0 1,0 7.8,0a3.9,3.9 0 1,0 -7.8,0M1456.9,418.2a3.9,3.9 0 1,0 7.8,0a3.9,3.9 0 1,0 -7.8,0M1457.7,434.3a3.9,3.9 0 1,0 7.8,0a3.9,3.9 0 1,0 -7.8,0M1458.2,418.7a3.9,3.9 0 1,0 7.8,0a3.9,3.9 0 1,0 -7.8,0M1459.4,436.2a3.9,3.9 0 1,0 7.8,0a3.9,3.9 0 1,0 -7.8,0M1462.2,432.2a3.9,3.9 0 1,0 7.8,0a3.9,3.9 0 1,0 -7.8,0M1463.4,433.6a3.9,3.9 0 1,0 7.8,0a3.9,3.9 0 1,0 -7.8,0M1464.8,418.8a3.9,3.9 0 1,0 7.8,0a3.9,3.9 0 1,0 -7.8,0M1468.4,429.8a3.9,3.9 0 1,0 7.8,0a3.9,3.9 0 1,0 -7.8,0M1469.4,437.8a3.9,3.9 0 1,0 7.8,0a3.9,3.9 0 1,0 -7.8,0M1470.6,413.9a3.9,3.9 0 1,0 7.8,0a3.9,3.9 0 1,0 -7.8,0M1472.7,417.1a3.9,3.9 0 1,0 7.8,0a3.9,3.9 0 1,0 -7.8,0M1473.6,432.9a3.9,3.9 0 1,0 7.8,0a3.9,3.9 0 1,0 -7.8,0M1476.9,434.7a3.9,3.9 0 1,0 7.8,0a3.9,3.9 0 1,0 -7.8,0M1479.8,436.0a3.9,3.9 0 1,0 7.8,0a3.9,3.9 0 1,0 -7.8,0M1481.3,427.8a3.9,3.9 0 1,0 7.8,0a3.9,3.9 0 1,0 -7.8,0M1482.4,410.8a3.9,3.9 0 1,0 7.8,0a3.9,3.9 0 1,0 -7.8,0M1485.7,429.2a3.9,3.9 0 1,0 7.8,0a3.9,3.9 0 1,0 -7.8,0M1487.0,424.9a3.9,3.9 0 1,0 7.8,0a3.9,3.9 0 1,0 -7.8,0M1489.8,412.3a3.9,3.9 0 1,0 7.8,0a3.9,3.9 0 1,0 -7.8,0M1490.1,427.4a3.9,3.9 0 1,0 7.8,0a3.9,3.9 0 1,0 -7.8,0M1491.2,419.8a3.9,3.9 0 1,0 7.8,0a3.9,3.9 0 1,0 -7.8,0M1492.7,411.7a3.9,3.9 0 1,0 7.8,0a3.9,3.9 0 1,0 -7.8,0M1493.1,420.8a3.9,3.9 0 1,0 7.8,0a3.9,3.9 0 1,0 -7.8,0M1493.9,435.8a3.9,3.9 0 1,0 7.8,0a3.9,3.9 0 1,0 -7.8,0M1495.8,421.8a3.9,3.9 0 1,0 7.8,0a3.9,3.9 0 1,0 -7.8,0M1496.8,411.4a3.9,3.9 0 1,0 7.8,0a3.9,3.9 0 1,0 -7.8,0M1497.1,429.9a3.9,3.9 0 1,0 7.8,0a3.9,3.9 0 1,0 -7.8,0M1498.7,416.2a3.9,3.9 0 1,0 7.8,0a3.9,3.9 0 1,0 -7.8,0M1499.0,419.3a3.9,3.9 0 1,0 7.8,0a3.9,3.9 0 1,0 -7.8,0M1500.6,419.7a3.9,3.9 0 1,0 7.8,0a3.9,3.9 0 1,0 -7.8,0M1503.8,426.9a3.9,3.9 0 1,0 7.8,0a3.9,3.9 0 1,0 -7.8,0M1507.0,419.1a3.9,3.9 0 1,0 7.8,0a3.9,3.9 0 1,0 -7.8,0M1508.2,422.5a3.9,3.9 0 1,0 7.8,0a3.9,3.9 0 1,0 -7.8,0M1512.7,417.2a3.9,3.9 0 1,0 7.8,0a3.9,3.9 0 1,0 -7.8,0M1513.1,428.7a3.9,3.9 0 1,0 7.8,0a3.9,3.9 0 1,0 -7.8,0M1516.3,415.6a3.9,3.9 0 1,0 7.8,0a3.9,3.9 0 1,0 -7.8,0M1517.3,436.4a3.9,3.9 0 1,0 7.8,0a3.9,3.9 0 1,0 -7.8,0M1519.3,431.1a3.9,3.9 0 1,0 7.8,0a3.9,3.9 0 1,0 -7.8,0M1520.4,428.1a3.9,3.9 0 1,0 7.8,0a3.9,3.9 0 1,0 -7.8,0M1521.4,432.8a3.9,3.9 0 1,0 7.8,0a3.9,3.9 0 1,0 -7.8,0M1522.3,420.0a3.9,3.9 0 1,0 7.8,0a3.9,3.9 0 1,0 -7.8,0M1523.3,415.8a3.9,3.9 0 1,0 7.8,0a3.9,3.9 0 1,0 -7.8,0M1524.5,425.2a3.9,3.9 0 1,0 7.8,0a3.9,3.9 0 1,0 -7.8,0M1525.8,425.7a3.9,3.9 0 1,0 7.8,0a3.9,3.9 0 1,0 -7.8,0M1526.1,414.5a3.9,3.9 0 1,0 7.8,0a3.9,3.9 0 1,0 -7.8,0M1527.0,418.2a3.9,3.9 0 1,0 7.8,0a3.9,3.9 0 1,0 -7.8,0M1528.1,433.9a3.9,3.9 0 1,0 7.8,0a3.9,3.9 0 1,0 -7.8,0M1529.7,419.7a3.9,3.9 0 1,0 7.8,0a3.9,3.9 0 1,0 -7.8,0M1531.8,430.1a3.9,3.9 0 1,0 7.8,0a3.9,3.9 0 1,0 -7.8,0M1532.6,411.2a3.9,3.9 0 1,0 7.8,0a3.9,3.9 0 1,0 -7.8,0M1533.1,425.1a3.9,3.9 0 1,0 7.8,0a3.9,3.9 0 1,0 -7.8,0M1533.8,421.2a3.9,3.9 0 1,0 7.8,0a3.9,3.9 0 1,0 -7.8,0M1537.1,432.9a3.9,3.9 0 1,0 7.8,0a3.9,3.9 0 1,0 -7.8,0M1537.9,429.1a3.9,3.9 0 1,0 7.8,0a3.9,3.9 0 1,0 -7.8,0M1539.1,418.8a3.9,3.9 0 1,0 7.8,0a3.9,3.9 0 1,0 -7.8,0M1540.5,424.1a3.9,3.9 0 1,0 7.8,0a3.9,3.9 0 1,0 -7.8,0M1545.1,426.1a3.9,3.9 0 1,0 7.8,0a3.9,3.9 0 1,0 -7.8,0M1545.9,429.1a3.9,3.9 0 1,0 7.8,0a3.9,3.9 0 1,0 -7.8,0M1546.9,432.7a3.9,3.9 0 1,0 7.8,0a3.9,3.9 0 1,0 -7.8,0M1549.5,428.5a3.9,3.9 0 1,0 7.8,0a3.9,3.9 0 1,0 -7.8,0M1550.1,431.0a3.9,3.9 0 1,0 7.8,0a3.9,3.9 0 1,0 -7.8,0M1551.5,436.7a3.9,3.9 0 1,0 7.8,0a3.9,3.9 0 1,0 -7.8,0M1554.6,425.4a3.9,3.9 0 1,0 7.8,0a3.9,3.9 0 1,0 -7.8,0M1555.7,421.9a3.9,3.9 0 1,0 7.8,0a3.9,3.9 0 1,0 -7.8,0M1556.4,421.5a3.9,3.9 0 1,0 7.8,0a3.9,3.9 0 1,0 -7.8,0M1556.9,434.6a3.9,3.9 0 1,0 7.8,0a3.9,3.9 0 1,0 -7.8,0M1557.9,429.4a3.9,3.9 0 1,0 7.8,0a3.9,3.9 0 1,0 -7.8,0M1559.4,417.3a3.9,3.9 0 1,0 7.8,0a3.9,3.9 0 1,0 -7.8,0M1560.2,428.7a3.9,3.9 0 1,0 7.8,0a3.9,3.9 0 1,0 -7.8,0M1562.7,429.6a3.9,3.9 0 1,0 7.8,0a3.9,3.9 0 1,0 -7.8,0M1563.1,438.4a3.9,3.9 0 1,0 7.8,0a3.9,3.9 0 1,0 -7.8,0M1564.2,430.5a3.9,3.9 0 1,0 7.8,0a3.9,3.9 0 1,0 -7.8,0M1565.1,433.3a3.9,3.9 0 1,0 7.8,0a3.9,3.9 0 1,0 -7.8,0M1567.3,429.8a3.9,3.9 0 1,0 7.8,0a3.9,3.9 0 1,0 -7.8,0M1569.7,428.1a3.9,3.9 0 1,0 7.8,0a3.9,3.9 0 1,0 -7.8,0M1574.8,429.9a3.9,3.9 0 1,0 7.8,0a3.9,3.9 0 1,0 -7.8,0M1576.6,432.9a3.9,3.9 0 1,0 7.8,0a3.9,3.9 0 1,0 -7.8,0M1577.4,423.1a3.9,3.9 0 1,0 7.8,0a3.9,3.9 0 1,0 -7.8,0M1579.2,420.6a3.9,3.9 0 1,0 7.8,0a3.9,3.9 0 1,0 -7.8,0M1580.4,434.1a3.9,3.9 0 1,0 7.8,0a3.9,3.9 0 1,0 -7.8,0M1583.1,425.5a3.9,3.9 0 1,0 7.8,0a3.9,3.9 0 1,0 -7.8,0M1587.0,420.7a3.9,3.9 0 1,0 7.8,0a3.9,3.9 0 1,0 -7.8,0M1591.2,425.1a3.9,3.9 0 1,0 7.8,0a3.9,3.9 0 1,0 -7.8,0M1595.7,418.8a3.9,3.9 0 1,0 7.8,0a3.9,3.9 0 1,0 -7.8,0M1596.6,430.3a3.9,3.9 0 1,0 7.8,0a3.9,3.9 0 1,0 -7.8,0M1600.2,416.3a3.9,3.9 0 1,0 7.8,0a3.9,3.9 0 1,0 -7.8,0M1602.0,426.2a3.9,3.9 0 1,0 7.8,0a3.9,3.9 0 1,0 -7.8,0M1603.5,428.3a3.9,3.9 0 1,0 7.8,0a3.9,3.9 0 1,0 -7.8,0M1605.0,416.2a3.9,3.9 0 1,0 7.8,0a3.9,3.9 0 1,0 -7.8,0M1606.2,409.7a3.9,3.9 0 1,0 7.8,0a3.9,3.9 0 1,0 -7.8,0M1606.7,429.0a3.9,3.9 0 1,0 7.8,0a3.9,3.9 0 1,0 -7.8,0M1608.6,428.8a3.9,3.9 0 1,0 7.8,0a3.9,3.9 0 1,0 -7.8,0M1608.8,425.2a3.9,3.9 0 1,0 7.8,0a3.9,3.9 0 1,0 -7.8,0M1614.6,434.8a3.9,3.9 0 1,0 7.8,0a3.9,3.9 0 1,0 -7.8,0M1616.3,429.3a3.9,3.9 0 1,0 7.8,0a3.9,3.9 0 1,0 -7.8,0M1616.8,427.0a3.9,3.9 0 1,0 7.8,0a3.9,3.9 0 1,0 -7.8,0M1619.8,426.2a3.9,3.9 0 1,0 7.8,0a3.9,3.9 0 1,0 -7.8,0M1621.9,433.3a3.9,3.9 0 1,0 7.8,0a3.9,3.9 0 1,0 -7.8,0M1623.4,416.7a3.9,3.9 0 1,0 7.8,0a3.9,3.9 0 1,0 -7.8,0M1624.0,425.0a3.9,3.9 0 1,0 7.8,0a3.9,3.9 0 1,0 -7.8,0M1625.7,413.1a3.9,3.9 0 1,0 7.8,0a3.9,3.9 0 1,0 -7.8,0M1626.8,417.5a3.9,3.9 0 1,0 7.8,0a3.9,3.9 0 1,0 -7.8,0M1628.6,417.2a3.9,3.9 0 1,0 7.8,0a3.9,3.9 0 1,0 -7.8,0M1630.1,416.4a3.9,3.9 0 1,0 7.8,0a3.9,3.9 0 1,0 -7.8,0M1632.7,429.5a3.9,3.9 0 1,0 7.8,0a3.9,3.9 0 1,0 -7.8,0M1635.1,420.2a3.9,3.9 0 1,0 7.8,0a3.9,3.9 0 1,0 -7.8,0M1638.7,432.6a3.9,3.9 0 1,0 7.8,0a3.9,3.9 0 1,0 -7.8,0M1642.8,425.8a3.9,3.9 0 1,0 7.8,0a3.9,3.9 0 1,0 -7.8,0M1643.9,421.5a3.9,3.9 0 1,0 7.8,0a3.9,3.9 0 1,0 -7.8,0M1645.0,422.2a3.9,3.9 0 1,0 7.8,0a3.9,3.9 0 1,0 -7.8,0M1645.8,415.2a3.9,3.9 0 1,0 7.8,0a3.9,3.9 0 1,0 -7.8,0M1647.3,426.6a3.9,3.9 0 1,0 7.8,0a3.9,3.9 0 1,0 -7.8,0M1648.1,420.8a3.9,3.9 0 1,0 7.8,0a3.9,3.9 0 1,0 -7.8,0M1649.4,428.4a3.9,3.9 0 1,0 7.8,0a3.9,3.9 0 1,0 -7.8,0M1650.8,430.8a3.9,3.9 0 1,0 7.8,0a3.9,3.9 0 1,0 -7.8,0M1651.7,414.1a3.9,3.9 0 1,0 7.8,0a3.9,3.9 0 1,0 -7.8,0M1653.6,431.8a3.9,3.9 0 1,0 7.8,0a3.9,3.9 0 1,0 -7.8,0M1655.9,415.0a3.9,3.9 0 1,0 7.8,0a3.9,3.9 0 1,0 -7.8,0M1657.9,427.3a3.9,3.9 0 1,0 7.8,0a3.9,3.9 0 1,0 -7.8,0M1660.5,427.7a3.9,3.9 0 1,0 7.8,0a3.9,3.9 0 1,0 -7.8,0M1661.6,426.4a3.9,3.9 0 1,0 7.8,0a3.9,3.9 0 1,0 -7.8,0M1662.7,415.5a3.9,3.9 0 1,0 7.8,0a3.9,3.9 0 1,0 -7.8,0M1664.6,435.2a3.9,3.9 0 1,0 7.8,0a3.9,3.9 0 1,0 -7.8,0M1667.9,421.3a3.9,3.9 0 1,0 7.8,0a3.9,3.9 0 1,0 -7.8,0M1673.0,429.5a3.9,3.9 0 1,0 7.8,0a3.9,3.9 0 1,0 -7.8,0M1675.1,420.0a3.9,3.9 0 1,0 7.8,0a3.9,3.9 0 1,0 -7.8,0M1676.3,427.5a3.9,3.9 0 1,0 7.8,0a3.9,3.9 0 1,0 -7.8,0M1677.6,429.5a3.9,3.9 0 1,0 7.8,0a3.9,3.9 0 1,0 -7.8,0M1679.6,429.2a3.9,3.9 0 1,0 7.8,0a3.9,3.9 0 1,0 -7.8,0M1681.0,421.4a3.9,3.9 0 1,0 7.8,0a3.9,3.9 0 1,0 -7.8,0M1689.5,416.4a3.9,3.9 0 1,0 7.8,0a3.9,3.9 0 1,0 -7.8,0M1696.7,433.2a3.9,3.9 0 1,0 7.8,0a3.9,3.9 0 1,0 -7.8,0M1697.7,424.2a3.9,3.9 0 1,0 7.8,0a3.9,3.9 0 1,0 -7.8,0M1700.5,426.3a3.9,3.9 0 1,0 7.8,0a3.9,3.9 0 1,0 -7.8,0M1702.1,426.3a3.9,3.9 0 1,0 7.8,0a3.9,3.9 0 1,0 -7.8,0M1711.6,427.1a3.9,3.9 0 1,0 7.8,0a3.9,3.9 0 1,0 -7.8,0M1713.6,413.6a3.9,3.9 0 1,0 7.8,0a3.9,3.9 0 1,0 -7.8,0M1714.9,412.9a3.9,3.9 0 1,0 7.8,0a3.9,3.9 0 1,0 -7.8,0M1717.2,432.9a3.9,3.9 0 1,0 7.8,0a3.9,3.9 0 1,0 -7.8,0M1718.3,419.0a3.9,3.9 0 1,0 7.8,0a3.9,3.9 0 1,0 -7.8,0M1719.8,426.9a3.9,3.9 0 1,0 7.8,0a3.9,3.9 0 1,0 -7.8,0M1721.3,422.5a3.9,3.9 0 1,0 7.8,0a3.9,3.9 0 1,0 -7.8,0M1727.9,432.5a3.9,3.9 0 1,0 7.8,0a3.9,3.9 0 1,0 -7.8,0M1736.3,414.3a3.9,3.9 0 1,0 7.8,0a3.9,3.9 0 1,0 -7.8,0M1738.3,432.9a3.9,3.9 0 1,0 7.8,0a3.9,3.9 0 1,0 -7.8,0M1740.7,427.1a3.9,3.9 0 1,0 7.8,0a3.9,3.9 0 1,0 -7.8,0M1744.3,423.5a3.9,3.9 0 1,0 7.8,0a3.9,3.9 0 1,0 -7.8,0M1751.2,435.7a3.9,3.9 0 1,0 7.8,0a3.9,3.9 0 1,0 -7.8,0M1752.4,438.4a3.9,3.9 0 1,0 7.8,0a3.9,3.9 0 1,0 -7.8,0M1755.4,424.1a3.9,3.9 0 1,0 7.8,0a3.9,3.9 0 1,0 -7.8,0M1756.7,434.0a3.9,3.9 0 1,0 7.8,0a3.9,3.9 0 1,0 -7.8,0M1759.3,433.4a3.9,3.9 0 1,0 7.8,0a3.9,3.9 0 1,0 -7.8,0M1765.2,431.3a3.9,3.9 0 1,0 7.8,0a3.9,3.9 0 1,0 -7.8,0M1765.6,428.8a3.9,3.9 0 1,0 7.8,0a3.9,3.9 0 1,0 -7.8,0M1774.6,434.0a3.9,3.9 0 1,0 7.8,0a3.9,3.9 0 1,0 -7.8,0M1779.2,431.9a3.9,3.9 0 1,0 7.8,0a3.9,3.9 0 1,0 -7.8,0M1786.3,433.2a3.9,3.9 0 1,0 7.8,0a3.9,3.9 0 1,0 -7.8,0M1787.4,429.8a3.9,3.9 0 1,0 7.8,0a3.9,3.9 0 1,0 -7.8,0M1793.5,434.0a3.9,3.9 0 1,0 7.8,0a3.9,3.9 0 1,0 -7.8,0M1796.4,430.8a3.9,3.9 0 1,0 7.8,0a3.9,3.9 0 1,0 -7.8,0M1805.1,434.4a3.9,3.9 0 1,0 7.8,0a3.9,3.9 0 1,0 -7.8,0M1824.4,433.0a3.9,3.9 0 1,0 7.8,0a3.9,3.9 0 1,0 -7.8,0M1830.8,432.2a3.9,3.9 0 1,0 7.8,0a3.9,3.9 0 1,0 -7.8,0M1839.8,430.4a3.9,3.9 0 1,0 7.8,0a3.9,3.9 0 1,0 -7.8,0M1843.1,423.6a3.9,3.9 0 1,0 7.8,0a3.9,3.9 0 1,0 -7.8,0M1844.7,436.0a3.9,3.9 0 1,0 7.8,0a3.9,3.9 0 1,0 -7.8,0M1845.7,415.2a3.9,3.9 0 1,0 7.8,0a3.9,3.9 0 1,0 -7.8,0M1852.5,423.1a3.9,3.9 0 1,0 7.8,0a3.9,3.9 0 1,0 -7.8,0M1855.4,429.1a3.9,3.9 0 1,0 7.8,0a3.9,3.9 0 1,0 -7.8,0M1861.3,428.5a3.9,3.9 0 1,0 7.8,0a3.9,3.9 0 1,0 -7.8,0M1865.0,415.8a3.9,3.9 0 1,0 7.8,0a3.9,3.9 0 1,0 -7.8,0M1865.9,416.8a3.9,3.9 0 1,0 7.8,0a3.9,3.9 0 1,0 -7.8,0M1866.2,424.6a3.9,3.9 0 1,0 7.8,0a3.9,3.9 0 1,0 -7.8,0M1867.4,424.1a3.9,3.9 0 1,0 7.8,0a3.9,3.9 0 1,0 -7.8,0M1869.5,421.1a3.9,3.9 0 1,0 7.8,0a3.9,3.9 0 1,0 -7.8,0M1874.4,431.1a3.9,3.9 0 1,0 7.8,0a3.9,3.9 0 1,0 -7.8,0M1875.6,435.3a3.9,3.9 0 1,0 7.8,0a3.9,3.9 0 1,0 -7.8,0M1884.0,427.5a3.9,3.9 0 1,0 7.8,0a3.9,3.9 0 1,0 -7.8,0M1890.4,430.1a3.9,3.9 0 1,0 7.8,0a3.9,3.9 0 1,0 -7.8,0M1891.9,424.5a3.9,3.9 0 1,0 7.8,0a3.9,3.9 0 1,0 -7.8,0M1892.6,417.6a3.9,3.9 0 1,0 7.8,0a3.9,3.9 0 1,0 -7.8,0M1897.2,421.5a3.9,3.9 0 1,0 7.8,0a3.9,3.9 0 1,0 -7.8,0M1900.6,420.8a3.9,3.9 0 1,0 7.8,0a3.9,3.9 0 1,0 -7.8,0M1914.0,433.7a3.9,3.9 0 1,0 7.8,0a3.9,3.9 0 1,0 -7.8,0M1915.2,422.2a3.9,3.9 0 1,0 7.8,0a3.9,3.9 0 1,0 -7.8,0M1919.7,413.8a3.9,3.9 0 1,0 7.8,0a3.9,3.9 0 1,0 -7.8,0M1928.3,425.9a3.9,3.9 0 1,0 7.8,0a3.9,3.9 0 1,0 -7.8,0M1934.9,420.0a3.9,3.9 0 1,0 7.8,0a3.9,3.9 0 1,0 -7.8,0" fill="#00ee00"/>
<path d="M1441.4,424.0a3.9,3.9 0 1,0 7.8,0a3.9,3.9 0 1,0 -7.8,0M1450.5,424.1a3.9,3.9 0 1,0 7.8,0a3.9,3.9 0 1,0 -7.8,0M1454.5,420.2a3.9,3.9 0 1,0 7.8,0a3.9,3.9 0 1,0 -7.8,0M1465.8,427.6a3.9,3.9 0 1,0 7.8,0a3.9,3.9 0 1,0 -7.8,0M1471.0,422.1a3.9,3.9 0 1,0 7.8,0a3.9,3.9 0 1,0 -7.8,0M1502.7,428.0a3.9,3.9 0 1,0 7.8,0a3.9,3.9 0 1,0 -7.8,0M1511.4,422.7a3.9,3.9 0 1,0 7.8,0a3.9,3.9 0 1,0 -7.8,0M1514.0,426.6a3.9,3.9 0 1,0 7.8,0a3.9,3.9 0 1,0 -7.8,0M1515.4,426.0a3.9,3.9 0 1,0 7.8,0a3.9,3.9 0 1,0 -7.8,0M1530.0,422.5a3.9,3.9 0 1,0 7.8,0a3.9,3.9 0 1,0 -7.8,0M1535.1,436.5a3.9,3.9 0 1,0 7.8,0a3.9,3.9 0 1,0 -7.8,0M1536.8,434.2a3.9,3.9 0 1,0 7.8,0a3.9,3.9 0 1,0 -7.8,0M1541.9,426.5a3.9,3.9 0 1,0 7.8,0a3.9,3.9 0 1,0 -7.8,0M1542.9,419.3a3.9,3.9 0 1,0 7.8,0a3.9,3.9 0 1,0 -7.8,0M1552.9,414.8a3.9,3.9 0 1,0 7.8,0a3.9,3.9 0 1,0 -7.8,0M1561.7,429.2a3.9,3.9 0 1,0 7.8,0a3.9,3.9 0 1,0 -7.8,0M1568.5,422.5a3.9,3.9 0 1,0 7.8,0a3.9,3.9 0 1,0 -7.8,0M1569.8,422.8a3.9,3.9 0 1,0 7.8,0a3.9,3.9 0 1,0 -7.8,0M1571.5,423.1a3.9,3.9 0 1,0 7.8,0a3.9,3.9 0 1,0 -7.8,0M1573.6,425.3a3.9,3.9 0 1,0 7.8,0a3.9,3.9 0 1,0 -7.8,0M1574.6,423.9a3.9,3.9 0 1,0 7.8,0a3.9,3.9 0 1,0 -7.8,0M1581.9,421.0a3.9,3.9 0 1,0 7.8,0a3.9,3.9 0 1,0 -7.8,0M1584.3,420.1a3.9,3.9 0 1,0 7.8,0a3.9,3.9 0 1,0 -7.8,0M1590.4,422.2a3.9,3.9 0 1,0 7.8,0a3.9,3.9 0 1,0 -7.8,0M1593.7,430.5a3.9,3.9 0 1,0 7.8,0a3.9,3.9 0 1,0 -7.8,0M1597.2,431.8a3.9,3.9 0 1,0 7.8,0a3.9,3.9 0 1,0 -7.8,0M1599.6,425.2a3.9,3.9 0 1,0 7.8,0a3.9,3.9 0 1,0 -7.8,0M1603.8,418.2a3.9,3.9 0 1,0 7.8,0a3.9,3.9 0 1,0 -7.8,0M1610.5,416.8a3.9,3.9 0 1,0 7.8,0a3.9,3.9 0 1,0 -7.8,0M1611.2,414.5a3.9,3.9 0 1,0 7.8,0a3.9,3.9 0 1,0 -7.8,0M1613.4,426.1a3.9,3.9 0 1,0 7.8,0a3.9,3.9 0 1,0 -7.8,0M1614.9,427.8a3.9,3.9 0 1,0 7.8,0a3.9,3.9 0 1,0 -7.8,0M1618.9,425.4a3.9,3.9 0 1,0 7.8,0a3.9,3.9 0 1,0 -7.8,0M1628.1,426.9a3.9,3.9 0 1,0 7.8,0a3.9,3.9 0 1,0 -7.8,0M1632.4,415.2a3.9,3.9 0 1,0 7.8,0a3.9,3.9 0 1,0 -7.8,0M1634.5,422.0a3.9,3.9 0 1,0 7.8,0a3.9,3.9 0 1,0 -7.8,0M1637.5,429.8a3.9,3.9 0 1,0 7.8,0a3.9,3.9 0 1,0 -7.8,0M1637.8,432.2a3.9,3.9 0 1,0 7.8,0a3.9,3.9 0 1,0 -7.8,0M1639.8,427.1a3.9,3.9 0 1,0 7.8,0a3.9,3.9 0 1,0 -7.8,0M1642.5,426.0a3.9,3.9 0 1,0 7.8,0a3.9,3.9 0 1,0 -7.8,0M1649.9,420.3a3.9,3.9 0 1,0 7.8,0a3.9,3.9 0 1,0 -7.8,0M1655.4,416.3a3.9,3.9 0 1,0 7.8,0a3.9,3.9 0 1,0 -7.8,0M1656.6,420.6a3.9,3.9 0 1,0 7.8,0a3.9,3.9 0 1,0 -7.8,0M1660.9,430.3a3.9,3.9 0 1,0 7.8,0a3.9,3.9 0 1,0 -7.8,0M1664.0,435.7a3.9,3.9 0 1,0 7.8,0a3.9,3.9 0 1,0 -7.8,0M1666.3,429.3a3.9,3.9 0 1,0 7.8,0a3.9,3.9 0 1,0 -7.8,0M1667.5,429.1a3.9,3.9 0 1,0 7.8,0a3.9,3.9 0 1,0 -7.8,0M1670.2,415.6a3.9,3.9 0 1,0 7.8,0a3.9,3.9 0 1,0 -7.8,0M1672.5,425.8a3.9,3.9 0 1,0 7.8,0a3.9,3.9 0 1,0 -7.8,0M1674.3,430.9a3.9,3.9 0 1,0 7.8,0a3.9,3.9 0 1,0 -7.8,0M1679.5,428.1a3.9,3.9 0 1,0 7.8,0a3.9,3.9 0 1,0 -7.8,0M1682.2,423.2a3.9,3.9 0 1,0 7.8,0a3.9,3.9 0 1,0 -7.8,0M1682.6,422.4a3.9,3.9 0 1,0 7.8,0a3.9,3.9 0 1,0 -7.8,0M1683.9,424.2a3.9,3.9 0 1,0 7.8,0a3.9,3.9 0 1,0 -7.8,0M1685.7,431.4a3.9,3.9 0 1,0 7.8,0a3.9,3.9 0 1,0 -7.8,0M1686.9,430.1a3.9,3.9 0 1,0 7.8,0a3.9,3.9 0 1,0 -7.8,0M1688.3,431.6a3.9,3.9 0 1,0 7.8,0a3.9,3.9 0 1,0 -7.8,0M1689.0,434.1a3.9,3.9 0 1,0 7.8,0a3.9,3.9 0 1,0 -7.8,0M1693.4,425.6a3.9,3.9 0 1,0 7.8,0a3.9,3.9 0 1,0 -7.8,0M1693.7,428.1a3.9,3.9 0 1,0 7.8,0a3.9,3.9 0 1,0 -7.8,0M1695.1,434.0a3.9,3.9 0 1,0 7.8,0a3.9,3.9 0 1,0 -7.8,0M1698.7,423.6a3.9,3.9 0 1,0 7.8,0a3.9,3.9 0 1,0 -7.8,0M1703.7,428.8a3.9,3.9 0 1,0 7.8,0a3.9,3.9 0 1,0 -7.8,0M1705.0,430.4a3.9,3.9 0 1,0 7.8,0a3.9,3.9 0 1,0 -7.8,0M1706.5,418.4a3.9,3.9 0 1,0 7.8,0a3.9,3.9 0 1,0 -7.8,0M1707.5,432.1a3.9,3.9 0 1,0 7.8,0a3.9,3.9 0 1,0 -7.8,0M1708.9,419.9a3.9,3.9 0 1,0 7.8,0a3.9,3.9 0 1,0 -7.8,0M1709.5,432.8a3.9,3.9 0 1,0 7.8,0a3.9,3.9 0 1,0 -7.8,0M1710.5,416.6a3.9,3.9 0 1,0 7.8,0a3.9,3.9 0 1,0 -7.8,0M1712.6,415.9a3.9,3.9 0 1,0 7.8,0a3.9,3.9 0 1,0 -7.8,0M1716.3,429.1a3.9,3.9 0 1,0 7.8,0a3.9,3.9 0 1,0 -7.8,0M1721.5,421.6a3.9,3.9 0 1,0 7.8,0a3.9,3.9 0 1,0 -7.8,0M1724.1,426.3a3.9,3.9 0 1,0 7.8,0a3.9,3.9 0 1,0 -7.8,0M1724.8,425.6a3.9,3.9 0 1,0 7.8,0a3.9,3.9 0 1,0 -7.8,0M1725.4,428.3a3.9,3.9 0 1,0 7.8,0a3.9,3.9 0 1,0 -7.8,0M1727.2,431.6a3.9,3.9 0 1,0 7.8,0a3.9,3.9 0 1,0 -7.8,0M1729.9,434.4a3.9,3.9 0 1,0 7.8,0a3.9,3.9 0 1,0 -7.8,0M1732.1,434.6a3.9,3.9 0 1,0 7.8,0a3.9,3.9 0 1,0 -7.8,0M1732.9,435.5a3.9,3.9 0 1,0 7.8,0a3.9,3.9 0 1,0 -7.8,0M1734.3,433.4a3.9,3.9 0 1,0 7.8,0a3.9,3.9 0 1,0 -7.8,0M1734.6,420.0a3.9,3.9 0 1,0 7.8,0a3.9,3.9 0 1,0 -7.8,0M1736.5,415.7a3.9,3.9 0 1,0 7.8,0a3.9,3.9 0 1,0 -7.8,0M1738.9,433.2a3.9,3.9 0 1,0 7.8,0a3.9,3.9 0 1,0 -7.8,0M1744.9,433.8a3.9,3.9 0 1,0 7.8,0a3.9,3.9 0 1,0 -7.8,0M1745.9,418.1a3.9,3.9 0 1,0 7.8,0a3.9,3.9 0 1,0 -7.8,0M1747.4,434.1a3.9,3.9 0 1,0 7.8,0a3.9,3.9 0 1,0 -7.8,0M1747.6,420.5a3.9,3.9 0 1,0 7.8,0a3.9,3.9 0 1,0 -7.8,0M1749.1,429.6a3.9,3.9 0 1,0 7.8,0a3.9,3.9 0 1,0 -7.8,0M1752.0,412.1a3.9,3.9 0 1,0 7.8,0a3.9,3.9 0 1,0 -7.8,0M1753.9,428.4a3.9,3.9 0 1,0 7.8,0a3.9,3.9 0 1,0 -7.8,0M1757.6,425.5a3.9,3.9 0 1,0 7.8,0a3.9,3.9 0 1,0 -7.8,0M1762.1,418.2a3.9,3.9 0 1,0 7.8,0a3.9,3.9 0 1,0 -7.8,0M1763.0,437.4a3.9,3.9 0 1,0 7.8,0a3.9,3.9 0 1,0 -7.8,0M1763.8,424.3a3.9,3.9 0 1,0 7.8,0a3.9,3.9 0 1,0 -7.8,0M1766.9,437.3a3.9,3.9 0 1,0 7.8,0a3.9,3.9 0 1,0 -7.8,0M1770.0,427.1a3.9,3.9 0 1,0 7.8,0a3.9,3.9 0 1,0 -7.8,0M1771.4,430.6a3.9,3.9 0 1,0 7.8,0a3.9,3.9 0 1,0 -7.8,0M1772.3,422.7a3.9,3.9 0 1,0 7.8,0a3.9,3.9 0 1,0 -7.8,0M1774.1,427.8a3.9,3.9 0 1,0 7.8,0a3.9,3.9 0 1,0 -7.8,0M1776.0,421.8a3.9,3.9 0 1,0 7.8,0a3.9,3.9 0 1,0 -7.8,0M1776.9,431.1a3.9,3.9 0 1,0 7.8,0a3.9,3.9 0 1,0 -7.8,0M1777.6,426.8a3.9,3.9 0 1,0 7.8,0a3.9,3.9 0 1,0 -7.8,0M1780.1,431.5a3.9,3.9 0 1,0 7.8,0a3.9,3.9 0 1,0 -7.8,0M1781.2,430.1a3.9,3.9 0 1,0 7.8,0a3.9,3.9 0 1,0 -7.8,0M1781.9,416.7a3.9,3.9 0 1,0 7.8,0a3.9,3.9 0 1,0 -7.8,0M1782.8,412.6a3.9,3.9 0 1,0 7.8,0a3.9,3.9 0 1,0 -7.8,0M1783.7,418.6a3.9,3.9 0 1,0 7.8,0a3.9,3.9 0 1,0 -7.8,0M1784.5,430.4a3.9,3.9 0 1,0 7.8,0a3.9,3.9 0 1,0 -7.8,0M1790.0,424.6a3.9,3.9 0 1,0 7.8,0a3.9,3.9 0 1,0 -7.8,0M1792.1,429.6a3.9,3.9 0 1,0 7.8,0a3.9,3.9 0 1,0 -7.8,0M1793.2,435.1a3.9,3.9 0 1,0 7.8,0a3.9,3.9 0 1,0 -7.8,0M1795.9,420.1a3.9,3.9 0 1,0 7.8,0a3.9,3.9 0 1,0 -7.8,0M1797.6,432.1a3.9,3.9 0 1,0 7.8,0a3.9,3.9 0 1,0 -7.8,0M1800.0,430.8a3.9,3.9 0 1,0 7.8,0a3.9,3.9 0 1,0 -7.8,0M1800.8,413.8a3.9,3.9 0 1,0 7.8,0a3.9,3.9 0 1,0 -7.8,0M1801.7,436.3a3.9,3.9 0 1,0 7.8,0a3.9,3.9 0 1,0 -7.8,0M1803.0,429.8a3.9,3.9 0 1,0 7.8,0a3.9,3.9 0 1,0 -7.8,0M1807.3,412.7a3.9,3.9 0 1,0 7.8,0a3.9,3.9 0 1,0 -7.8,0M1808.4,420.6a3.9,3.9 0 1,0 7.8,0a3.9,3.9 0 1,0 -7.8,0M1809.5,419.5a3.9,3.9 0 1,0 7.8,0a3.9,3.9 0 1,0 -7.8,0M1810.9,431.9a3.9,3.9 0 1,0 7.8,0a3.9,3.9 0 1,0 -7.8,0M1813.0,434.7a3.9,3.9 0 1,0 7.8,0a3.9,3.9 0 1,0 -7.8,0M1813.6,424.7a3.9,3.9 0 1,0 7.8,0a3.9,3.9 0 1,0 -7.8,0M1814.3,417.4a3.9,3.9 0 1,0 7.8,0a3.9,3.9 0 1,0 -7.8,0M1817.7,417.0a3.9,3.9 0 1,0 7.8,0a3.9,3.9 0 1,0 -7.8,0M1818.7,431.6a3.9,3.9 0 1,0 7.8,0a3.9,3.9 0 1,0 -7.8,0M1819.9,421.7a3.9,3.9 0 1,0 7.8,0a3.9,3.9 0 1,0 -7.8,0M1821.1,433.0a3.9,3.9 0 1,0 7.8,0a3.9,3.9 0 1,0 -7.8,0M1821.7,432.7a3.9,3.9 0 1,0 7.8,0a3.9,3.9 0 1,0 -7.8,0M1822.7,433.6a3.9,3.9 0 1,0 7.8,0a3.9,3.9 0 1,0 -7.8,0M1823.5,432.3a3.9,3.9 0 1,0 7.8,0a3.9,3.9 0 1,0 -7.8,0M1825.4,426.8a3.9,3.9 0 1,0 7.8,0a3.9,3.9 0 1,0 -7.8,0M1827.3,422.4a3.9,3.9 0 1,0 7.8,0a3.9,3.9 0 1,0 -7.8,0M1830.0,412.2a3.9,3.9 0 1,0 7.8,0a3.9,3.9 0 1,0 -7.8,0M1832.6,436.2a3.9,3.9 0 1,0 7.8,0a3.9,3.9 0 1,0 -7.8,0M1833.8,427.2a3.9,3.9 0 1,0 7.8,0a3.9,3.9 0 1,0 -7.8,0M1835.9,428.9a3.9,3.9 0 1,0 7.8,0a3.9,3.9 0 1,0 -7.8,0M1836.9,425.8a3.9,3.9 0 1,0 7.8,0a3.9,3.9 0 1,0 -7.8,0M1838.1,422.5a3.9,3.9 0 1,0 7.8,0a3.9,3.9 0 1,0 -7.8,0M1838.9,418.8a3.9,3.9 0 1,0 7.8,0a3.9,3.9 0 1,0 -7.8,0M1840.9,421.0a3.9,3.9 0 1,0 7.8,0a3.9,3.9 0 1,0 -7.8,0M1841.6,428.5a3.9,3.9 0 1,0 7.8,0a3.9,3.9 0 1,0 -7.8,0M1843.6,421.1a3.9,3.9 0 1,0 7.8,0a3.9,3.9 0 1,0 -7.8,0M1846.9,426.4a3.9,3.9 0 1,0 7.8,0a3.9,3.9 0 1,0 -7.8,0M1847.7,419.6a3.9,3.9 0 1,0 7.8,0a3.9,3.9 0 1,0 -7.8,0M1848.9,432.0a3.9,3.9 0 1,0 7.8,0a3.9,3.9 0 1,0 -7.8,0M1850.2,433.6a3.9,3.9 0 1,0 7.8,0a3.9,3.9 0 1,0 -7.8,0M1851.2,429.0a3.9,3.9 0 1,0 7.8,0a3.9,3.9 0 1,0 -7.8,0M1854.1,422.0a3.9,3.9 0 1,0 7.8,0a3.9,3.9 0 1,0 -7.8,0M1856.8,420.2a3.9,3.9 0 1,0 7.8,0a3.9,3.9 0 1,0 -7.8,0M1858.1,431.7a3.9,3.9 0 1,0 7.8,0a3.9,3.9 0 1,0 -7.8,0M1859.0,419.9a3.9,3.9 0 1,0 7.8,0a3.9,3.9 0 1,0 -7.8,0M1859.3,426.3a3.9,3.9 0 1,0 7.8,0a3.9,3.9 0 1,0 -7.8,0M1860.4,418.9a3.9,3.9 0 1,0 7.8,0a3.9,3.9 0 1,0 -7.8,0M1862.4,430.8a3.9,3.9 0 1,0 7.8,0a3.9,3.9 0 1,0 -7.8,0M1863.8,428.5a3.9,3.9 0 1,0 7.8,0a3.9,3.9 0 1,0 -7.8,0M1870.3,420.7a3.9,3.9 0 1,0 7.8,0a3.9,3.9 0 1,0 -7.8,0M1871.8,421.0a3.9,3.9 0 1,0 7.8,0a3.9,3.9 0 1,0 -7.8,0M1872.3,419.3a3.9,3.9 0 1,0 7.8,0a3.9,3.9 0 1,0 -7.8,0M1873.6,422.0a3.9,3.9 0 1,0 7.8,0a3.9,3.9 0 1,0 -7.8,0M1876.7,427.2a3.9,3.9 0 1,0 7.8,0a3.9,3.9 0 1,0 -7.8,0M1878.7,427.8a3.9,3.9 0 1,0 7.8,0a3.9,3.9 0 1,0 -7.8,0M1879.5,429.4a3.9,3.9 0 1,0 7.8,0a3.9,3.9 0 1,0 -7.8,0M1881.1,424.5a3.9,3.9 0 1,0 7.8,0a3.9,3.9 0 1,0 -7.8,0M1882.4,415.6a3.9,3.9 0 1,0 7.8,0a3.9,3.9 0 1,0 -7.8,0M1884.4,424.7a3.9,3.9 0 1,0 7.8,0a3.9,3.9 0 1,0 -7.8,0M1885.6,427.7a3.9,3.9 0 1,0 7.8,0a3.9,3.9 0 1,0 -7.8,0M1887.7,428.6a3.9,3.9 0 1,0 7.8,0a3.9,3.9 0 1,0 -7.8,0M1888.5,419.6a3.9,3.9 0 1,0 7.8,0a3.9,3.9 0 1,0 -7.8,0M1890.1,427.1a3.9,3.9 0 1,0 7.8,0a3.9,3.9 0 1,0 -7.8,0M1893.3,437.8a3.9,3.9 0 1,0 7.8,0a3.9,3.9 0 1,0 -7.8,0M1894.9,424.0a3.9,3.9 0 1,0 7.8,0a3.9,3.9 0 1,0 -7.8,0M1895.7,424.9a3.9,3.9 0 1,0 7.8,0a3.9,3.9 0 1,0 -7.8,0M1896.3,423.5a3.9,3.9 0 1,0 7.8,0a3.9,3.9 0 1,0 -7.8,0M1899.7,416.5a3.9,3.9 0 1,0 7.8,0a3.9,3.9 0 1,0 -7.8,0M1901.4,428.6a3.9,3.9 0 1,0 7.8,0a3.9,3.9 0 1,0 -7.8,0M1902.1,415.5a3.9,3.9 0 1,0 7.8,0a3.9,3.9 0 1,0 -7.8,0M1906.0,425.8a3.9,3.9 0 1,0 7.8,0a3.9,3.9 0 1,0 -7.8,0M1908.0,425.4a3.9,3.9 0 1,0 7.8,0a3.9,3.9 0 1,0 -7.8,0M1908.2,428.7a3.9,3.9 0 1,0 7.8,0a3.9,3.9 0 1,0 -7.8,0M1914.1,433.5a3.9,3.9 0 1,0 7.8,0a3.9,3.9 0 1,0 -7.8,0M1916.9,422.7a3.9,3.9 0 1,0 7.8,0a3.9,3.9 0 1,0 -7.8,0M1918.5,422.8a3.9,3.9 0 1,0 7.8,0a3.9,3.9 0 1,0 -7.8,0M1921.1,419.9a3.9,3.9 0 1,0 7.8,0a3.9,3.9 0 1,0 -7.8,0M1922.9,432.8a3.9,3.9 0 1,0 7.8,0a3.9,3.9 0 1,0 -7.8,0M1924.5,425.8a3.9,3.9 0 1,0 7.8,0a3.9,3.9 0 1,0 -7.8,0M1926.7,429.6a3.9,3.9 0 1,0 7.8,0a3.9,3.9 0 1,0 -7.8,0M1927.8,429.2a3.9,3.9 0 1,0 7.8,0a3.9,3.9 0 1,0 -7.8,0M1929.8,423.0a3.9,3.9 0 1,0 7.8,0a3.9,3.9 0 1,0 -7.8,0M1930.8,412.8a3.9,3.9 0 1,0 7.8,0a3.9,3.9 0 1,0 -7.8,0M1931.9,428.5a3.9,3.9 0 1,0 7.8,0a3.9,3.9 0 1,0 -7.8,0M1932.9,425.2a3.9,3.9 0 1,0 7.8,0a3.9,3.9 0 1,0 -7.8,0M1933.3,438.4a3.9,3.9 0 1,0 7.8,0a3.9,3.9 0 1,0 -7.8,0" fill="#ff0000"/>
<path d="M1444.3,346.4a3.9,3.9 0 1,0 7.8,0a3.9,3.9 0 1,0 -7.8,0M1467.5,358.0a3.9,3.9 0 1,0 7.8,0a3.9,3.9 0 1,0 -7.8,0M1471.5,355.9a3.9,3.9 0 1,0 7.8,0a3.9,3.9 0 1,0 -7.8,0M1523.3,315.5a3.9,3.9 0 1,0 7.8,0a3.9,3.9 0 1,0 -7.8,0M1583.1,316.4a3.9,3.9 0 1,0 7.8,0a3.9,3.9 0 1,0 -7.8,0M1561.4,341.6a3.9,3.9 0 1,0 7.8,0a3.9,3.9 0 1,0 -7.8,0M1520.5,360.7a3.9,3.9 0 1,0 7.8,0a3.9,3.9 0 1,0 -7.8,0M1494.7,376.7a3.9,3.9 0 1,0 7.8,0a3.9,3.9 0 1,0 -7.8,0M1536.9,373.6a3.9,3.9 0 1,0 7.8,0a3.9,3.9 0 1,0 -7.8,0M1609.7,376.7a3.9,3.9 0 1,0 7.8,0a3.9,3.9 0 1,0 -7.8,0M1625.3,371.6a3.9,3.9 0 1,0 7.8,0a3.9,3.9 0 1,0 -7.8,0M1621.2,381.1a3.9,3.9 0 1,0 7.8,0a3.9,3.9 0 1,0 -7.8,0M1647.1,372.9a3.9,3.9 0 1,0 7.8,0a3.9,3.9 0 1,0 -7.8,0M1654.6,372.2a3.9,3.9 0 1,0 7.8,0a3.9,3.9 0 1,0 -7.8,0M1653.9,381.8a3.9,3.9 0 1,0 7.8,0a3.9,3.9 0 1,0 -7.8,0M1582.5,384.5a3.9,3.9 0 1,0 7.8,0a3.9,3.9 0 1,0 -7.8,0M1591.3,391.3a3.9,3.9 0 1,0 7.8,0a3.9,3.9 0 1,0 -7.8,0M1611.7,389.9a3.9,3.9 0 1,0 7.8,0a3.9,3.9 0 1,0 -7.8,0M1601.5,393.3a3.9,3.9 0 1,0 7.8,0a3.9,3.9 0 1,0 -7.8,0M1600.8,398.8a3.9,3.9 0 1,0 7.8,0a3.9,3.9 0 1,0 -7.8,0M1626.7,395.4a3.9,3.9 0 1,0 7.8,0a3.9,3.9 0 1,0 -7.8,0M1641.7,400.1a3.9,3.9 0 1,0 7.8,0a3.9,3.9 0 1,0 -7.8,0M1614.4,401.5a3.9,3.9 0 1,0 7.8,0a3.9,3.9 0 1,0 -7.8,0M1662.1,391.3a3.9,3.9 0 1,0 7.8,0a3.9,3.9 0 1,0 -7.8,0M1666.1,396.7a3.9,3.9 0 1,0 7.8,0a3.9,3.9 0 1,0 -7.8,0M1670.2,398.8a3.9,3.9 0 1,0 7.8,0a3.9,3.9 0 1,0 -7.8,0M1684.5,365.4a3.9,3.9 0 1,0 7.8,0a3.9,3.9 0 1,0 -7.8,0M1683.2,375.0a3.9,3.9 0 1,0 7.8,0a3.9,3.9 0 1,0 -7.8,0M1683.8,384.5a3.9,3.9 0 1,0 7.8,0a3.9,3.9 0 1,0 -7.8,0M1439.6,391.3a3.9,3.9 0 1,0 7.8,0a3.9,3.9 0 1,0 -7.8,0M1446.4,387.9a3.9,3.9 0 1,0 7.8,0a3.9,3.9 0 1,0 -7.8,0M1450.4,394.7a3.9,3.9 0 1,0 7.8,0a3.9,3.9 0 1,0 -7.8,0M1440.9,394.7a3.9,3.9 0 1,0 7.8,0a3.9,3.9 0 1,0 -7.8,0M1492.0,393.3a3.9,3.9 0 1,0 7.8,0a3.9,3.9 0 1,0 -7.8,0M1483.8,396.7a3.9,3.9 0 1,0 7.8,0a3.9,3.9 0 1,0 -7.8,0M1506.2,390.6a3.9,3.9 0 1,0 7.8,0a3.9,3.9 0 1,0 -7.8,0M1517.1,389.3a3.9,3.9 0 1,0 7.8,0a3.9,3.9 0 1,0 -7.8,0M1512.4,396.1a3.9,3.9 0 1,0 7.8,0a3.9,3.9 0 1,0 -7.8,0M1527.3,389.9a3.9,3.9 0 1,0 7.8,0a3.9,3.9 0 1,0 -7.8,0M1546.4,398.8a3.9,3.9 0 1,0 7.8,0a3.9,3.9 0 1,0 -7.8,0M1553.9,400.1a3.9,3.9 0 1,0 7.8,0a3.9,3.9 0 1,0 -7.8,0M1569.5,396.7a3.9,3.9 0 1,0 7.8,0a3.9,3.9 0 1,0 -7.8,0M1578.4,398.8a3.9,3.9 0 1,0 7.8,0a3.9,3.9 0 1,0 -7.8,0M1581.1,403.5a3.9,3.9 0 1,0 7.8,0a3.9,3.9 0 1,0 -7.8,0M1570.9,405.6a3.9,3.9 0 1,0 7.8,0a3.9,3.9 0 1,0 -7.8,0M1459.3,407.6a3.9,3.9 0 1,0 7.8,0a3.9,3.9 0 1,0 -7.8,0M1468.1,405.6a3.9,3.9 0 1,0 7.8,0a3.9,3.9 0 1,0 -7.8,0M1502.2,406.3a3.9,3.9 0 1,0 7.8,0a3.9,3.9 0 1,0 -7.8,0M1515.1,409.7a3.9,3.9 0 1,0 7.8,0a3.9,3.9 0 1,0 -7.8,0M1529.4,408.3a3.9,3.9 0 1,0 7.8,0a3.9,3.9 0 1,0 -7.8,0M1561.4,410.4a3.9,3.9 0 1,0 7.8,0a3.9,3.9 0 1,0 -7.8,0M1637.6,409.0a3.9,3.9 0 1,0 7.8,0a3.9,3.9 0 1,0 -7.8,0M1628.0,411.0a3.9,3.9 0 1,0 7.8,0a3.9,3.9 0 1,0 -7.8,0M1644.4,413.8a3.9,3.9 0 1,0 7.8,0a3.9,3.9 0 1,0 -7.8,0M1658.0,413.8a3.9,3.9 0 1,0 7.8,0a3.9,3.9 0 1,0 -7.8,0M1679.8,411.7a3.9,3.9 0 1,0 7.8,0a3.9,3.9 0 1,0 -7.8,0M1592.7,405.6a3.9,3.9 0 1,0 7.8,0a3.9,3.9 0 1,0 -7.8,0M1594.0,401.5a3.9,3.9 0 1,0 7.8,0a3.9,3.9 0 1,0 -7.8,0M1785.7,287.4a3.9,3.9 0 1,0 7.8,0a3.9,3.9 0 1,0 -7.8,0M1888.2,280.8a3.9,3.9 0 1,0 7.8,0a3.9,3.9 0 1,0 -7.8,0M1778.8,324.1a3.9,3.9 0 1,0 7.8,0a3.9,3.9 0 1,0 -7.8,0M1800.5,325.5a3.9,3.9 0 1,0 7.8,0a3.9,3.9 0 1,0 -7.8,0M1704.9,344.8a3.9,3.9 0 1,0 7.8,0a3.9,3.9 0 1,0 -7.8,0M1717.8,363.1a3.9,3.9 0 1,0 7.8,0a3.9,3.9 0 1,0 -7.8,0M1686.9,365.4a3.9,3.9 0 1,0 7.8,0a3.9,3.9 0 1,0 -7.8,0M1730.6,368.8a3.9,3.9 0 1,0 7.8,0a3.9,3.9 0 1,0 -7.8,0M1737.5,377.4a3.9,3.9 0 1,0 7.8,0a3.9,3.9 0 1,0 -7.8,0M1763.7,382.3a3.9,3.9 0 1,0 7.8,0a3.9,3.9 0 1,0 -7.8,0M1802.9,386.0a3.9,3.9 0 1,0 7.8,0a3.9,3.9 0 1,0 -7.8,0M1812.5,388.1a3.9,3.9 0 1,0 7.8,0a3.9,3.9 0 1,0 -7.8,0M1867.6,377.8a3.9,3.9 0 1,0 7.8,0a3.9,3.9 0 1,0 -7.8,0M1875.1,376.4a3.9,3.9 0 1,0 7.8,0a3.9,3.9 0 1,0 -7.8,0M1850.4,391.6a3.9,3.9 0 1,0 7.8,0a3.9,3.9 0 1,0 -7.8,0M1881.3,389.8a3.9,3.9 0 1,0 7.8,0a3.9,3.9 0 1,0 -7.8,0M1858.6,395.7a3.9,3.9 0 1,0 7.8,0a3.9,3.9 0 1,0 -7.8,0M1899.9,395.7a3.9,3.9 0 1,0 7.8,0a3.9,3.9 0 1,0 -7.8,0M1906.1,392.5a3.9,3.9 0 1,0 7.8,0a3.9,3.9 0 1,0 -7.8,0M1908.2,402.6a3.9,3.9 0 1,0 7.8,0a3.9,3.9 0 1,0 -7.8,0M1920.5,401.2a3.9,3.9 0 1,0 7.8,0a3.9,3.9 0 1,0 -7.8,0M1917.1,402.6a3.9,3.9 0 1,0 7.8,0a3.9,3.9 0 1,0 -7.8,0M1723.5,390.2a3.9,3.9 0 1,0 7.8,0a3.9,3.9 0 1,0 -7.8,0M1713.4,397.1a3.9,3.9 0 1,0 7.8,0a3.9,3.9 0 1,0 -7.8,0M1718.3,397.1a3.9,3.9 0 1,0 7.8,0a3.9,3.9 0 1,0 -7.8,0M1732.0,393.6a3.9,3.9 0 1,0 7.8,0a3.9,3.9 0 1,0 -7.8,0M1745.8,394.3a3.9,3.9 0 1,0 7.8,0a3.9,3.9 0 1,0 -7.8,0M1753.3,397.7a3.9,3.9 0 1,0 7.8,0a3.9,3.9 0 1,0 -7.8,0M1759.5,393.6a3.9,3.9 0 1,0 7.8,0a3.9,3.9 0 1,0 -7.8,0M1738.2,401.2a3.9,3.9 0 1,0 7.8,0a3.9,3.9 0 1,0 -7.8,0M1773.3,395.7a3.9,3.9 0 1,0 7.8,0a3.9,3.9 0 1,0 -7.8,0M1783.6,397.7a3.9,3.9 0 1,0 7.8,0a3.9,3.9 0 1,0 -7.8,0M1786.4,401.9a3.9,3.9 0 1,0 7.8,0a3.9,3.9 0 1,0 -7.8,0M1792.6,405.3a3.9,3.9 0 1,0 7.8,0a3.9,3.9 0 1,0 -7.8,0M1803.6,396.4a3.9,3.9 0 1,0 7.8,0a3.9,3.9 0 1,0 -7.8,0M1805.6,402.6a3.9,3.9 0 1,0 7.8,0a3.9,3.9 0 1,0 -7.8,0M1817.3,405.3a3.9,3.9 0 1,0 7.8,0a3.9,3.9 0 1,0 -7.8,0M1824.2,409.4a3.9,3.9 0 1,0 7.8,0a3.9,3.9 0 1,0 -7.8,0M1856.6,402.6a3.9,3.9 0 1,0 7.8,0a3.9,3.9 0 1,0 -7.8,0M1864.1,406.0a3.9,3.9 0 1,0 7.8,0a3.9,3.9 0 1,0 -7.8,0M1771.9,405.3a3.9,3.9 0 1,0 7.8,0a3.9,3.9 0 1,0 -7.8,0M1762.3,406.0a3.9,3.9 0 1,0 7.8,0a3.9,3.9 0 1,0 -7.8,0M1736.1,408.1a3.9,3.9 0 1,0 7.8,0a3.9,3.9 0 1,0 -7.8,0M1727.9,406.0a3.9,3.9 0 1,0 7.8,0a3.9,3.9 0 1,0 -7.8,0M1758.2,411.5a3.9,3.9 0 1,0 7.8,0a3.9,3.9 0 1,0 -7.8,0M1744.4,412.9a3.9,3.9 0 1,0 7.8,0a3.9,3.9 0 1,0 -7.8,0M1848.3,409.4a3.9,3.9 0 1,0 7.8,0a3.9,3.9 0 1,0 -7.8,0" fill="#00ee00"/>
<path d="M1476.3,253.4a3.9,3.9 0 1,0 7.8,0a3.9,3.9 0 1,0 -7.8,0M1479.0,299.2a3.9,3.9 0 1,0 7.8,0a3.9,3.9 0 1,0 -7.8,0M1668.9,303.8a3.9,3.9 0 1,0 7.8,0a3.9,3.9 0 1,0 -7.8,0M1675.7,343.3a3.9,3.9 0 1,0 7.8,0a3.9,3.9 0 1,0 -7.8,0M1617.8,355.5a3.9,3.9 0 1,0 7.8,0a3.9,3.9 0 1,0 -7.8,0M1670.9,361.4a3.9,3.9 0 1,0 7.8,0a3.9,3.9 0 1,0 -7.8,0M1570.2,379.1a3.9,3.9 0 1,0 7.8,0a3.9,3.9 0 1,0 -7.8,0M1465.4,379.7a3.9,3.9 0 1,0 7.8,0a3.9,3.9 0 1,0 -7.8,0M1456.6,386.5a3.9,3.9 0 1,0 7.8,0a3.9,3.9 0 1,0 -7.8,0M1472.2,392.0a3.9,3.9 0 1,0 7.8,0a3.9,3.9 0 1,0 -7.8,0M1486.5,399.5a3.9,3.9 0 1,0 7.8,0a3.9,3.9 0 1,0 -7.8,0M1506.9,396.1a3.9,3.9 0 1,0 7.8,0a3.9,3.9 0 1,0 -7.8,0M1524.6,389.3a3.9,3.9 0 1,0 7.8,0a3.9,3.9 0 1,0 -7.8,0M1647.8,389.0a3.9,3.9 0 1,0 7.8,0a3.9,3.9 0 1,0 -7.8,0M1675.0,407.6a3.9,3.9 0 1,0 7.8,0a3.9,3.9 0 1,0 -7.8,0M1540.9,407.6a3.9,3.9 0 1,0 7.8,0a3.9,3.9 0 1,0 -7.8,0M1634.2,397.4a3.9,3.9 0 1,0 7.8,0a3.9,3.9 0 1,0 -7.8,0M1634.8,406.3a3.9,3.9 0 1,0 7.8,0a3.9,3.9 0 1,0 -7.8,0M1630.1,397.4a3.9,3.9 0 1,0 7.8,0a3.9,3.9 0 1,0 -7.8,0M1455.2,415.1a3.9,3.9 0 1,0 7.8,0a3.9,3.9 0 1,0 -7.8,0M1575.0,413.1a3.9,3.9 0 1,0 7.8,0a3.9,3.9 0 1,0 -7.8,0M1585.2,414.4a3.9,3.9 0 1,0 7.8,0a3.9,3.9 0 1,0 -7.8,0M1552.5,415.1a3.9,3.9 0 1,0 7.8,0a3.9,3.9 0 1,0 -7.8,0M1555.9,410.4a3.9,3.9 0 1,0 7.8,0a3.9,3.9 0 1,0 -7.8,0M1580.4,420.6a3.9,3.9 0 1,0 7.8,0a3.9,3.9 0 1,0 -7.8,0M1566.8,402.2a3.9,3.9 0 1,0 7.8,0a3.9,3.9 0 1,0 -7.8,0M1598.1,400.1a3.9,3.9 0 1,0 7.8,0a3.9,3.9 0 1,0 -7.8,0M1736.8,290.1a3.9,3.9 0 1,0 7.8,0a3.9,3.9 0 1,0 -7.8,0M1747.8,301.4a3.9,3.9 0 1,0 7.8,0a3.9,3.9 0 1,0 -7.8,0M1809.8,351.0a3.9,3.9 0 1,0 7.8,0a3.9,3.9 0 1,0 -7.8,0M1794.6,360.3a3.9,3.9 0 1,0 7.8,0a3.9,3.9 0 1,0 -7.8,0M1825.3,360.9a3.9,3.9 0 1,0 7.8,0a3.9,3.9 0 1,0 -7.8,0M1851.5,365.1a3.9,3.9 0 1,0 7.8,0a3.9,3.9 0 1,0 -7.8,0M1749.9,372.3a3.9,3.9 0 1,0 7.8,0a3.9,3.9 0 1,0 -7.8,0M1690.0,376.8a3.9,3.9 0 1,0 7.8,0a3.9,3.9 0 1,0 -7.8,0M1859.3,378.2a3.9,3.9 0 1,0 7.8,0a3.9,3.9 0 1,0 -7.8,0M1838.4,381.6a3.9,3.9 0 1,0 7.8,0a3.9,3.9 0 1,0 -7.8,0M1779.5,382.3a3.9,3.9 0 1,0 7.8,0a3.9,3.9 0 1,0 -7.8,0M1756.8,388.1a3.9,3.9 0 1,0 7.8,0a3.9,3.9 0 1,0 -7.8,0M1844.2,391.1a3.9,3.9 0 1,0 7.8,0a3.9,3.9 0 1,0 -7.8,0M1877.6,389.8a3.9,3.9 0 1,0 7.8,0a3.9,3.9 0 1,0 -7.8,0M1890.3,398.0a3.9,3.9 0 1,0 7.8,0a3.9,3.9 0 1,0 -7.8,0M1928.8,408.5a3.9,3.9 0 1,0 7.8,0a3.9,3.9 0 1,0 -7.8,0M1873.8,406.7a3.9,3.9 0 1,0 7.8,0a3.9,3.9 0 1,0 -7.8,0M1835.2,408.1a3.9,3.9 0 1,0 7.8,0a3.9,3.9 0 1,0 -7.8,0M1721.7,404.6a3.9,3.9 0 1,0 7.8,0a3.9,3.9 0 1,0 -7.8,0M1741.6,393.3a3.9,3.9 0 1,0 7.8,0a3.9,3.9 0 1,0 -7.8,0M1778.1,410.8a3.9,3.9 0 1,0 7.8,0a3.9,3.9 0 1,0 -7.8,0M1782.2,411.5a3.9,3.9 0 1,0 7.8,0a3.9,3.9 0 1,0 -7.8,0M1752.7,410.8a3.9,3.9 0 1,0 7.8,0a3.9,3.9 0 1,0 -7.8,0" fill="#ff0000"/>
</g>
<line x1="1689.8" y1="245.6" x2="1689.8" y2="446.7" stroke="#000" stroke-width="1.2" stroke-dasharray="3.5,3.5"/>
<rect x="1421.8" y="245.6" width="536.3" height="201.1" fill="none" stroke="#222" stroke-width="1.2"/>
<line x1="1440.4" y1="446.7" x2="1440.4" y2="455.0" stroke="#222" stroke-width="1.2"/>
<text transform="translate(1435.94 481.00) scale(0.1600 0.1540)" font-size="100">0</text>
<line x1="1540.2" y1="446.7" x2="1540.2" y2="455.0" stroke="#222" stroke-width="1.2"/>
<text transform="translate(1526.56 481.00) scale(0.1600 0.1540)" font-size="100">100</text>
<line x1="1640.0" y1="446.7" x2="1640.0" y2="455.0" stroke="#222" stroke-width="1.2"/>
<text transform="translate(1626.56 481.00) scale(0.1600 0.1540)" font-size="100">200</text>
<line x1="1739.8" y1="446.7" x2="1739.8" y2="455.0" stroke="#222" stroke-width="1.2"/>
<text transform="translate(1726.46 481.00) scale(0.1600 0.1540)" font-size="100">300</text>
<line x1="1839.6" y1="446.7" x2="1839.6" y2="455.0" stroke="#222" stroke-width="1.2"/>
<text transform="translate(1826.38 481.00) scale(0.1600 0.1540)" font-size="100">400</text>
<line x1="1939.4" y1="446.7" x2="1939.4" y2="455.0" stroke="#222" stroke-width="1.2"/>
<text transform="translate(1926.04 481.00) scale(0.1600 0.1540)" font-size="100">500</text>
<line x1="1412.3" y1="439.6" x2="1421.8" y2="439.6" stroke="#222" stroke-width="1.2"/>
<text transform="translate(1399.73 444.00) rotate(-90) scale(0.1580 0.1580)" font-size="100">0</text>
<line x1="1412.3" y1="386.6" x2="1421.8" y2="386.6" stroke="#222" stroke-width="1.2"/>
<text transform="translate(1399.65 390.98) rotate(-90) scale(0.1580 0.1580)" font-size="100">5</text>
<line x1="1412.3" y1="333.6" x2="1421.8" y2="333.6" stroke="#222" stroke-width="1.2"/>
<text transform="translate(1399.73 342.67) rotate(-90) scale(0.1580 0.1580)" font-size="100">10</text>
<line x1="1412.3" y1="280.6" x2="1421.8" y2="280.6" stroke="#222" stroke-width="1.2"/>
<text transform="translate(1399.65 289.65) rotate(-90) scale(0.1580 0.1580)" font-size="100">15</text>
<text transform="translate(1362.14 417.29) rotate(-90) scale(0.1550 0.1600)" font-size="100">Survival time (years)</text>
<text transform="translate(1581.41 276.90) scale(0.1570 0.1570)" font-size="100">Patients (increasing risk socre)</text>
<text transform="translate(1582.61 517.00) scale(0.1570 0.1570)" font-size="100">Patients (increasing risk socre)</text>
<circle cx="1438.5" cy="268.3" r="4.7" fill="#ff0000"/>
<text transform="translate(1454.38 275.00) scale(0.1840 0.1710)" font-size="100">Dead</text>
<circle cx="1438.5" cy="290.8" r="4.7" fill="#00ee00"/>
<text transform="translate(1455.25 297.70) scale(0.1840 0.1710)" font-size="100">Alive</text>
<text transform="translate(2.12 553.50) scale(0.4480 0.4760)" font-size="100" font-weight="bold" font-family="'Liberation Serif', 'Times New Roman', serif">D</text>
<line x1="105.2" y1="968.6" x2="598.0" y2="554.4" stroke="#000" stroke-width="1.6" stroke-dasharray="5.5,4.5"/>
<g id="D-curves">
<polyline points="123.3,953.4 125.3,953.0 125.3,938.9 130.0,936.5 133.9,932.6 137.8,927.9 138.6,923.3 147.2,923.3 149.6,913.9 151.1,907.6 151.9,893.5 156.6,888.9 158.2,884.2 164.4,883.4 165.2,874.8 172.2,874.8 173.8,870.1 176.9,865.4 180.0,860.7 182.4,856.0 186.3,854.5 187.9,851.3 192.6,848.2 199.6,848.2 201.2,838.8 202.7,829.4 211.3,829.4 212.1,821.6 214.4,815.4 216.0,808.3 226.2,808.3 227.0,795.0 230.9,795.0 232.4,790.4 236.3,785.7 238.7,784.1 239.5,776.3 242.6,775.5 244.9,766.9 250.4,766.1 253.5,762.2 256.7,760.7 259.8,754.4 261.3,747.4 262.9,743.5 265.3,740.3 286.4,740.3 287.1,734.1 291.1,734.1 292.6,726.3 293.4,722.3 291.6,723.0 305.6,723.0 312.7,721.4 315.8,717.5 318.1,708.1 321.2,703.4 325.9,700.3 330.6,698.8 332.2,695.6 345.5,695.6 346.2,687.8 349.4,683.1 352.5,678.4 354.1,670.6 357.2,669.1 359.5,664.4 368.9,664.4 369.7,658.1 371.2,655.0 375.2,654.2 377.5,648.8 380.6,646.4 386.9,640.2 390.0,637.0 397.8,637.0 399.4,633.1 430.6,633.1 435.3,628.4 443.1,627.7 444.7,623.8 452.5,623.8 455.6,619.8 461.9,619.8 463.4,611.2 466.6,606.6 471.2,601.9 480.6,601.1 482.2,597.2 489.2,596.4 490.0,592.5 507.2,592.5 508.0,588.6 521.2,588.6 522.0,575.3 530.6,574.5 540.0,573.8 555.6,573.0 555.6,569.8 580.0,569.8" fill="none" stroke="#e8202a" stroke-width="2.8" stroke-linejoin="round"/>
<polyline points="123.3,953.4 124.5,938.9 126.9,931.1 130.0,923.3 136.3,921.7 140.2,915.4 142.5,903.7 145.7,901.4 148.8,895.1 151.9,890.4 155.0,885.7 158.9,879.5 162.8,870.1 163.6,867.0 168.3,860.7 170.7,857.6 174.6,856.0 176.9,854.5 180.0,848.2 181.6,843.5 183.2,838.8 186.3,837.3 187.9,823.2 191.0,822.4 192.6,816.9 195.7,812.2 198.8,810.7 200.4,806.0 201.9,799.7 208.2,798.2 209.8,791.9 212.9,788.8 217.6,787.2 220.7,783.3 223.8,782.5 227.0,779.4 231.6,777.8 237.1,774.7 241.0,773.2 244.1,762.2 247.3,759.9 250.4,758.3 256.7,757.5 259.8,755.2 262.9,751.3 268.4,749.7 270.7,743.5 272.3,740.3 278.5,740.3 280.9,738.8 284.0,735.6 287.9,732.5 305.9,732.5 308.3,726.3 309.8,721.6 290.0,732.3 305.6,732.3 307.2,722.2 310.3,719.8 314.2,715.2 317.3,712.8 320.5,709.7 322.8,700.3 328.3,697.2 331.4,695.6 332.2,689.4 336.1,686.2 340.0,683.1 342.3,678.4 346.2,672.2 352.5,670.6 354.1,665.9 358.8,659.7 362.7,655.0 366.6,649.5 371.2,648.0 375.9,643.3 382.2,640.9 386.9,634.7 387.7,631.6 396.2,630.8 399.4,626.9 419.7,626.9 421.2,623.8 427.5,623.0 430.6,618.3 445.5,618.3 446.2,613.6 454.1,612.8 455.6,608.9 460.3,606.6 461.9,600.3 469.7,598.8 474.4,595.6 479.1,591.7 493.1,590.2 505.6,586.2 520.5,586.2 521.2,580.8 532.2,578.4 533.8,575.3 538.4,572.2 546.2,571.4 555.6,570.6 580.0,569.8" fill="none" stroke="#e8e820" stroke-width="2.8" stroke-linejoin="round"/>
<polyline points="123.3,952.2 123.3,937.3 126.1,932.6 126.9,923.3 130.0,920.1 133.1,917.0 135.5,912.3 137.1,901.4 141.0,898.2 141.7,888.9 144.1,885.7 147.2,883.4 151.9,882.6 152.7,877.9 155.8,873.2 158.9,870.1 159.7,864.6 165.2,864.6 166.8,856.0 172.2,854.5 173.8,848.2 175.4,842.0 178.5,840.4 178.5,821.6 181.6,815.4 184.7,813.8 187.1,810.7 190.2,806.0 191.0,802.1 198.8,802.1 201.2,799.7 202.7,791.9 207.4,791.1 209.0,787.2 212.9,785.7 217.6,782.5 218.4,781.0 223.8,779.4 224.6,773.2 230.1,772.4 233.2,770.0 234.0,762.2 239.5,760.7 244.9,759.1 246.5,757.5 248.8,749.7 252.7,747.4 257.4,746.6 259.0,741.9 262.1,740.3 263.7,738.8 269.9,738.8 272.3,735.6 278.5,734.1 280.9,730.2 300.4,730.2 301.2,721.6 290.0,730.0 300.9,730.0 301.7,719.8 304.1,717.5 304.8,707.3 307.2,704.2 313.4,702.7 318.1,696.4 321.2,687.8 329.8,687.8 331.4,682.3 337.7,681.6 338.4,675.3 344.7,675.3 345.5,667.5 351.7,666.7 352.5,661.2 355.6,658.1 359.5,656.6 362.7,655.0 366.6,652.7 371.2,651.9 377.5,650.3 383.8,645.6 386.9,643.3 394.7,642.5 396.2,639.4 416.6,639.4 417.3,634.7 427.5,633.9 430.6,630.0 432.2,626.1 440.0,625.3 450.9,625.3 453.3,620.6 455.6,617.5 458.0,609.7 460.3,606.6 461.1,598.8 465.0,594.1 468.1,592.5 469.7,588.6 493.1,587.8 504.1,586.2 506.4,583.1 508.8,581.6 516.6,580.8 518.1,578.4 529.1,578.4 530.6,575.3 552.5,575.3 555.6,573.0 555.6,569.8 580.0,569.8" fill="none" stroke="#20d020" stroke-width="2.8" stroke-linejoin="round"/>
</g>
<rect x="105.2" y="554.4" width="492.8" height="414.2" fill="none" stroke="#333" stroke-width="1.6"/>
<line x1="123.4" y1="968.6" x2="123.4" y2="982.4" stroke="#333" stroke-width="1.5"/>
<text transform="translate(108.01 1016.90) scale(0.2210 0.2300)" font-size="100">0.0</text>
<line x1="92.5" y1="953.4" x2="105.2" y2="953.4" stroke="#333" stroke-width="1.5"/>
<text transform="translate(74.01 968.51) rotate(-90) scale(0.2170 0.2300)" font-size="100">0.0</text>
<line x1="214.7" y1="968.6" x2="214.7" y2="982.4" stroke="#333" stroke-width="1.5"/>
<text transform="translate(199.43 1016.90) scale(0.2210 0.2300)" font-size="100">0.2</text>
<line x1="92.5" y1="876.7" x2="105.2" y2="876.7" stroke="#333" stroke-width="1.5"/>
<text transform="translate(74.01 891.67) rotate(-90) scale(0.2170 0.2300)" font-size="100">0.2</text>
<line x1="306.0" y1="968.6" x2="306.0" y2="982.4" stroke="#333" stroke-width="1.5"/>
<text transform="translate(290.46 1016.90) scale(0.2210 0.2300)" font-size="100">0.4</text>
<line x1="92.5" y1="800.0" x2="105.2" y2="800.0" stroke="#333" stroke-width="1.5"/>
<text transform="translate(74.01 815.22) rotate(-90) scale(0.2170 0.2300)" font-size="100">0.4</text>
<line x1="397.2" y1="968.6" x2="397.2" y2="982.4" stroke="#333" stroke-width="1.5"/>
<text transform="translate(381.91 1016.90) scale(0.2210 0.2300)" font-size="100">0.6</text>
<line x1="92.5" y1="723.3" x2="105.2" y2="723.3" stroke="#333" stroke-width="1.5"/>
<text transform="translate(74.01 738.35) rotate(-90) scale(0.2170 0.2300)" font-size="100">0.6</text>
<line x1="488.5" y1="968.6" x2="488.5" y2="982.4" stroke="#333" stroke-width="1.5"/>
<text transform="translate(473.19 1016.90) scale(0.2210 0.2300)" font-size="100">0.8</text>
<line x1="92.5" y1="646.6" x2="105.2" y2="646.6" stroke="#333" stroke-width="1.5"/>
<text transform="translate(74.01 661.65) rotate(-90) scale(0.2170 0.2300)" font-size="100">0.8</text>
<line x1="579.8" y1="968.6" x2="579.8" y2="982.4" stroke="#333" stroke-width="1.5"/>
<text transform="translate(564.03 1016.90) scale(0.2210 0.2300)" font-size="100">1.0</text>
<line x1="92.5" y1="569.9" x2="105.2" y2="569.9" stroke="#333" stroke-width="1.5"/>
<text transform="translate(74.01 585.39) rotate(-90) scale(0.2170 0.2300)" font-size="100">1.0</text>
<text transform="translate(20.81 811.44) rotate(-90) scale(0.2180 0.2170)" font-size="100">Sensitivity</text>
<text transform="translate(289.71 1068.30) scale(0.2180 0.2200)" font-size="100">1−Specificity</text>
<line x1="314.4" y1="889.7" x2="356.3" y2="889.7" stroke="#e8202a" stroke-width="2.4"/>
<text transform="translate(374.85 897.70) scale(0.2155 0.2210)" font-size="100">AUC at 1 years: 0.651</text>
<line x1="314.4" y1="916.1" x2="356.3" y2="916.1" stroke="#e8e820" stroke-width="2.4"/>
<text transform="translate(374.85 924.10) scale(0.2155 0.2210)" font-size="100">AUC at 2 years: 0.670</text>
<line x1="314.4" y1="942.6" x2="356.3" y2="942.6" stroke="#20d020" stroke-width="2.4"/>
<text transform="translate(374.85 950.10) scale(0.2155 0.2210)" font-size="100">AUC at 3 years: 0.679</text>
<text transform="translate(650.12 554.20) scale(0.4480 0.4760)" font-size="100" font-weight="bold" font-family="'Liberation Serif', 'Times New Roman', serif">E</text>
<g id="E-curves">
<line x1="742.6" y1="984.3" x2="1261.8" y2="530.0" stroke="#000" stroke-width="2.0"/>
<line x1="761.5" y1="968.0" x2="1243.7" y2="546.6" stroke="#20d020" stroke-width="2.0" stroke-dasharray="4,4"/>
<polyline points="761.6,967.1 762.5,957.3 764.3,951.9 765.2,948.4 770.5,948.4 771.4,943.9 774.1,943.0 775.0,938.6 777.6,934.1 786.5,934.1 787.4,928.8 789.2,921.6 791.0,918.1 791.9,900.3 796.3,900.3 796.3,891.4 804.4,891.4 805.3,881.6 813.3,881.6 814.2,876.2 817.7,875.3 818.6,871.8 822.2,866.4 823.1,862.0 828.4,862.0 829.3,856.6 833.8,856.6 834.7,852.2 842.7,852.2 843.6,841.5 845.3,839.7 845.3,832.6 853.4,832.6 854.3,822.8 856.0,820.1 857.8,814.7 859.6,808.5 870.3,808.5 870.3,793.3 875.6,793.3 877.4,788.9 881.0,788.0 881.9,782.7 884.6,781.8 885.4,773.7 889.9,772.9 890.8,763.1 897.9,763.1 898.8,758.6 902.4,757.7 903.3,753.3 905.0,750.6 905.9,747.0 907.7,740.8 909.5,734.5 910.4,733.7 933.6,733.7 934.4,724.7 938.0,723.9 939.8,718.5 940.7,714.1 960.3,714.1 961.2,709.6 964.7,708.7 966.5,699.8 969.2,698.9 971.0,694.5 973.6,690.0 980.8,690.0 990.0,684.6 996.5,684.6 996.5,675.3 999.3,673.8 1000.1,665.2 1004.4,665.2 1004.4,655.1 1010.9,655.1 1010.9,650.1 1020.9,650.1 1021.6,645.1 1022.4,640.8 1027.4,640.8 1027.4,635.7 1031.7,635.7 1031.7,630.7 1037.5,630.7 1038.2,626.4 1039.6,621.3 1051.9,621.3 1051.9,616.3 1091.4,616.3 1091.4,611.3 1099.3,611.3 1099.3,606.2 1109.4,606.2 1109.4,601.2 1120.2,601.2 1120.2,596.2 1120.9,591.9 1123.1,591.1 1123.1,586.1 1128.8,586.1 1128.8,581.1 1140.3,581.1 1140.3,576.7 1148.2,576.7 1148.2,571.7 1166.9,571.7 1166.9,566.7 1181.3,566.7 1182.0,557.3 1182.8,552.3 1218.0,552.3 1218.0,546.5 1243.6,546.5" fill="none" stroke="#e8202a" stroke-width="2.4" stroke-linejoin="round"/>
<polyline points="761.6,967.1 762.5,930.6 765.2,925.2 767.8,925.2 777.6,913.6 784.8,909.2 790.1,903.8 797.2,891.4 800.8,878.9 804.4,868.2 809.7,860.2 815.1,854.8 822.2,837.9 833.8,837.9 836.4,832.6 853.4,832.6 859.6,827.2 873.9,815.6 884.6,805.8 897.0,789.8 914.8,767.5 927.3,755.9 942.5,739.9 955.8,734.5 973.6,724.7 991.5,716.7 990.0,717.7 1000.8,712.7 1024.5,688.9 1049.0,688.9 1064.8,672.4 1082.1,665.2 1119.5,652.3 1139.6,639.3 1153.3,633.6 1159.7,621.3 1175.6,621.3 1195.7,593.3 1207.2,586.8 1212.2,586.8 1221.6,576.0 1225.9,575.3 1231.7,570.3 1234.5,569.6 1236.0,563.8 1238.8,563.8 1238.8,551.6 1242.4,550.1 1243.6,546.5" fill="none" stroke="#e8e820" stroke-width="2.4" stroke-linejoin="round"/>
<polyline points="761.5,968.0 872.9,841.6 1173.3,591.9 1243.7,546.6" fill="none" stroke="#20e8e8" stroke-width="2.4"/>
<polyline points="761.5,968.0 1129.4,601.8 1211.4,552.9 1243.7,546.6" fill="none" stroke="#2020d0" stroke-width="2.4"/>
</g>
<rect x="742.6" y="530.0" width="519.2" height="454.3" fill="none" stroke="#333" stroke-width="1.5"/>
<line x1="761.5" y1="984.3" x2="761.5" y2="994.8" stroke="#333" stroke-width="1.4"/>
<text transform="translate(748.41 1025.40) scale(0.1880 0.1770)" font-size="100">0.0</text>
<line x1="732.1" y1="968.0" x2="742.6" y2="968.0" stroke="#333" stroke-width="1.4"/>
<text transform="translate(714.98 981.09) rotate(-90) scale(0.1880 0.1770)" font-size="100">0.0</text>
<line x1="857.9" y1="984.3" x2="857.9" y2="994.8" stroke="#333" stroke-width="1.4"/>
<text transform="translate(844.97 1025.40) scale(0.1880 0.1770)" font-size="100">0.2</text>
<line x1="732.1" y1="883.7" x2="742.6" y2="883.7" stroke="#333" stroke-width="1.4"/>
<text transform="translate(714.98 896.69) rotate(-90) scale(0.1880 0.1770)" font-size="100">0.2</text>
<line x1="954.4" y1="984.3" x2="954.4" y2="994.8" stroke="#333" stroke-width="1.4"/>
<text transform="translate(941.20 1025.40) scale(0.1880 0.1770)" font-size="100">0.4</text>
<line x1="732.1" y1="799.4" x2="742.6" y2="799.4" stroke="#333" stroke-width="1.4"/>
<text transform="translate(714.98 812.62) rotate(-90) scale(0.1880 0.1770)" font-size="100">0.4</text>
<line x1="1050.8" y1="984.3" x2="1050.8" y2="994.8" stroke="#333" stroke-width="1.4"/>
<text transform="translate(1037.78 1025.40) scale(0.1880 0.1770)" font-size="100">0.6</text>
<line x1="732.1" y1="715.2" x2="742.6" y2="715.2" stroke="#333" stroke-width="1.4"/>
<text transform="translate(714.98 728.20) rotate(-90) scale(0.1880 0.1770)" font-size="100">0.6</text>
<line x1="1147.3" y1="984.3" x2="1147.3" y2="994.8" stroke="#333" stroke-width="1.4"/>
<text transform="translate(1134.22 1025.40) scale(0.1880 0.1770)" font-size="100">0.8</text>
<line x1="732.1" y1="630.9" x2="742.6" y2="630.9" stroke="#333" stroke-width="1.4"/>
<text transform="translate(714.98 643.92) rotate(-90) scale(0.1880 0.1770)" font-size="100">0.8</text>
<line x1="1243.7" y1="984.3" x2="1243.7" y2="994.8" stroke="#333" stroke-width="1.4"/>
<text transform="translate(1230.28 1025.40) scale(0.1880 0.1770)" font-size="100">1.0</text>
<line x1="732.1" y1="546.6" x2="742.6" y2="546.6" stroke="#333" stroke-width="1.4"/>
<text transform="translate(714.98 560.02) rotate(-90) scale(0.1880 0.1770)" font-size="100">1.0</text>
<text transform="translate(672.00 798.40) rotate(-90) scale(0.1800 0.1700)" font-size="100">Sensitivity</text>
<text transform="translate(951.77 1068.70) scale(0.1800 0.1705)" font-size="100">1−Specificity</text>
<line x1="1040.7" y1="875.4" x2="1075.6" y2="875.4" stroke="#e8202a" stroke-width="2.0"/>
<text transform="translate(1090.09 882.50) scale(0.1830 0.1805)" font-size="100">Risk, AUC=0.651</text>
<line x1="1040.7" y1="897.7" x2="1075.6" y2="897.7" stroke="#e8e820" stroke-width="2.0"/>
<text transform="translate(1091.55 904.10) scale(0.1830 0.1805)" font-size="100">Age, AUC=0.580</text>
<line x1="1040.7" y1="919.2" x2="1075.6" y2="919.2" stroke="#20d020" stroke-width="2.0"/>
<text transform="translate(1090.68 925.40) scale(0.1830 0.1805)" font-size="100">Gender, AUC=0.500</text>
<line x1="1040.7" y1="941.3" x2="1075.6" y2="941.3" stroke="#20e8e8" stroke-width="2.0"/>
<text transform="translate(1090.68 948.20) scale(0.1830 0.1805)" font-size="100">Grade, AUC=0.544</text>
<line x1="1040.7" y1="963.3" x2="1075.6" y2="963.3" stroke="#2020d0" stroke-width="2.0"/>
<text transform="translate(1090.78 969.60) scale(0.1830 0.1805)" font-size="100">Stage, AUC=0.559</text>
<text transform="translate(1320.12 553.50) scale(0.4480 0.4760)" font-size="100" font-weight="bold" font-family="'Liberation Serif', 'Times New Roman', serif">F</text>
<g id="F-curves">
<polyline points="1639.3,759.6 1709.7,793.4 1788.5,832.8 1813.3,844.9" fill="none" stroke="#F8766D" stroke-width="2.3"/>
<polyline points="1700.7,820.1 1704.1,821.8 1788.5,833.6" fill="none" stroke="#C49A00" stroke-width="2.3"/>
<polyline points="1691.4,811.7 1702.6,822.4 1715.3,835.6 1782.9,872.2" fill="none" stroke="#53B400" stroke-width="2.3"/>
<polyline points="1691.4,811.7 1702.6,822.4 1725.2,839.8 1766.0,844.9 1811.0,856.7" fill="none" stroke="#00C094" stroke-width="2.3"/>
<polyline points="1553.4,683.6 1583.0,705.5 1614.0,728.1 1667.5,775.9 1709.7,810.8 1766.0,853.1 1791.3,873.6" fill="none" stroke="#00B6EB" stroke-width="2.3"/>
<polyline points="1420.6,579.4 1427.1,584.1 1433.6,588.9 1440.1,593.7 1446.6,598.5 1453.1,603.4 1459.6,608.3 1466.1,613.2 1472.6,618.2 1479.1,623.3 1485.6,628.3 1492.1,633.5 1498.6,638.6 1505.1,643.8 1511.6,649.1 1518.1,654.4 1524.6,659.7 1531.1,665.1 1537.6,670.5 1544.1,676.0 1550.6,681.5 1557.1,687.1 1563.6,692.7 1570.1,698.4 1576.6,704.1 1583.1,709.9 1589.6,715.7 1596.1,721.6 1602.6,727.5 1609.1,733.5 1615.6,739.6 1622.1,745.7 1628.6,751.8 1635.1,758.0 1641.6,764.3 1648.1,770.6 1654.6,777.0 1661.1,783.4 1667.6,789.9 1674.1,796.5 1680.6,803.1 1687.1,809.8 1693.6,816.6 1700.1,823.4 1706.6,830.3 1713.1,837.2 1719.6,844.2 1726.1,851.3 1732.6,858.5 1739.1,865.7 1745.6,873.0 1752.1,880.4 1758.6,887.9 1765.1,895.4 1771.6,903.0 1778.1,910.7 1784.6,918.4 1791.1,926.3 1797.6,934.2 1804.1,942.2 1810.6,950.3 1813.4,953.8" fill="none" stroke="#A58AFF" stroke-width="2.3"/>
<polyline points="1421.1,855.3 1813.3,855.3" fill="none" stroke="#FB61D7" stroke-width="2.3"/>
</g>
<line x1="1400.8" y1="544.1" x2="1400.8" y2="985.6" stroke="#000" stroke-width="1.3"/>
<line x1="1400.2" y1="985.0" x2="1832.3" y2="985.0" stroke="#000" stroke-width="1.3"/>
<line x1="1420.6" y1="985.0" x2="1420.6" y2="989.5" stroke="#333" stroke-width="1.2"/>
<text transform="translate(1404.83 1006.90) scale(0.1620 0.1640)" font-size="100" fill="#4d4d4d">0.00</text>
<line x1="1501.8" y1="985.0" x2="1501.8" y2="989.5" stroke="#333" stroke-width="1.2"/>
<text transform="translate(1486.10 1006.90) scale(0.1620 0.1640)" font-size="100" fill="#4d4d4d">0.05</text>
<line x1="1583.1" y1="985.0" x2="1583.1" y2="989.5" stroke="#333" stroke-width="1.2"/>
<text transform="translate(1567.33 1006.90) scale(0.1620 0.1640)" font-size="100" fill="#4d4d4d">0.10</text>
<line x1="1664.3" y1="985.0" x2="1664.3" y2="989.5" stroke="#333" stroke-width="1.2"/>
<text transform="translate(1648.60 1006.90) scale(0.1620 0.1640)" font-size="100" fill="#4d4d4d">0.15</text>
<line x1="1745.6" y1="985.0" x2="1745.6" y2="989.5" stroke="#333" stroke-width="1.2"/>
<text transform="translate(1729.83 1006.90) scale(0.1620 0.1640)" font-size="100" fill="#4d4d4d">0.20</text>
<line x1="1826.8" y1="985.0" x2="1826.8" y2="989.5" stroke="#333" stroke-width="1.2"/>
<text transform="translate(1811.10 1006.90) scale(0.1620 0.1640)" font-size="100" fill="#4d4d4d">0.25</text>
<line x1="1396.3" y1="854.9" x2="1400.8" y2="854.9" stroke="#333" stroke-width="1.2"/>
<text transform="translate(1368.05 860.40) scale(0.1660 0.1600)" font-size="100" fill="#4d4d4d">0.0</text>
<line x1="1396.3" y1="709.9" x2="1400.8" y2="709.9" stroke="#333" stroke-width="1.2"/>
<text transform="translate(1368.21 715.40) scale(0.1660 0.1600)" font-size="100" fill="#4d4d4d">0.1</text>
<line x1="1396.3" y1="564.9" x2="1400.8" y2="564.9" stroke="#333" stroke-width="1.2"/>
<text transform="translate(1368.26 570.40) scale(0.1660 0.1600)" font-size="100" fill="#4d4d4d">0.2</text>
<text transform="translate(1548.33 1029.30) scale(0.2065 0.2010)" font-size="100">Risk Threshold</text>
<text transform="translate(1360.41 816.03) rotate(-90) scale(0.2040 0.2100)" font-size="100">Net Benefit</text>
<line x1="1865.8" y1="699.5" x2="1884.9" y2="699.5" stroke="#F8766D" stroke-width="2.1"/>
<text transform="translate(1896.53 705.70) scale(0.1660 0.1590)" font-size="100">Risk</text>
<line x1="1865.8" y1="723.1" x2="1884.9" y2="723.1" stroke="#C49A00" stroke-width="2.1"/>
<text transform="translate(1897.86 729.20) scale(0.1660 0.1590)" font-size="100">Age</text>
<line x1="1865.8" y1="746.4" x2="1884.9" y2="746.4" stroke="#53B400" stroke-width="2.1"/>
<text transform="translate(1897.07 753.00) scale(0.1660 0.1590)" font-size="100">Gender</text>
<line x1="1865.8" y1="770.1" x2="1884.9" y2="770.1" stroke="#00C094" stroke-width="2.1"/>
<text transform="translate(1897.07 775.70) scale(0.1660 0.1590)" font-size="100">Grade</text>
<line x1="1865.8" y1="793.7" x2="1884.9" y2="793.7" stroke="#00B6EB" stroke-width="2.1"/>
<text transform="translate(1897.15 799.40) scale(0.1660 0.1590)" font-size="100">Stage</text>
<line x1="1865.8" y1="817.4" x2="1884.9" y2="817.4" stroke="#A58AFF" stroke-width="2.1"/>
<text transform="translate(1897.86 823.00) scale(0.1660 0.1590)" font-size="100">All</text>
<line x1="1865.8" y1="840.8" x2="1884.9" y2="840.8" stroke="#FB61D7" stroke-width="2.1"/>
<text transform="translate(1896.53 846.60) scale(0.1660 0.1590)" font-size="100">None</text>
<text transform="translate(1.66 1123.20) scale(0.4480 0.4760)" font-size="100" font-weight="bold" font-family="'Liberation Serif', 'Times New Roman', serif">G</text>
<g id="G-curves">
<polygon points="114.5,1162.7 126.3,1174.5 133.5,1189.0 139.0,1201.7 144.4,1219.8 149.9,1241.6 153.5,1252.5 160.8,1257.9 168.0,1263.4 175.3,1268.8 182.5,1274.3 188.9,1279.7 195.2,1285.1 206.1,1287.0 217.0,1288.8 227.9,1292.4 235.1,1297.8 240.6,1299.7 247.8,1303.3 250.0,1306.5 256.0,1306.5 256.0,1307.0 262.0,1307.0 262.0,1312.0 272.5,1312.0 272.5,1316.5 290.0,1316.5 290.0,1322.0 298.5,1322.0 298.5,1330.0 300.0,1332.0 322.0,1332.0 322.0,1338.0 437.1,1338.0 437.1,1341.6 463.7,1341.6 463.7,1347.0 486.0,1347.0 486.0,1409.0 463.7,1409.0 463.7,1401.5 437.7,1401.5 437.7,1394.2 432.2,1394.2 432.2,1390.6 322.0,1390.6 322.0,1384.5 300.0,1384.5 300.0,1371.5 290.0,1371.5 290.0,1365.5 272.5,1365.5 272.5,1360.0 262.0,1360.0 262.0,1350.0 250.0,1350.0 249.7,1341.4 237.0,1339.6 231.5,1334.1 224.3,1326.9 217.0,1323.2 206.1,1321.4 195.2,1317.8 186.2,1312.4 182.5,1305.1 175.3,1297.8 166.2,1290.6 158.9,1283.3 153.5,1274.3 149.9,1263.4 144.4,1247.0 139.0,1228.9 133.5,1208.9 126.3,1187.2 114.5,1162.7" fill="#ff0000" fill-opacity="0.3"/>
<polyline points="114.5,1162.7 119.9,1169.9 124.5,1178.1 129.0,1187.2 133.5,1199.9 137.2,1212.6 140.8,1225.3 144.4,1238.0 148.1,1247.0 151.7,1256.1 155.3,1263.4 159.8,1270.6 164.4,1277.0 169.8,1281.5 175.3,1285.1 179.8,1288.8 184.3,1294.2 189.8,1298.7 195.2,1302.4 200.7,1305.1 207.9,1306.0 215.2,1306.9 222.4,1307.8 227.9,1310.5 232.4,1316.9 235.1,1321.4 242.4,1322.3 249.7,1322.3 250.0,1325.0 252.0,1331.0 259.0,1331.5 263.0,1340.0 272.5,1340.0 272.5,1345.5 289.0,1345.5 289.0,1351.0 299.0,1351.0 300.5,1364.5 322.5,1364.5 322.5,1371.2 437.0,1371.2 437.0,1383.3 464.3,1383.3 464.3,1394.2 486.0,1394.2" fill="none" stroke="#ff0000" stroke-width="2.2" stroke-linejoin="round"/>
<polygon points="116.3,1160.0 126.3,1167.2 135.4,1179.9 142.6,1190.8 148.1,1198.1 155.3,1202.6 166.2,1208.9 173.5,1210.8 180.7,1214.4 188.0,1218.0 198.9,1223.5 207.9,1225.3 215.2,1234.3 222.4,1238.0 233.3,1245.2 240.6,1248.9 255.1,1250.7 256.9,1259.7 298.0,1260.0 298.0,1264.0 311.5,1264.0 311.5,1269.0 339.5,1269.0 339.5,1275.7 432.2,1275.7 432.2,1268.2 444.3,1268.2 444.3,1260.8 549.2,1260.8 549.2,1411.8 444.3,1411.8 444.3,1394.2 432.2,1394.2 432.2,1361.6 340.0,1361.6 340.0,1345.0 312.0,1345.0 312.0,1329.0 298.5,1329.0 298.5,1317.0 262.0,1316.5 262.0,1312.0 256.0,1312.0 256.0,1303.0 250.0,1303.0 249.7,1301.5 240.6,1299.7 235.1,1285.1 220.6,1279.7 215.2,1272.4 207.9,1263.4 197.0,1257.9 189.8,1250.7 180.7,1245.2 171.6,1238.0 166.2,1234.3 158.9,1227.1 151.7,1219.8 144.4,1208.9 135.4,1189.0 126.3,1172.7 116.3,1160.0" fill="#0000ff" fill-opacity="0.3"/>
<polyline points="116.3,1160.0 121.7,1165.4 126.3,1171.7 131.7,1179.9 137.2,1188.1 142.6,1196.2 146.2,1205.3 149.9,1210.8 155.3,1214.4 162.6,1219.8 169.8,1221.6 177.1,1227.1 182.5,1230.7 189.8,1234.3 195.2,1239.8 200.7,1241.6 207.9,1243.4 211.6,1248.9 217.0,1256.1 224.3,1259.7 231.5,1263.4 235.1,1270.6 238.8,1275.2 246.0,1277.9 254.0,1277.7 256.5,1290.0 298.0,1290.0 298.0,1299.0 311.5,1299.0 311.5,1314.0 339.7,1314.0 339.7,1328.3 432.2,1328.3 432.2,1357.9 443.7,1357.9 443.7,1387.8 549.2,1387.8 549.2,1417.2" fill="none" stroke="#0000ff" stroke-width="2.2" stroke-linejoin="round"/>
<path d="M117.4,1163.4v6.4M115.2,1166.6h4.4M118.3,1164.6v6.4M116.1,1167.8h4.4M119.2,1165.8v6.4M117.0,1169.0h4.4M120.1,1167.0v6.4M117.9,1170.2h4.4M121.0,1168.7v6.4M118.8,1171.9h4.4M121.9,1170.3v6.4M119.7,1173.5h4.4M122.8,1171.9v6.4M120.6,1175.1h4.4M123.7,1173.5v6.4M121.5,1176.7h4.4M124.6,1175.2v6.4M122.4,1178.4h4.4M125.5,1177.0v6.4M123.3,1180.2h4.4M126.4,1178.8v6.4M124.2,1182.0h4.4M127.3,1180.6v6.4M125.1,1183.8h4.4M128.2,1182.4v6.4M126.0,1185.6h4.4M129.1,1184.2v6.4M126.9,1187.4h4.4M130.0,1186.8v6.4M127.8,1190.0h4.4M130.9,1189.3v6.4M128.7,1192.5h4.4M131.8,1191.8v6.4M129.6,1195.0h4.4M132.7,1194.3v6.4M130.5,1197.5h4.4M133.6,1196.9v6.4M131.4,1200.1h4.4M134.5,1200.0v6.4M132.3,1203.2h4.4M135.4,1203.2v6.4M133.2,1206.4h4.4M136.3,1206.3v6.4M134.1,1209.5h4.4M137.2,1209.5v6.4M135.0,1212.7h4.4M138.1,1212.6v6.4M135.9,1215.8h4.4M139.0,1215.8v6.4M136.8,1219.0h4.4M139.9,1218.9v6.4M137.7,1222.1h4.4M140.8,1222.1v6.4M138.6,1225.3h4.4M141.7,1225.2v6.4M139.5,1228.4h4.4M142.6,1228.4v6.4M140.4,1231.6h4.4M143.5,1231.5v6.4M141.3,1234.7h4.4M144.4,1234.7v6.4M142.2,1237.9h4.4M145.3,1237.0v6.4M143.1,1240.2h4.4M146.2,1239.2v6.4M144.0,1242.4h4.4M147.1,1241.5v6.4M144.9,1244.7h4.4M148.0,1243.7v6.4M145.8,1246.9h4.4M148.9,1246.0v6.4M146.7,1249.2h4.4M149.8,1248.2v6.4M147.6,1251.4h4.4M150.7,1250.5v6.4M148.5,1253.7h4.4M151.6,1252.7v6.4M149.4,1255.9h4.4M152.5,1254.5v6.4M150.3,1257.7h4.4M153.4,1256.3v6.4M151.2,1259.5h4.4M154.3,1258.1v6.4M152.1,1261.3h4.4M155.2,1259.9v6.4M153.0,1263.1h4.4M156.1,1261.4v6.4M153.9,1264.6h4.4M157.0,1262.9v6.4M154.8,1266.1h4.4M157.9,1264.3v6.4M155.7,1267.5h4.4M158.8,1265.7v6.4M156.6,1268.9h4.4M159.7,1267.2v6.4M157.5,1270.4h4.4M160.6,1268.5v6.4M158.4,1271.7h4.4M161.5,1269.7v6.4M159.3,1272.9h4.4M162.4,1271.0v6.4M160.2,1274.2h4.4M163.3,1272.3v6.4M161.1,1275.5h4.4M164.2,1273.5v6.4M162.0,1276.7h4.4M165.1,1274.4v6.4M162.9,1277.6h4.4M166.0,1275.1v6.4M163.8,1278.3h4.4M166.9,1275.9v6.4M164.7,1279.1h4.4M167.8,1276.6v6.4M165.6,1279.8h4.4M168.7,1277.4v6.4M166.5,1280.6h4.4M169.6,1278.1v6.4M167.4,1281.3h4.4M170.5,1278.8v6.4M168.3,1282.0h4.4M171.4,1279.4v6.4M169.2,1282.6h4.4M172.3,1280.0v6.4M170.1,1283.2h4.4M173.2,1280.6v6.4M171.0,1283.8h4.4M174.1,1281.2v6.4M171.9,1284.4h4.4M175.0,1281.8v6.4M172.8,1285.0h4.4M175.9,1282.4v6.4M173.7,1285.6h4.4M176.8,1283.2v6.4M174.6,1286.4h4.4M178.0,1284.1v6.4M175.8,1287.3h4.4M180.6,1286.5v6.4M178.4,1289.7h4.4M183.2,1289.6v6.4M181.0,1292.8h4.4M185.8,1292.2v6.4M183.6,1295.4h4.4M188.4,1294.4v6.4M186.2,1297.6h4.4M191.0,1296.4v6.4M188.8,1299.6h4.4M193.6,1298.1v6.4M191.4,1301.3h4.4M196.2,1299.7v6.4M194.0,1302.9h4.4M198.8,1301.0v6.4M196.6,1304.2h4.4M201.4,1302.0v6.4M199.2,1305.2h4.4M204.0,1302.3v6.4M201.8,1305.5h4.4M206.6,1302.6v6.4M204.4,1305.8h4.4M209.2,1303.0v6.4M207.0,1306.2h4.4M211.8,1303.3v6.4M209.6,1306.5h4.4M214.4,1303.6v6.4M212.2,1306.8h4.4M217.0,1303.9v6.4M214.8,1307.1h4.4M219.6,1304.3v6.4M217.4,1307.5h4.4M222.2,1304.6v6.4M220.0,1307.8h4.4M243.0,1319.1v6.4M240.8,1322.3h4.4M268.0,1336.8v6.4M265.8,1340.0h4.4M280.0,1342.3v6.4M277.8,1345.5h4.4M285.0,1342.3v6.4M282.8,1345.5h4.4M300.0,1356.8v6.4M297.8,1360.0h4.4M322.0,1361.3v6.4M319.8,1364.5h4.4M330.0,1368.0v6.4M327.8,1371.2h4.4M354.0,1368.0v6.4M351.8,1371.2h4.4M366.0,1368.0v6.4M363.8,1371.2h4.4M446.0,1380.1v6.4M443.8,1383.3h4.4M452.0,1380.1v6.4M449.8,1383.3h4.4M477.0,1391.0v6.4M474.8,1394.2h4.4M482.0,1391.0v6.4M479.8,1394.2h4.4" stroke="#ff0000" stroke-width="1.2" fill="none"/>
<path d="M118.1,1158.6v6.4M115.9,1161.8h4.4M119.2,1159.7v6.4M117.0,1162.9h4.4M120.3,1160.8v6.4M118.1,1164.0h4.4M121.4,1161.9v6.4M119.2,1165.1h4.4M122.5,1163.3v6.4M120.3,1166.5h4.4M123.6,1164.8v6.4M121.4,1168.0h4.4M124.7,1166.3v6.4M122.5,1169.5h4.4M125.8,1167.9v6.4M123.6,1171.1h4.4M126.9,1169.5v6.4M124.7,1172.7h4.4M128.0,1171.1v6.4M125.8,1174.3h4.4M129.1,1172.8v6.4M126.9,1176.0h4.4M130.2,1174.4v6.4M128.0,1177.6h4.4M131.3,1176.1v6.4M129.1,1179.3h4.4M132.4,1177.7v6.4M130.2,1180.9h4.4M133.5,1179.4v6.4M131.3,1182.6h4.4M134.6,1181.0v6.4M132.4,1184.2h4.4M135.7,1182.7v6.4M133.5,1185.9h4.4M136.8,1184.3v6.4M134.6,1187.5h4.4M137.9,1186.0v6.4M135.7,1189.2h4.4M139.0,1187.6v6.4M136.8,1190.8h4.4M140.1,1189.3v6.4M137.9,1192.5h4.4M141.2,1190.9v6.4M139.0,1194.1h4.4M142.3,1192.6v6.4M140.1,1195.8h4.4M143.4,1195.0v6.4M141.2,1198.2h4.4M144.5,1197.8v6.4M142.3,1201.0h4.4M145.6,1200.5v6.4M143.4,1203.7h4.4M146.7,1202.8v6.4M144.5,1206.0h4.4M147.8,1204.5v6.4M145.6,1207.7h4.4M148.9,1206.1v6.4M146.7,1209.3h4.4M150.0,1207.6v6.4M147.8,1210.8h4.4M151.1,1208.4v6.4M148.9,1211.6h4.4M152.2,1209.1v6.4M150.0,1212.3h4.4M153.3,1209.8v6.4M151.1,1213.0h4.4M154.4,1210.6v6.4M152.2,1213.8h4.4M155.5,1211.3v6.4M153.3,1214.5h4.4M156.6,1212.1v6.4M154.4,1215.3h4.4M157.7,1213.0v6.4M155.5,1216.2h4.4M158.8,1213.8v6.4M156.6,1217.0h4.4M159.9,1214.6v6.4M157.7,1217.8h4.4M161.0,1215.4v6.4M158.8,1218.6h4.4M162.1,1216.3v6.4M159.9,1219.5h4.4M163.2,1216.8v6.4M161.0,1220.0h4.4M164.3,1217.1v6.4M162.1,1220.3h4.4M165.4,1217.3v6.4M163.2,1220.5h4.4M166.5,1217.6v6.4M164.3,1220.8h4.4M167.6,1217.9v6.4M165.4,1221.1h4.4M168.7,1218.2v6.4M166.5,1221.4h4.4M169.8,1218.4v6.4M167.6,1221.6h4.4M170.9,1219.2v6.4M168.7,1222.4h4.4M172.0,1220.1v6.4M169.8,1223.3h4.4M173.1,1220.9v6.4M170.9,1224.1h4.4M174.2,1221.7v6.4M172.0,1224.9h4.4M175.3,1222.5v6.4M173.1,1225.7h4.4M176.4,1223.4v6.4M174.2,1226.6h4.4M177.5,1224.2v6.4M175.3,1227.4h4.4M178.6,1224.9v6.4M176.4,1228.1h4.4M179.7,1225.6v6.4M177.5,1228.8h4.4M180.8,1226.4v6.4M178.6,1229.6h4.4M181.9,1227.1v6.4M179.7,1230.3h4.4M183.0,1227.7v6.4M180.8,1230.9h4.4M184.1,1228.3v6.4M181.9,1231.5h4.4M185.2,1228.8v6.4M183.0,1232.0h4.4M186.3,1229.4v6.4M184.1,1232.6h4.4M187.4,1229.9v6.4M185.2,1233.1h4.4M188.5,1230.5v6.4M186.3,1233.7h4.4M189.6,1231.0v6.4M187.4,1234.2h4.4M190.7,1232.1v6.4M188.5,1235.3h4.4M191.8,1233.2v6.4M189.6,1236.4h4.4M192.9,1234.3v6.4M190.7,1237.5h4.4M194.0,1235.4v6.4M191.8,1238.6h4.4M195.1,1236.5v6.4M192.9,1239.7h4.4M196.2,1236.9v6.4M194.0,1240.1h4.4M197.3,1237.3v6.4M195.1,1240.5h4.4M198.4,1237.6v6.4M196.2,1240.8h4.4M199.5,1238.0v6.4M197.3,1241.2h4.4M200.6,1238.4v6.4M198.4,1241.6h4.4M201.7,1238.7v6.4M199.5,1241.9h4.4M202.8,1238.9v6.4M200.6,1242.1h4.4M203.9,1239.2v6.4M201.7,1242.4h4.4M205.0,1239.5v6.4M202.8,1242.7h4.4M206.1,1239.8v6.4M203.9,1243.0h4.4M207.2,1240.0v6.4M205.0,1243.2h4.4M208.3,1240.8v6.4M206.1,1244.0h4.4M209.4,1242.4v6.4M207.2,1245.6h4.4M210.5,1244.1v6.4M208.3,1247.3h4.4M211.6,1245.7v6.4M209.4,1248.9h4.4M212.7,1247.2v6.4M210.5,1250.4h4.4M213.8,1248.6v6.4M211.6,1251.8h4.4M214.9,1250.1v6.4M212.7,1253.3h4.4M216.0,1251.6v6.4M213.8,1254.8h4.4M217.1,1253.0v6.4M214.9,1256.2h4.4M218.2,1253.5v6.4M216.0,1256.7h4.4M219.3,1254.1v6.4M217.1,1257.3h4.4M220.4,1254.6v6.4M218.2,1257.8h4.4M221.5,1255.2v6.4M219.3,1258.4h4.4M222.6,1255.7v6.4M220.4,1258.9h4.4M223.7,1256.3v6.4M221.5,1259.5h4.4M224.8,1256.8v6.4M222.6,1260.0h4.4M225.9,1257.4v6.4M223.7,1260.6h4.4M227.0,1257.9v6.4M224.8,1261.1h4.4M228.1,1258.5v6.4M225.9,1261.7h4.4M229.2,1259.0v6.4M227.0,1262.2h4.4M230.3,1259.6v6.4M228.1,1262.8h4.4M231.4,1260.1v6.4M229.2,1263.3h4.4M232.5,1262.1v6.4M230.3,1265.3h4.4M233.6,1264.3v6.4M231.4,1267.5h4.4M234.7,1266.5v6.4M232.5,1269.7h4.4M175.0,1222.3v6.4M172.8,1225.5h4.4M180.0,1225.8v6.4M177.8,1229.0h4.4M186.0,1229.2v6.4M183.8,1232.4h4.4M190.0,1231.4v6.4M187.8,1234.6h4.4M198.0,1237.5v6.4M195.8,1240.7h4.4M204.0,1239.2v6.4M201.8,1242.4h4.4M212.0,1246.2v6.4M209.8,1249.4h4.4M222.0,1255.4v6.4M219.8,1258.6h4.4M232.0,1261.1v6.4M229.8,1264.3h4.4M246.0,1274.7v6.4M243.8,1277.9h4.4M262.0,1286.8v6.4M259.8,1290.0h4.4M265.0,1286.8v6.4M262.8,1290.0h4.4M268.0,1286.8v6.4M265.8,1290.0h4.4M271.0,1286.8v6.4M268.8,1290.0h4.4M274.0,1286.8v6.4M271.8,1290.0h4.4M306.0,1295.8v6.4M303.8,1299.0h4.4M318.0,1310.8v6.4M315.8,1314.0h4.4M344.0,1325.1v6.4M341.8,1328.3h4.4M402.0,1325.1v6.4M399.8,1328.3h4.4M404.0,1325.1v6.4M401.8,1328.3h4.4M407.0,1325.1v6.4M404.8,1328.3h4.4" stroke="#0000ff" stroke-width="1.2" fill="none"/>
<line x1="116.2" y1="1289.8" x2="256.5" y2="1289.8" stroke="#222" stroke-width="1.3" stroke-dasharray="4.5,3.5"/>
<line x1="179.5" y1="1289.8" x2="179.5" y2="1417.5" stroke="#222" stroke-width="1.3" stroke-dasharray="4.5,3.5"/>
<line x1="256.5" y1="1289.8" x2="256.5" y2="1417.5" stroke="#222" stroke-width="1.3" stroke-dasharray="4.5,3.5"/>
</g>
<line x1="91.8" y1="1149.8" x2="91.8" y2="1430.6" stroke="#000" stroke-width="1.2"/>
<line x1="91.2" y1="1430.0" x2="632.9" y2="1430.0" stroke="#000" stroke-width="1.2"/>
<line x1="116.2" y1="1430.0" x2="116.2" y2="1433.4" stroke="#000" stroke-width="1.2"/>
<text transform="translate(112.19 1447.30) scale(0.1440 0.1500)" font-size="100">0</text>
<line x1="140.8" y1="1430.0" x2="140.8" y2="1433.4" stroke="#000" stroke-width="1.2"/>
<text transform="translate(136.63 1447.30) scale(0.1440 0.1500)" font-size="100">1</text>
<line x1="165.4" y1="1430.0" x2="165.4" y2="1433.4" stroke="#000" stroke-width="1.2"/>
<text transform="translate(161.44 1447.30) scale(0.1440 0.1500)" font-size="100">2</text>
<line x1="190.1" y1="1430.0" x2="190.1" y2="1433.4" stroke="#000" stroke-width="1.2"/>
<text transform="translate(186.10 1447.30) scale(0.1440 0.1500)" font-size="100">3</text>
<line x1="214.7" y1="1430.0" x2="214.7" y2="1433.4" stroke="#000" stroke-width="1.2"/>
<text transform="translate(210.72 1447.30) scale(0.1440 0.1500)" font-size="100">4</text>
<line x1="239.3" y1="1430.0" x2="239.3" y2="1433.4" stroke="#000" stroke-width="1.2"/>
<text transform="translate(235.30 1447.30) scale(0.1440 0.1500)" font-size="100">5</text>
<line x1="263.9" y1="1430.0" x2="263.9" y2="1433.4" stroke="#000" stroke-width="1.2"/>
<text transform="translate(259.87 1447.30) scale(0.1440 0.1500)" font-size="100">6</text>
<line x1="288.5" y1="1430.0" x2="288.5" y2="1433.4" stroke="#000" stroke-width="1.2"/>
<text transform="translate(284.53 1447.30) scale(0.1440 0.1500)" font-size="100">7</text>
<line x1="313.2" y1="1430.0" x2="313.2" y2="1433.4" stroke="#000" stroke-width="1.2"/>
<text transform="translate(309.16 1447.30) scale(0.1440 0.1500)" font-size="100">8</text>
<line x1="337.8" y1="1430.0" x2="337.8" y2="1433.4" stroke="#000" stroke-width="1.2"/>
<text transform="translate(333.77 1447.30) scale(0.1440 0.1500)" font-size="100">9</text>
<line x1="362.4" y1="1430.0" x2="362.4" y2="1433.4" stroke="#000" stroke-width="1.2"/>
<text transform="translate(354.14 1447.30) scale(0.1440 0.1500)" font-size="100">10</text>
<line x1="387.0" y1="1430.0" x2="387.0" y2="1433.4" stroke="#000" stroke-width="1.2"/>
<text transform="translate(379.35 1447.30) scale(0.1440 0.1500)" font-size="100">11</text>
<line x1="411.6" y1="1430.0" x2="411.6" y2="1433.4" stroke="#000" stroke-width="1.2"/>
<text transform="translate(403.47 1447.30) scale(0.1440 0.1500)" font-size="100">12</text>
<line x1="436.3" y1="1430.0" x2="436.3" y2="1433.4" stroke="#000" stroke-width="1.2"/>
<text transform="translate(428.03 1447.30) scale(0.1440 0.1500)" font-size="100">13</text>
<line x1="460.9" y1="1430.0" x2="460.9" y2="1433.4" stroke="#000" stroke-width="1.2"/>
<text transform="translate(452.55 1447.30) scale(0.1440 0.1500)" font-size="100">14</text>
<line x1="485.5" y1="1430.0" x2="485.5" y2="1433.4" stroke="#000" stroke-width="1.2"/>
<text transform="translate(477.26 1447.30) scale(0.1440 0.1500)" font-size="100">15</text>
<line x1="510.1" y1="1430.0" x2="510.1" y2="1433.4" stroke="#000" stroke-width="1.2"/>
<text transform="translate(501.89 1447.30) scale(0.1440 0.1500)" font-size="100">16</text>
<line x1="534.7" y1="1430.0" x2="534.7" y2="1433.4" stroke="#000" stroke-width="1.2"/>
<text transform="translate(526.57 1447.30) scale(0.1440 0.1500)" font-size="100">17</text>
<line x1="559.4" y1="1430.0" x2="559.4" y2="1433.4" stroke="#000" stroke-width="1.2"/>
<text transform="translate(551.13 1447.30) scale(0.1440 0.1500)" font-size="100">18</text>
<line x1="584.0" y1="1430.0" x2="584.0" y2="1433.4" stroke="#000" stroke-width="1.2"/>
<text transform="translate(575.77 1447.30) scale(0.1440 0.1500)" font-size="100">19</text>
<line x1="608.6" y1="1430.0" x2="608.6" y2="1433.4" stroke="#000" stroke-width="1.2"/>
<text transform="translate(600.52 1447.30) scale(0.1440 0.1500)" font-size="100">20</text>
<line x1="88.4" y1="1162.1" x2="91.8" y2="1162.1" stroke="#000" stroke-width="1.2"/>
<text transform="translate(57.50 1167.72) scale(0.1410 0.1460)" font-size="100">1.00</text>
<line x1="88.4" y1="1226.0" x2="91.8" y2="1226.0" stroke="#000" stroke-width="1.2"/>
<text transform="translate(57.54 1231.57) scale(0.1410 0.1460)" font-size="100">0.75</text>
<line x1="88.4" y1="1289.8" x2="91.8" y2="1289.8" stroke="#000" stroke-width="1.2"/>
<text transform="translate(57.50 1295.42) scale(0.1410 0.1460)" font-size="100">0.50</text>
<line x1="88.4" y1="1353.7" x2="91.8" y2="1353.7" stroke="#000" stroke-width="1.2"/>
<text transform="translate(57.54 1359.27) scale(0.1410 0.1460)" font-size="100">0.25</text>
<line x1="88.4" y1="1417.5" x2="91.8" y2="1417.5" stroke="#000" stroke-width="1.2"/>
<text transform="translate(57.50 1423.12) scale(0.1410 0.1460)" font-size="100">0.00</text>
<text transform="translate(319.35 1464.80) scale(0.1650 0.1580)" font-size="100">Time(years)</text>
<text transform="translate(21.31 1359.58) rotate(-90) scale(0.1645 0.1510)" font-size="100">Survival probability</text>
<text transform="translate(124.15 1374.00) scale(0.2000 0.2010)" font-size="100">p&lt;0.001</text>
<text transform="translate(273.61 1121.70) scale(0.1200 0.1120)" font-size="100">Risk</text>
<rect x="304.1" y="1109.1" width="18.7" height="18.1" fill="#ff0000" fill-opacity="0.3"/>
<line x1="304.1" y1="1118.1" x2="322.8" y2="1118.1" stroke="#ff0000" stroke-width="2.0"/>
<line x1="313.2" y1="1112.6" x2="313.2" y2="1119.2" stroke="#ff0000" stroke-width="1.3"/>
<text transform="translate(328.51 1121.70) scale(0.1200 0.1120)" font-size="100">High risk</text>
<rect x="381.9" y="1109.1" width="18.7" height="18.1" fill="#0000ff" fill-opacity="0.3"/>
<line x1="381.9" y1="1118.1" x2="400.6" y2="1118.1" stroke="#0000ff" stroke-width="2.0"/>
<line x1="391.2" y1="1112.6" x2="391.2" y2="1119.2" stroke="#0000ff" stroke-width="1.3"/>
<text transform="translate(406.61 1121.70) scale(0.1200 0.1120)" font-size="100">Low risk</text>
<line x1="92.0" y1="1508.2" x2="92.0" y2="1558.6" stroke="#000" stroke-width="1.2"/>
<line x1="91.4" y1="1558.0" x2="632.9" y2="1558.0" stroke="#000" stroke-width="1.2"/>
<line x1="88.6" y1="1521.4" x2="92.0" y2="1521.4" stroke="#000" stroke-width="1.2"/>
<line x1="88.6" y1="1544.1" x2="92.0" y2="1544.1" stroke="#000" stroke-width="1.2"/>
<text transform="translate(29.16 1524.60) scale(0.1420 0.1440)" font-size="100" fill="#ff0000">High risk</text>
<text transform="translate(32.32 1547.30) scale(0.1420 0.1440)" font-size="100" fill="#0000ff">Low risk</text>
<text transform="translate(23.73 1549.33) rotate(-90) scale(0.1690 0.1800)" font-size="100">Risk</text>
<text transform="translate(103.15 1526.70) scale(0.1560 0.1390)" font-size="100" fill="#ff0000">249</text>
<text transform="translate(103.10 1549.10) scale(0.1560 0.1390)" font-size="100" fill="#0000ff">250</text>
<line x1="116.2" y1="1558.0" x2="116.2" y2="1561.4" stroke="#000" stroke-width="1.2"/>
<text transform="translate(112.19 1574.30) scale(0.1440 0.1500)" font-size="100">0</text>
<text transform="translate(127.58 1526.70) scale(0.1560 0.1390)" font-size="100" fill="#ff0000">179</text>
<text transform="translate(127.58 1549.10) scale(0.1560 0.1390)" font-size="100" fill="#0000ff">199</text>
<line x1="140.8" y1="1558.0" x2="140.8" y2="1561.4" stroke="#000" stroke-width="1.2"/>
<text transform="translate(136.63 1574.30) scale(0.1440 0.1500)" font-size="100">1</text>
<text transform="translate(152.24 1526.70) scale(0.1560 0.1390)" font-size="100" fill="#ff0000">107</text>
<text transform="translate(152.20 1549.10) scale(0.1560 0.1390)" font-size="100" fill="#0000ff">109</text>
<line x1="165.4" y1="1558.0" x2="165.4" y2="1561.4" stroke="#000" stroke-width="1.2"/>
<text transform="translate(161.44 1574.30) scale(0.1440 0.1500)" font-size="100">2</text>
<text transform="translate(181.34 1526.70) scale(0.1560 0.1390)" font-size="100" fill="#ff0000">63</text>
<text transform="translate(181.36 1549.10) scale(0.1560 0.1390)" font-size="100" fill="#0000ff">71</text>
<line x1="190.1" y1="1558.0" x2="190.1" y2="1561.4" stroke="#000" stroke-width="1.2"/>
<text transform="translate(186.10 1574.30) scale(0.1440 0.1500)" font-size="100">3</text>
<text transform="translate(206.24 1526.70) scale(0.1560 0.1390)" font-size="100" fill="#ff0000">42</text>
<text transform="translate(206.08 1549.10) scale(0.1560 0.1390)" font-size="100" fill="#0000ff">51</text>
<line x1="214.7" y1="1558.0" x2="214.7" y2="1561.4" stroke="#000" stroke-width="1.2"/>
<text transform="translate(210.72 1574.30) scale(0.1440 0.1500)" font-size="100">4</text>
<text transform="translate(230.47 1526.70) scale(0.1560 0.1390)" font-size="100" fill="#ff0000">24</text>
<text transform="translate(230.58 1549.10) scale(0.1560 0.1390)" font-size="100" fill="#0000ff">28</text>
<line x1="239.3" y1="1558.0" x2="239.3" y2="1561.4" stroke="#000" stroke-width="1.2"/>
<text transform="translate(235.30 1574.30) scale(0.1440 0.1500)" font-size="100">5</text>
<text transform="translate(254.99 1526.70) scale(0.1560 0.1390)" font-size="100" fill="#ff0000">15</text>
<text transform="translate(255.03 1549.10) scale(0.1560 0.1390)" font-size="100" fill="#0000ff">19</text>
<line x1="263.9" y1="1558.0" x2="263.9" y2="1561.4" stroke="#000" stroke-width="1.2"/>
<text transform="translate(259.87 1574.30) scale(0.1440 0.1500)" font-size="100">6</text>
<text transform="translate(279.63 1526.70) scale(0.1560 0.1390)" font-size="100" fill="#ff0000">13</text>
<text transform="translate(279.63 1549.10) scale(0.1560 0.1390)" font-size="100" fill="#0000ff">13</text>
<line x1="288.5" y1="1558.0" x2="288.5" y2="1561.4" stroke="#000" stroke-width="1.2"/>
<text transform="translate(284.53 1574.30) scale(0.1440 0.1500)" font-size="100">7</text>
<text transform="translate(308.83 1526.70) scale(0.1560 0.1390)" font-size="100" fill="#ff0000">8</text>
<text transform="translate(308.83 1549.10) scale(0.1560 0.1390)" font-size="100" fill="#0000ff">8</text>
<line x1="313.2" y1="1558.0" x2="313.2" y2="1561.4" stroke="#000" stroke-width="1.2"/>
<text transform="translate(309.16 1574.30) scale(0.1440 0.1500)" font-size="100">8</text>
<text transform="translate(333.39 1526.70) scale(0.1560 0.1390)" font-size="100" fill="#ff0000">6</text>
<text transform="translate(333.43 1549.10) scale(0.1560 0.1390)" font-size="100" fill="#0000ff">7</text>
<line x1="337.8" y1="1558.0" x2="337.8" y2="1561.4" stroke="#000" stroke-width="1.2"/>
<text transform="translate(333.77 1574.30) scale(0.1440 0.1500)" font-size="100">9</text>
<text transform="translate(358.01 1526.70) scale(0.1560 0.1390)" font-size="100" fill="#ff0000">6</text>
<text transform="translate(358.07 1549.10) scale(0.1560 0.1390)" font-size="100" fill="#0000ff">5</text>
<line x1="362.4" y1="1558.0" x2="362.4" y2="1561.4" stroke="#000" stroke-width="1.2"/>
<text transform="translate(354.14 1574.30) scale(0.1440 0.1500)" font-size="100">10</text>
<text transform="translate(382.73 1526.70) scale(0.1560 0.1390)" font-size="100" fill="#ff0000">4</text>
<text transform="translate(382.69 1549.10) scale(0.1560 0.1390)" font-size="100" fill="#0000ff">5</text>
<line x1="387.0" y1="1558.0" x2="387.0" y2="1561.4" stroke="#000" stroke-width="1.2"/>
<text transform="translate(379.35 1574.30) scale(0.1440 0.1500)" font-size="100">11</text>
<text transform="translate(407.35 1526.70) scale(0.1560 0.1390)" font-size="100" fill="#ff0000">4</text>
<text transform="translate(407.35 1549.10) scale(0.1560 0.1390)" font-size="100" fill="#0000ff">3</text>
<line x1="411.6" y1="1558.0" x2="411.6" y2="1561.4" stroke="#000" stroke-width="1.2"/>
<text transform="translate(403.47 1574.30) scale(0.1440 0.1500)" font-size="100">12</text>
<text transform="translate(431.97 1526.70) scale(0.1560 0.1390)" font-size="100" fill="#ff0000">4</text>
<text transform="translate(431.93 1549.10) scale(0.1560 0.1390)" font-size="100" fill="#0000ff">2</text>
<line x1="436.3" y1="1558.0" x2="436.3" y2="1561.4" stroke="#000" stroke-width="1.2"/>
<text transform="translate(428.03 1574.30) scale(0.1440 0.1500)" font-size="100">13</text>
<text transform="translate(456.59 1526.70) scale(0.1560 0.1390)" font-size="100" fill="#ff0000">3</text>
<text transform="translate(456.34 1549.10) scale(0.1560 0.1390)" font-size="100" fill="#0000ff">1</text>
<line x1="460.9" y1="1558.0" x2="460.9" y2="1561.4" stroke="#000" stroke-width="1.2"/>
<text transform="translate(452.55 1574.30) scale(0.1440 0.1500)" font-size="100">14</text>
<text transform="translate(480.96 1526.70) scale(0.1560 0.1390)" font-size="100" fill="#ff0000">1</text>
<text transform="translate(480.96 1549.10) scale(0.1560 0.1390)" font-size="100" fill="#0000ff">1</text>
<line x1="485.5" y1="1558.0" x2="485.5" y2="1561.4" stroke="#000" stroke-width="1.2"/>
<text transform="translate(477.26 1574.30) scale(0.1440 0.1500)" font-size="100">15</text>
<text transform="translate(505.77 1526.70) scale(0.1560 0.1390)" font-size="100" fill="#ff0000">0</text>
<text transform="translate(505.58 1549.10) scale(0.1560 0.1390)" font-size="100" fill="#0000ff">1</text>
<line x1="510.1" y1="1558.0" x2="510.1" y2="1561.4" stroke="#000" stroke-width="1.2"/>
<text transform="translate(501.89 1574.30) scale(0.1440 0.1500)" font-size="100">16</text>
<text transform="translate(530.39 1526.70) scale(0.1560 0.1390)" font-size="100" fill="#ff0000">0</text>
<text transform="translate(530.20 1549.10) scale(0.1560 0.1390)" font-size="100" fill="#0000ff">1</text>
<line x1="534.7" y1="1558.0" x2="534.7" y2="1561.4" stroke="#000" stroke-width="1.2"/>
<text transform="translate(526.57 1574.30) scale(0.1440 0.1500)" font-size="100">17</text>
<text transform="translate(555.01 1526.70) scale(0.1560 0.1390)" font-size="100" fill="#ff0000">0</text>
<text transform="translate(555.01 1549.10) scale(0.1560 0.1390)" font-size="100" fill="#0000ff">0</text>
<line x1="559.4" y1="1558.0" x2="559.4" y2="1561.4" stroke="#000" stroke-width="1.2"/>
<text transform="translate(551.13 1574.30) scale(0.1440 0.1500)" font-size="100">18</text>
<text transform="translate(579.63 1526.70) scale(0.1560 0.1390)" font-size="100" fill="#ff0000">0</text>
<text transform="translate(579.63 1549.10) scale(0.1560 0.1390)" font-size="100" fill="#0000ff">0</text>
<line x1="584.0" y1="1558.0" x2="584.0" y2="1561.4" stroke="#000" stroke-width="1.2"/>
<text transform="translate(575.77 1574.30) scale(0.1440 0.1500)" font-size="100">19</text>
<text transform="translate(604.25 1526.70) scale(0.1560 0.1390)" font-size="100" fill="#ff0000">0</text>
<text transform="translate(604.25 1549.10) scale(0.1560 0.1390)" font-size="100" fill="#0000ff">0</text>
<line x1="608.6" y1="1558.0" x2="608.6" y2="1561.4" stroke="#000" stroke-width="1.2"/>
<text transform="translate(600.52 1574.30) scale(0.1440 0.1500)" font-size="100">20</text>
<text transform="translate(319.35 1591.80) scale(0.1650 0.1580)" font-size="100">Time(years)</text>
<text transform="translate(666.22 1123.50) scale(0.4480 0.4760)" font-size="100" font-weight="bold" font-family="'Liberation Serif', 'Times New Roman', serif">H</text>
<text transform="translate(776.53 1183.90) scale(0.1495 0.1440)" font-size="100" font-weight="bold">pvalue</text>
<text transform="translate(896.59 1184.70) scale(0.1495 0.1440)" font-size="100" font-weight="bold">Hazard ratio</text>
<text transform="translate(692.86 1249.80) scale(0.1490 0.1500)" font-size="100">Age</text>
<text transform="translate(777.54 1250.30) scale(0.1490 0.1500)" font-size="100">&lt;0.001</text>
<text transform="translate(852.84 1249.80) scale(0.1490 0.1500)" font-size="100">1.024(1.010−1.038)</text>
<text transform="translate(692.15 1314.30) scale(0.1490 0.1500)" font-size="100">Gender</text>
<text transform="translate(787.04 1314.80) scale(0.1490 0.1500)" font-size="100">0.114</text>
<text transform="translate(852.84 1314.30) scale(0.1490 0.1500)" font-size="100">0.776(0.566−1.063)</text>
<text transform="translate(692.15 1379.10) scale(0.1490 0.1500)" font-size="100">Grade</text>
<text transform="translate(786.11 1379.60) scale(0.1490 0.1500)" font-size="100">0.225</text>
<text transform="translate(852.84 1379.10) scale(0.1490 0.1500)" font-size="100">1.152(0.917−1.449)</text>
<text transform="translate(692.23 1444.30) scale(0.1490 0.1500)" font-size="100">Stage</text>
<text transform="translate(777.54 1444.80) scale(0.1490 0.1500)" font-size="100">&lt;0.001</text>
<text transform="translate(852.84 1444.30) scale(0.1490 0.1500)" font-size="100">1.448(1.203−1.743)</text>
<text transform="translate(691.89 1509.50) scale(0.1490 0.1500)" font-size="100">riskScore</text>
<text transform="translate(777.54 1510.00) scale(0.1490 0.1500)" font-size="100">&lt;0.001</text>
<text transform="translate(852.84 1509.50) scale(0.1490 0.1500)" font-size="100">1.779(1.478−2.141)</text>
<line x1="1153.4" y1="1172.9" x2="1153.4" y2="1517.5" stroke="#000" stroke-width="1.8" stroke-dasharray="5.5,4.5"/>
<rect x="1148.4" y="1236.5" width="16.0" height="16.0" fill="#00ee00"/>
<line x1="1098.3" y1="1309.0" x2="1161.4" y2="1309.0" stroke="#00008b" stroke-width="2.3"/>
<line x1="1098.3" y1="1303.8" x2="1098.3" y2="1314.2" stroke="#00008b" stroke-width="2.3"/>
<line x1="1161.4" y1="1303.8" x2="1161.4" y2="1314.2" stroke="#00008b" stroke-width="2.3"/>
<rect x="1116.9" y="1301.0" width="16.0" height="16.0" fill="#00ee00"/>
<line x1="1142.8" y1="1373.8" x2="1210.4" y2="1373.8" stroke="#00008b" stroke-width="2.3"/>
<line x1="1142.8" y1="1368.6" x2="1142.8" y2="1379.0" stroke="#00008b" stroke-width="2.3"/>
<line x1="1210.4" y1="1368.6" x2="1210.4" y2="1379.0" stroke="#00008b" stroke-width="2.3"/>
<rect x="1164.7" y="1365.8" width="16.0" height="16.0" fill="#00ee00"/>
<line x1="1179.1" y1="1439.0" x2="1247.7" y2="1439.0" stroke="#00008b" stroke-width="2.3"/>
<line x1="1179.1" y1="1433.8" x2="1179.1" y2="1444.2" stroke="#00008b" stroke-width="2.3"/>
<line x1="1247.7" y1="1433.8" x2="1247.7" y2="1444.2" stroke="#00008b" stroke-width="2.3"/>
<rect x="1202.3" y="1431.0" width="16.0" height="16.0" fill="#00ee00"/>
<line x1="1214.1" y1="1504.2" x2="1298.2" y2="1504.2" stroke="#00008b" stroke-width="2.3"/>
<line x1="1214.1" y1="1499.0" x2="1214.1" y2="1509.4" stroke="#00008b" stroke-width="2.3"/>
<line x1="1298.2" y1="1499.0" x2="1298.2" y2="1509.4" stroke="#00008b" stroke-width="2.3"/>
<rect x="1244.3" y="1496.2" width="16.0" height="16.0" fill="#00ee00"/>
<line x1="1026.4" y1="1517.5" x2="1280.3" y2="1517.5" stroke="#222" stroke-width="1.3"/>
<line x1="1026.4" y1="1517.5" x2="1026.4" y2="1527.8" stroke="#222" stroke-width="1.3"/>
<text transform="translate(1014.01 1545.30) scale(0.1780 0.1750)" font-size="100">0.0</text>
<line x1="1089.9" y1="1517.5" x2="1089.9" y2="1527.8" stroke="#222" stroke-width="1.3"/>
<text transform="translate(1077.51 1545.30) scale(0.1780 0.1750)" font-size="100">0.5</text>
<line x1="1153.4" y1="1517.5" x2="1153.4" y2="1527.8" stroke="#222" stroke-width="1.3"/>
<text transform="translate(1140.67 1545.30) scale(0.1780 0.1750)" font-size="100">1.0</text>
<line x1="1216.9" y1="1517.5" x2="1216.9" y2="1527.8" stroke="#222" stroke-width="1.3"/>
<text transform="translate(1204.17 1545.30) scale(0.1780 0.1750)" font-size="100">1.5</text>
<line x1="1280.3" y1="1517.5" x2="1280.3" y2="1527.8" stroke="#222" stroke-width="1.3"/>
<text transform="translate(1267.86 1545.30) scale(0.1780 0.1750)" font-size="100">2.0</text>
<text transform="translate(1113.60 1576.30) scale(0.1775 0.1745)" font-size="100">Hazard ratio</text>
<text transform="translate(1297.24 1123.50) scale(0.4480 0.4760)" font-size="100" font-weight="bold" font-family="'Liberation Serif', 'Times New Roman', serif">I</text>
<text transform="translate(1448.33 1170.60) scale(0.1495 0.1440)" font-size="100" font-weight="bold">pvalue</text>
<text transform="translate(1572.29 1171.40) scale(0.1495 0.1440)" font-size="100" font-weight="bold">Hazard ratio</text>
<text transform="translate(1362.56 1237.40) scale(0.1490 0.1500)" font-size="100">Age</text>
<text transform="translate(1449.34 1237.90) scale(0.1490 0.1500)" font-size="100">&lt;0.001</text>
<text transform="translate(1528.54 1237.40) scale(0.1490 0.1500)" font-size="100">1.027(1.012−1.042)</text>
<text transform="translate(1361.86 1305.30) scale(0.1490 0.1500)" font-size="100">Gender</text>
<text transform="translate(1458.84 1305.80) scale(0.1490 0.1500)" font-size="100">0.114</text>
<text transform="translate(1528.54 1305.30) scale(0.1490 0.1500)" font-size="100">0.765(0.548−1.066)</text>
<text transform="translate(1361.86 1371.40) scale(0.1490 0.1500)" font-size="100">Grade</text>
<text transform="translate(1457.87 1371.90) scale(0.1490 0.1500)" font-size="100">0.140</text>
<text transform="translate(1528.54 1371.40) scale(0.1490 0.1500)" font-size="100">1.197(0.943−1.521)</text>
<text transform="translate(1361.93 1436.80) scale(0.1490 0.1500)" font-size="100">Stage</text>
<text transform="translate(1449.34 1437.30) scale(0.1490 0.1500)" font-size="100">&lt;0.001</text>
<text transform="translate(1528.54 1436.80) scale(0.1490 0.1500)" font-size="100">1.499(1.236−1.818)</text>
<text transform="translate(1361.59 1504.00) scale(0.1490 0.1500)" font-size="100">riskScore</text>
<text transform="translate(1449.34 1504.50) scale(0.1490 0.1500)" font-size="100">&lt;0.001</text>
<text transform="translate(1528.54 1504.00) scale(0.1490 0.1500)" font-size="100">1.913(1.564−2.339)</text>
<line x1="1822.4" y1="1160.4" x2="1822.4" y2="1512.7" stroke="#000" stroke-width="1.8" stroke-dasharray="5.5,4.5"/>
<rect x="1817.6" y="1224.1" width="16.0" height="16.0" fill="#ee0000"/>
<line x1="1768.6" y1="1300.0" x2="1830.3" y2="1300.0" stroke="#00008b" stroke-width="2.3"/>
<line x1="1768.6" y1="1294.8" x2="1768.6" y2="1305.2" stroke="#00008b" stroke-width="2.3"/>
<line x1="1830.3" y1="1294.8" x2="1830.3" y2="1305.2" stroke="#00008b" stroke-width="2.3"/>
<rect x="1786.4" y="1292.0" width="16.0" height="16.0" fill="#ee0000"/>
<line x1="1815.6" y1="1366.1" x2="1884.4" y2="1366.1" stroke="#00008b" stroke-width="2.3"/>
<line x1="1815.6" y1="1360.9" x2="1815.6" y2="1371.3" stroke="#00008b" stroke-width="2.3"/>
<line x1="1884.4" y1="1360.9" x2="1884.4" y2="1371.3" stroke="#00008b" stroke-width="2.3"/>
<rect x="1837.8" y="1358.1" width="16.0" height="16.0" fill="#ee0000"/>
<line x1="1850.5" y1="1431.5" x2="1919.7" y2="1431.5" stroke="#00008b" stroke-width="2.3"/>
<line x1="1850.5" y1="1426.3" x2="1850.5" y2="1436.7" stroke="#00008b" stroke-width="2.3"/>
<line x1="1919.7" y1="1426.3" x2="1919.7" y2="1436.7" stroke="#00008b" stroke-width="2.3"/>
<rect x="1873.8" y="1423.5" width="16.0" height="16.0" fill="#ee0000"/>
<line x1="1889.5" y1="1498.7" x2="1981.7" y2="1498.7" stroke="#00008b" stroke-width="2.3"/>
<line x1="1889.5" y1="1493.5" x2="1889.5" y2="1503.9" stroke="#00008b" stroke-width="2.3"/>
<line x1="1981.7" y1="1493.5" x2="1981.7" y2="1503.9" stroke="#00008b" stroke-width="2.3"/>
<rect x="1923.0" y="1490.7" width="16.0" height="16.0" fill="#ee0000"/>
<line x1="1703.4" y1="1512.7" x2="1941.4" y2="1512.7" stroke="#222" stroke-width="1.3"/>
<line x1="1703.4" y1="1512.7" x2="1703.4" y2="1523.0" stroke="#222" stroke-width="1.3"/>
<text transform="translate(1691.01 1540.50) scale(0.1780 0.1750)" font-size="100">0.0</text>
<line x1="1762.9" y1="1512.7" x2="1762.9" y2="1523.0" stroke="#222" stroke-width="1.3"/>
<text transform="translate(1750.53 1540.50) scale(0.1780 0.1750)" font-size="100">0.5</text>
<line x1="1822.4" y1="1512.7" x2="1822.4" y2="1523.0" stroke="#222" stroke-width="1.3"/>
<text transform="translate(1809.70 1540.50) scale(0.1780 0.1750)" font-size="100">1.0</text>
<line x1="1881.9" y1="1512.7" x2="1881.9" y2="1523.0" stroke="#222" stroke-width="1.3"/>
<text transform="translate(1869.22 1540.50) scale(0.1780 0.1750)" font-size="100">1.5</text>
<line x1="1941.4" y1="1512.7" x2="1941.4" y2="1523.0" stroke="#222" stroke-width="1.3"/>
<text transform="translate(1928.92 1540.50) scale(0.1780 0.1750)" font-size="100">2.0</text>
<text transform="translate(1793.90 1572.00) scale(0.1775 0.1745)" font-size="100">Hazard ratio</text>
</svg>
</body></html>
